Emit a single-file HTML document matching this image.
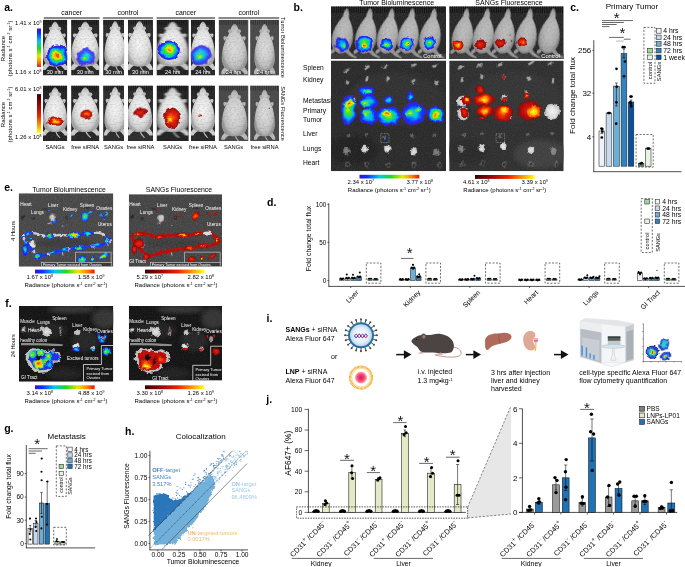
<!DOCTYPE html>
<html><head><meta charset="utf-8"><title>Figure</title>
<style>
html,body{margin:0;padding:0;background:#fff;}
svg{display:block;font-family:"Liberation Sans",sans-serif;}
</style></head>
<body>
<svg width="685" height="567" viewBox="0 0 685 567">
<rect x="0" y="0" width="685" height="567" fill="#fff"/>
<defs>
<linearGradient id="rbV" x1="0" y1="0" x2="0" y2="1">
 <stop offset="0" stop-color="#3a10d8"/><stop offset="0.12" stop-color="#0a30ff"/><stop offset="0.33" stop-color="#00c8f0"/>
 <stop offset="0.52" stop-color="#20d820"/><stop offset="0.72" stop-color="#e8e800"/><stop offset="0.88" stop-color="#ff8000"/><stop offset="1" stop-color="#e81010"/>
</linearGradient>
<linearGradient id="rbH" x1="0" y1="0" x2="1" y2="0">
 <stop offset="0" stop-color="#3a10d8"/><stop offset="0.12" stop-color="#0a30ff"/><stop offset="0.33" stop-color="#00c8f0"/>
 <stop offset="0.52" stop-color="#20d820"/><stop offset="0.72" stop-color="#e8e800"/><stop offset="0.88" stop-color="#ff8000"/><stop offset="1" stop-color="#e81010"/>
</linearGradient>
<linearGradient id="hotV" x1="0" y1="0" x2="0" y2="1">
 <stop offset="0" stop-color="#3a0000"/><stop offset="0.3" stop-color="#a00808"/><stop offset="0.55" stop-color="#f02000"/>
 <stop offset="0.78" stop-color="#ff9000"/><stop offset="1" stop-color="#ffff20"/>
</linearGradient>
<linearGradient id="hotH" x1="0" y1="0" x2="1" y2="0">
 <stop offset="0" stop-color="#3a0000"/><stop offset="0.3" stop-color="#a00808"/><stop offset="0.55" stop-color="#f02000"/>
 <stop offset="0.78" stop-color="#ff9000"/><stop offset="1" stop-color="#ffff20"/>
</linearGradient>
<radialGradient id="rbR">
 <stop offset="0" stop-color="#f02010"/><stop offset="0.15" stop-color="#ffb000"/><stop offset="0.3" stop-color="#e0e800"/>
 <stop offset="0.48" stop-color="#30e030"/><stop offset="0.66" stop-color="#00c0f0"/><stop offset="0.85" stop-color="#1030ff"/><stop offset="1" stop-color="#5018d0"/>
</radialGradient>
<radialGradient id="rbG">
 <stop offset="0" stop-color="#d8e800"/><stop offset="0.3" stop-color="#30e030"/>
 <stop offset="0.58" stop-color="#00c0f0"/><stop offset="0.85" stop-color="#1030ff"/><stop offset="1" stop-color="#5018d0"/>
</radialGradient>
<radialGradient id="rbB">
 <stop offset="0" stop-color="#30e090"/><stop offset="0.35" stop-color="#00b8f0"/><stop offset="0.75" stop-color="#1030ff"/><stop offset="1" stop-color="#4818d0"/>
</radialGradient>
<radialGradient id="hotR">
 <stop offset="0" stop-color="#ffff30"/><stop offset="0.3" stop-color="#ffa000"/><stop offset="0.6" stop-color="#f02000"/><stop offset="1" stop-color="#900808"/>
</radialGradient>
<radialGradient id="hotO">
 <stop offset="0" stop-color="#ff9800"/><stop offset="0.45" stop-color="#f02808"/><stop offset="1" stop-color="#900808"/>
</radialGradient>
<radialGradient id="hotD">
 <stop offset="0" stop-color="#f03010"/><stop offset="0.6" stop-color="#c01008"/><stop offset="1" stop-color="#800808"/>
</radialGradient>
<radialGradient id="dk"><stop offset="0" stop-color="#1c1c1c"/><stop offset="1" stop-color="#2a2a2a"/></radialGradient>
<radialGradient id="rbC"><stop offset="0" stop-color="#f01808"/><stop offset="0.3" stop-color="#ffa000"/><stop offset="0.55" stop-color="#e8f000"/><stop offset="0.8" stop-color="#40e040" stop-opacity="0.8"/><stop offset="1" stop-color="#20d8a0" stop-opacity="0"/></radialGradient>
<radialGradient id="rbGc"><stop offset="0" stop-color="#f0e800"/><stop offset="0.35" stop-color="#60e820"/><stop offset="0.7" stop-color="#10d8b0" stop-opacity="0.8"/><stop offset="1" stop-color="#00b8f0" stop-opacity="0"/></radialGradient>
<radialGradient id="hotC"><stop offset="0" stop-color="#ffff40"/><stop offset="0.45" stop-color="#ffc000"/><stop offset="0.8" stop-color="#ff6000" stop-opacity="0.7"/><stop offset="1" stop-color="#f02000" stop-opacity="0"/></radialGradient>
<radialGradient id="fur">
 <stop offset="0" stop-color="#f6f6f6"/><stop offset="0.55" stop-color="#e6e6e6"/><stop offset="0.85" stop-color="#cfcfcf"/><stop offset="1" stop-color="#a8a8a8"/>
</radialGradient>
<filter id="b03" x="-20%" y="-20%" width="140%" height="140%"><feGaussianBlur stdDeviation="0.35"/></filter>
<filter id="b06" x="-20%" y="-20%" width="140%" height="140%"><feGaussianBlur stdDeviation="0.6"/></filter>
<filter id="b1" x="-30%" y="-30%" width="160%" height="160%"><feGaussianBlur stdDeviation="1"/></filter>
<filter id="b2" x="-30%" y="-30%" width="160%" height="160%"><feGaussianBlur stdDeviation="2"/></filter>
<filter id="noise" x="0" y="0" width="100%" height="100%">
 <feTurbulence type="fractalNoise" baseFrequency="0.9" numOctaves="2" seed="3" result="n"/>
 <feColorMatrix type="matrix" values="0 0 0 0 1  0 0 0 0 1  0 0 0 0 1  0.6 0 0 0 -0.22"/>
</filter>
<filter id="noiseD" x="0" y="0" width="100%" height="100%">
 <feTurbulence type="fractalNoise" baseFrequency="0.6" numOctaves="2" seed="9" result="n"/>
 <feColorMatrix type="matrix" values="0 0 0 0 0  0 0 0 0 0  0 0 0 0 0  0.7 0 0 0 -0.25"/>
</filter>
<filter id="furf" x="-10%" y="-10%" width="120%" height="120%">
 <feTurbulence type="fractalNoise" baseFrequency="0.55" numOctaves="3" seed="2" result="n"/>
 <feColorMatrix in="n" type="matrix" values="0 0 0 0 0  0 0 0 0 0  0 0 0 0 0  0.62 0 0 0 -0.27" result="na"/>
 <feGaussianBlur in="SourceGraphic" stdDeviation="0.55" result="s"/>
 <feComposite in="na" in2="s" operator="in" result="dk"/>
 <feMerge><feMergeNode in="s"/><feMergeNode in="dk"/></feMerge>
</filter>
<filter id="irr" x="-30%" y="-30%" width="160%" height="160%">
 <feTurbulence type="fractalNoise" baseFrequency="0.16" numOctaves="2" seed="5" result="t"/>
 <feDisplacementMap in="SourceGraphic" in2="t" scale="5" xChannelSelector="R" yChannelSelector="G" result="d"/>
 <feGaussianBlur in="d" stdDeviation="0.25"/>
</filter>
<filter id="irr2" x="-30%" y="-30%" width="160%" height="160%">
 <feTurbulence type="fractalNoise" baseFrequency="0.3" numOctaves="2" seed="8" result="t"/>
 <feDisplacementMap in="SourceGraphic" in2="t" scale="4" xChannelSelector="G" yChannelSelector="R" result="d"/>
 <feGaussianBlur in="d" stdDeviation="0.25"/>
</filter>
<!-- mouse seen from above, head up. unit box: x -10..10, y 0..56 -->
<g id="mouse">
 <path d="M-6 45 C-9 48 -11 51 -10.5 54.5 L-8 54.5 C-7 52 -5 50 -3.5 49 Z M6 45 C9 48 11 51 10.5 54.5 L8 54.5 C7 52 5 50 3.5 49 Z" fill="#cfcfcf"/>
 <path d="M0.5 50 C1 53 2.5 55 4 57" stroke="#bbb" stroke-width="1" fill="none"/>
 <path d="M-5.5 15 C-8.5 13 -10 15 -8 19 Z M5.5 15 C8.5 13 10 15 8 19 Z" fill="#c8c8c8"/>
 <path d="M0 1 C-1.4 1.5 -2.6 4 -3.2 7.5 C-3.8 10.5 -5.2 13.5 -7 18 C-8.8 23 -10 30 -10.2 37 C-10.3 42 -9.2 46 -7 48.5 C-4 51.5 4 51.5 7 48.5 C9.2 46 10.3 42 10.2 37 C10 30 8.8 23 7 18 C5.2 13.5 3.8 10.5 3.2 7.5 C2.6 4 1.4 1.5 0 1 Z" fill="url(#fur)"/>
 <ellipse cx="-3.6" cy="9" rx="1.5" ry="2" fill="#c4c4c4"/><ellipse cx="3.6" cy="9" rx="1.5" ry="2" fill="#c4c4c4"/>
</g>
</defs>
<g opacity="0.999">
<text x="4.20" y="10.88" font-size="10.5" text-anchor="start" font-weight="bold" fill="#000" opacity="0.999">a.</text>
<rect x="43.80" y="17.00" width="55.80" height="2.00" fill="#8a8a8a" stroke="none" stroke-width="0.5"/>
<text x="71.70" y="14.71" font-size="6.9" text-anchor="middle" font-weight="normal" fill="#000" opacity="0.999">cancer</text>
<rect x="102.90" y="17.00" width="50.10" height="2.00" fill="#8a8a8a" stroke="none" stroke-width="0.5"/>
<text x="127.95" y="14.71" font-size="6.9" text-anchor="middle" font-weight="normal" fill="#000" opacity="0.999">control</text>
<rect x="156.60" y="17.00" width="58.40" height="2.00" fill="#8a8a8a" stroke="none" stroke-width="0.5"/>
<text x="185.80" y="14.71" font-size="6.9" text-anchor="middle" font-weight="normal" fill="#000" opacity="0.999">cancer</text>
<rect x="218.50" y="17.00" width="60.70" height="2.00" fill="#8a8a8a" stroke="none" stroke-width="0.5"/>
<text x="248.85" y="14.71" font-size="6.9" text-anchor="middle" font-weight="normal" fill="#000" opacity="0.999">control</text>
<clipPath id="cp1"><rect x="42.90" y="19.70" width="24.40" height="55.80"/></clipPath><g clip-path="url(#cp1)">
<rect x="42.90" y="19.70" width="24.40" height="55.80" fill="#242424" stroke="none" stroke-width="0.5"/>
<line x1="43.90" y1="19.70" x2="43.90" y2="24.70" stroke="#111" stroke-width="0.8"/>
<line x1="46.10" y1="19.70" x2="46.10" y2="24.70" stroke="#111" stroke-width="0.8"/>
<line x1="48.30" y1="19.70" x2="48.30" y2="24.70" stroke="#111" stroke-width="0.8"/>
<line x1="50.50" y1="19.70" x2="50.50" y2="24.70" stroke="#111" stroke-width="0.8"/>
<line x1="52.70" y1="19.70" x2="52.70" y2="24.70" stroke="#111" stroke-width="0.8"/>
<line x1="54.90" y1="19.70" x2="54.90" y2="24.70" stroke="#111" stroke-width="0.8"/>
<line x1="57.10" y1="19.70" x2="57.10" y2="24.70" stroke="#111" stroke-width="0.8"/>
<line x1="59.30" y1="19.70" x2="59.30" y2="24.70" stroke="#111" stroke-width="0.8"/>
<line x1="61.50" y1="19.70" x2="61.50" y2="24.70" stroke="#111" stroke-width="0.8"/>
<line x1="63.70" y1="19.70" x2="63.70" y2="24.70" stroke="#111" stroke-width="0.8"/>
<line x1="65.90" y1="19.70" x2="65.90" y2="24.70" stroke="#111" stroke-width="0.8"/>
<use href="#mouse" transform="translate(55.10 20.50) scale(1.196 0.907)" filter="url(#furf)"/>
<rect x="42.90" y="19.70" width="24.40" height="55.80" fill="#fff" stroke="none" stroke-width="0.5" filter="url(#noise)" opacity="0.22"/>
<ellipse cx="57.00" cy="55.60" rx="10.80" ry="11.00" fill="url(#rbR)" opacity="1" transform="rotate(0 57.00 55.60)" filter="url(#irr)"/>
</g>
<text x="55.10" y="73.86" font-size="5.6" text-anchor="middle" font-weight="normal" fill="#fff" opacity="0.999">30 min</text>
<clipPath id="cp2"><rect x="71.10" y="19.70" width="28.30" height="55.80"/></clipPath><g clip-path="url(#cp2)">
<rect x="71.10" y="19.70" width="28.30" height="55.80" fill="#262626" stroke="none" stroke-width="0.5"/>
<line x1="72.10" y1="19.70" x2="72.10" y2="24.70" stroke="#111" stroke-width="0.8"/>
<line x1="74.30" y1="19.70" x2="74.30" y2="24.70" stroke="#111" stroke-width="0.8"/>
<line x1="76.50" y1="19.70" x2="76.50" y2="24.70" stroke="#111" stroke-width="0.8"/>
<line x1="78.70" y1="19.70" x2="78.70" y2="24.70" stroke="#111" stroke-width="0.8"/>
<line x1="80.90" y1="19.70" x2="80.90" y2="24.70" stroke="#111" stroke-width="0.8"/>
<line x1="83.10" y1="19.70" x2="83.10" y2="24.70" stroke="#111" stroke-width="0.8"/>
<line x1="85.30" y1="19.70" x2="85.30" y2="24.70" stroke="#111" stroke-width="0.8"/>
<line x1="87.50" y1="19.70" x2="87.50" y2="24.70" stroke="#111" stroke-width="0.8"/>
<line x1="89.70" y1="19.70" x2="89.70" y2="24.70" stroke="#111" stroke-width="0.8"/>
<line x1="91.90" y1="19.70" x2="91.90" y2="24.70" stroke="#111" stroke-width="0.8"/>
<line x1="94.10" y1="19.70" x2="94.10" y2="24.70" stroke="#111" stroke-width="0.8"/>
<line x1="96.30" y1="19.70" x2="96.30" y2="24.70" stroke="#111" stroke-width="0.8"/>
<use href="#mouse" transform="translate(85.25 20.50) scale(1.387 0.907)" filter="url(#furf)"/>
<rect x="71.10" y="19.70" width="28.30" height="55.80" fill="#fff" stroke="none" stroke-width="0.5" filter="url(#noise)" opacity="0.22"/>
<ellipse cx="86.00" cy="56.80" rx="9.00" ry="9.00" fill="url(#rbB)" opacity="0.85" transform="rotate(-20 86.00 56.80)" filter="url(#irr)"/>
<ellipse cx="85.00" cy="59.00" rx="5.00" ry="3.60" fill="url(#rbGc)" opacity="1" transform="rotate(0 85.00 59.00)" filter="url(#irr)"/>
</g>
<text x="85.25" y="73.86" font-size="5.6" text-anchor="middle" font-weight="normal" fill="#fff" opacity="0.999">30 min</text>
<clipPath id="cp3"><rect x="103.10" y="19.70" width="21.00" height="55.80"/></clipPath><g clip-path="url(#cp3)">
<rect x="103.10" y="19.70" width="21.00" height="55.80" fill="#2c2c2c" stroke="none" stroke-width="0.5"/>
<line x1="104.10" y1="19.70" x2="104.10" y2="24.70" stroke="#111" stroke-width="0.8"/>
<line x1="106.30" y1="19.70" x2="106.30" y2="24.70" stroke="#111" stroke-width="0.8"/>
<line x1="108.50" y1="19.70" x2="108.50" y2="24.70" stroke="#111" stroke-width="0.8"/>
<line x1="110.70" y1="19.70" x2="110.70" y2="24.70" stroke="#111" stroke-width="0.8"/>
<line x1="112.90" y1="19.70" x2="112.90" y2="24.70" stroke="#111" stroke-width="0.8"/>
<line x1="115.10" y1="19.70" x2="115.10" y2="24.70" stroke="#111" stroke-width="0.8"/>
<line x1="117.30" y1="19.70" x2="117.30" y2="24.70" stroke="#111" stroke-width="0.8"/>
<line x1="119.50" y1="19.70" x2="119.50" y2="24.70" stroke="#111" stroke-width="0.8"/>
<line x1="121.70" y1="19.70" x2="121.70" y2="24.70" stroke="#111" stroke-width="0.8"/>
<use href="#mouse" transform="translate(115.10 20.00) scale(1.050 0.917)" filter="url(#furf)"/>
<rect x="103.10" y="19.70" width="21.00" height="55.80" fill="#fff" stroke="none" stroke-width="0.5" filter="url(#noise)" opacity="0.22"/>
</g>
<text x="113.60" y="73.86" font-size="5.6" text-anchor="middle" font-weight="normal" fill="#fff" opacity="0.999">30 min</text>
<clipPath id="cp4"><rect x="128.00" y="19.70" width="25.00" height="55.80"/></clipPath><g clip-path="url(#cp4)">
<rect x="128.00" y="19.70" width="25.00" height="55.80" fill="#2c2c2c" stroke="none" stroke-width="0.5"/>
<line x1="129.00" y1="19.70" x2="129.00" y2="24.70" stroke="#111" stroke-width="0.8"/>
<line x1="131.20" y1="19.70" x2="131.20" y2="24.70" stroke="#111" stroke-width="0.8"/>
<line x1="133.40" y1="19.70" x2="133.40" y2="24.70" stroke="#111" stroke-width="0.8"/>
<line x1="135.60" y1="19.70" x2="135.60" y2="24.70" stroke="#111" stroke-width="0.8"/>
<line x1="137.80" y1="19.70" x2="137.80" y2="24.70" stroke="#111" stroke-width="0.8"/>
<line x1="140.00" y1="19.70" x2="140.00" y2="24.70" stroke="#111" stroke-width="0.8"/>
<line x1="142.20" y1="19.70" x2="142.20" y2="24.70" stroke="#111" stroke-width="0.8"/>
<line x1="144.40" y1="19.70" x2="144.40" y2="24.70" stroke="#111" stroke-width="0.8"/>
<line x1="146.60" y1="19.70" x2="146.60" y2="24.70" stroke="#111" stroke-width="0.8"/>
<line x1="148.80" y1="19.70" x2="148.80" y2="24.70" stroke="#111" stroke-width="0.8"/>
<line x1="151.00" y1="19.70" x2="151.00" y2="24.70" stroke="#111" stroke-width="0.8"/>
<use href="#mouse" transform="translate(139.50 20.00) scale(1.250 0.917)" filter="url(#furf)"/>
<rect x="128.00" y="19.70" width="25.00" height="55.80" fill="#fff" stroke="none" stroke-width="0.5" filter="url(#noise)" opacity="0.22"/>
</g>
<text x="140.50" y="73.86" font-size="5.6" text-anchor="middle" font-weight="normal" fill="#fff" opacity="0.999">30 min</text>
<clipPath id="cp5"><rect x="156.50" y="19.70" width="32.30" height="55.80"/></clipPath><g clip-path="url(#cp5)">
<rect x="156.50" y="19.70" width="32.30" height="55.80" fill="#222222" stroke="none" stroke-width="0.5"/>
<line x1="157.50" y1="19.70" x2="157.50" y2="24.70" stroke="#111" stroke-width="0.8"/>
<line x1="159.70" y1="19.70" x2="159.70" y2="24.70" stroke="#111" stroke-width="0.8"/>
<line x1="161.90" y1="19.70" x2="161.90" y2="24.70" stroke="#111" stroke-width="0.8"/>
<line x1="164.10" y1="19.70" x2="164.10" y2="24.70" stroke="#111" stroke-width="0.8"/>
<line x1="166.30" y1="19.70" x2="166.30" y2="24.70" stroke="#111" stroke-width="0.8"/>
<line x1="168.50" y1="19.70" x2="168.50" y2="24.70" stroke="#111" stroke-width="0.8"/>
<line x1="170.70" y1="19.70" x2="170.70" y2="24.70" stroke="#111" stroke-width="0.8"/>
<line x1="172.90" y1="19.70" x2="172.90" y2="24.70" stroke="#111" stroke-width="0.8"/>
<line x1="175.10" y1="19.70" x2="175.10" y2="24.70" stroke="#111" stroke-width="0.8"/>
<line x1="177.30" y1="19.70" x2="177.30" y2="24.70" stroke="#111" stroke-width="0.8"/>
<line x1="179.50" y1="19.70" x2="179.50" y2="24.70" stroke="#111" stroke-width="0.8"/>
<line x1="181.70" y1="19.70" x2="181.70" y2="24.70" stroke="#111" stroke-width="0.8"/>
<line x1="183.90" y1="19.70" x2="183.90" y2="24.70" stroke="#111" stroke-width="0.8"/>
<line x1="186.10" y1="19.70" x2="186.10" y2="24.70" stroke="#111" stroke-width="0.8"/>
<use href="#mouse" transform="translate(172.65 20.50) scale(1.583 0.907)" filter="url(#furf)"/>
<rect x="156.50" y="19.70" width="32.30" height="55.80" fill="#fff" stroke="none" stroke-width="0.5" filter="url(#noise)" opacity="0.22"/>
<ellipse cx="169.20" cy="50.20" rx="10.80" ry="9.80" fill="url(#rbR)" opacity="1" transform="rotate(0 169.20 50.20)" filter="url(#irr)"/>
</g>
<text x="172.65" y="73.86" font-size="5.6" text-anchor="middle" font-weight="normal" fill="#fff" opacity="0.999">24 hrs</text>
<clipPath id="cp6"><rect x="190.80" y="19.70" width="24.20" height="55.80"/></clipPath><g clip-path="url(#cp6)">
<rect x="190.80" y="19.70" width="24.20" height="55.80" fill="#262626" stroke="none" stroke-width="0.5"/>
<line x1="191.80" y1="19.70" x2="191.80" y2="24.70" stroke="#111" stroke-width="0.8"/>
<line x1="194.00" y1="19.70" x2="194.00" y2="24.70" stroke="#111" stroke-width="0.8"/>
<line x1="196.20" y1="19.70" x2="196.20" y2="24.70" stroke="#111" stroke-width="0.8"/>
<line x1="198.40" y1="19.70" x2="198.40" y2="24.70" stroke="#111" stroke-width="0.8"/>
<line x1="200.60" y1="19.70" x2="200.60" y2="24.70" stroke="#111" stroke-width="0.8"/>
<line x1="202.80" y1="19.70" x2="202.80" y2="24.70" stroke="#111" stroke-width="0.8"/>
<line x1="205.00" y1="19.70" x2="205.00" y2="24.70" stroke="#111" stroke-width="0.8"/>
<line x1="207.20" y1="19.70" x2="207.20" y2="24.70" stroke="#111" stroke-width="0.8"/>
<line x1="209.40" y1="19.70" x2="209.40" y2="24.70" stroke="#111" stroke-width="0.8"/>
<line x1="211.60" y1="19.70" x2="211.60" y2="24.70" stroke="#111" stroke-width="0.8"/>
<use href="#mouse" transform="translate(202.90 20.50) scale(1.186 0.907)" filter="url(#furf)"/>
<rect x="190.80" y="19.70" width="24.20" height="55.80" fill="#fff" stroke="none" stroke-width="0.5" filter="url(#noise)" opacity="0.22"/>
<ellipse cx="200.50" cy="54.80" rx="11.00" ry="10.00" fill="url(#rbB)" opacity="0.85" transform="rotate(-35 200.50 54.80)" filter="url(#irr)"/>
<ellipse cx="200.00" cy="57.00" rx="6.00" ry="4.60" fill="url(#rbGc)" opacity="1" transform="rotate(-30 200.00 57.00)" filter="url(#irr)"/>
</g>
<text x="202.90" y="73.86" font-size="5.6" text-anchor="middle" font-weight="normal" fill="#fff" opacity="0.999">24 hrs</text>
<clipPath id="cp7"><rect x="218.60" y="19.70" width="29.90" height="55.80"/></clipPath><g clip-path="url(#cp7)">
<rect x="218.60" y="19.70" width="29.90" height="55.80" fill="#474747" stroke="none" stroke-width="0.5"/>
<line x1="219.60" y1="19.70" x2="219.60" y2="24.70" stroke="#2a2a2a" stroke-width="0.8"/>
<line x1="221.80" y1="19.70" x2="221.80" y2="24.70" stroke="#2a2a2a" stroke-width="0.8"/>
<line x1="224.00" y1="19.70" x2="224.00" y2="24.70" stroke="#2a2a2a" stroke-width="0.8"/>
<line x1="226.20" y1="19.70" x2="226.20" y2="24.70" stroke="#2a2a2a" stroke-width="0.8"/>
<line x1="228.40" y1="19.70" x2="228.40" y2="24.70" stroke="#2a2a2a" stroke-width="0.8"/>
<line x1="230.60" y1="19.70" x2="230.60" y2="24.70" stroke="#2a2a2a" stroke-width="0.8"/>
<line x1="232.80" y1="19.70" x2="232.80" y2="24.70" stroke="#2a2a2a" stroke-width="0.8"/>
<line x1="235.00" y1="19.70" x2="235.00" y2="24.70" stroke="#2a2a2a" stroke-width="0.8"/>
<line x1="237.20" y1="19.70" x2="237.20" y2="24.70" stroke="#2a2a2a" stroke-width="0.8"/>
<line x1="239.40" y1="19.70" x2="239.40" y2="24.70" stroke="#2a2a2a" stroke-width="0.8"/>
<line x1="241.60" y1="19.70" x2="241.60" y2="24.70" stroke="#2a2a2a" stroke-width="0.8"/>
<line x1="243.80" y1="19.70" x2="243.80" y2="24.70" stroke="#2a2a2a" stroke-width="0.8"/>
<line x1="246.00" y1="19.70" x2="246.00" y2="24.70" stroke="#2a2a2a" stroke-width="0.8"/>
<use href="#mouse" transform="translate(234.55 22.70) scale(1.256 0.947)" filter="url(#furf)" opacity="0.86"/>
<rect x="218.60" y="19.70" width="29.90" height="55.80" fill="#fff" stroke="none" stroke-width="0.5" filter="url(#noise)" opacity="0.22"/>
</g>
<text x="233.55" y="73.86" font-size="5.6" text-anchor="middle" font-weight="normal" fill="#fff" opacity="0.999">24 hrs</text>
<clipPath id="cp8"><rect x="250.10" y="19.70" width="29.00" height="55.80"/></clipPath><g clip-path="url(#cp8)">
<rect x="250.10" y="19.70" width="29.00" height="55.80" fill="#494949" stroke="none" stroke-width="0.5"/>
<line x1="251.10" y1="19.70" x2="251.10" y2="24.70" stroke="#2a2a2a" stroke-width="0.8"/>
<line x1="253.30" y1="19.70" x2="253.30" y2="24.70" stroke="#2a2a2a" stroke-width="0.8"/>
<line x1="255.50" y1="19.70" x2="255.50" y2="24.70" stroke="#2a2a2a" stroke-width="0.8"/>
<line x1="257.70" y1="19.70" x2="257.70" y2="24.70" stroke="#2a2a2a" stroke-width="0.8"/>
<line x1="259.90" y1="19.70" x2="259.90" y2="24.70" stroke="#2a2a2a" stroke-width="0.8"/>
<line x1="262.10" y1="19.70" x2="262.10" y2="24.70" stroke="#2a2a2a" stroke-width="0.8"/>
<line x1="264.30" y1="19.70" x2="264.30" y2="24.70" stroke="#2a2a2a" stroke-width="0.8"/>
<line x1="266.50" y1="19.70" x2="266.50" y2="24.70" stroke="#2a2a2a" stroke-width="0.8"/>
<line x1="268.70" y1="19.70" x2="268.70" y2="24.70" stroke="#2a2a2a" stroke-width="0.8"/>
<line x1="270.90" y1="19.70" x2="270.90" y2="24.70" stroke="#2a2a2a" stroke-width="0.8"/>
<line x1="273.10" y1="19.70" x2="273.10" y2="24.70" stroke="#2a2a2a" stroke-width="0.8"/>
<line x1="275.30" y1="19.70" x2="275.30" y2="24.70" stroke="#2a2a2a" stroke-width="0.8"/>
<line x1="277.50" y1="19.70" x2="277.50" y2="24.70" stroke="#2a2a2a" stroke-width="0.8"/>
<use href="#mouse" transform="translate(264.60 22.70) scale(1.015 0.947)" filter="url(#furf)" opacity="0.86"/>
<rect x="250.10" y="19.70" width="29.00" height="55.80" fill="#fff" stroke="none" stroke-width="0.5" filter="url(#noise)" opacity="0.22"/>
</g>
<text x="264.60" y="73.86" font-size="5.6" text-anchor="middle" font-weight="normal" fill="#fff" opacity="0.999">24 hrs</text>
<clipPath id="cp9"><rect x="42.90" y="85.50" width="24.40" height="55.50"/></clipPath><g clip-path="url(#cp9)">
<rect x="42.90" y="85.50" width="24.40" height="55.50" fill="#242424" stroke="none" stroke-width="0.5"/>
<line x1="43.90" y1="85.50" x2="43.90" y2="90.50" stroke="#111" stroke-width="0.8"/>
<line x1="46.10" y1="85.50" x2="46.10" y2="90.50" stroke="#111" stroke-width="0.8"/>
<line x1="48.30" y1="85.50" x2="48.30" y2="90.50" stroke="#111" stroke-width="0.8"/>
<line x1="50.50" y1="85.50" x2="50.50" y2="90.50" stroke="#111" stroke-width="0.8"/>
<line x1="52.70" y1="85.50" x2="52.70" y2="90.50" stroke="#111" stroke-width="0.8"/>
<line x1="54.90" y1="85.50" x2="54.90" y2="90.50" stroke="#111" stroke-width="0.8"/>
<line x1="57.10" y1="85.50" x2="57.10" y2="90.50" stroke="#111" stroke-width="0.8"/>
<line x1="59.30" y1="85.50" x2="59.30" y2="90.50" stroke="#111" stroke-width="0.8"/>
<line x1="61.50" y1="85.50" x2="61.50" y2="90.50" stroke="#111" stroke-width="0.8"/>
<line x1="63.70" y1="85.50" x2="63.70" y2="90.50" stroke="#111" stroke-width="0.8"/>
<line x1="65.90" y1="85.50" x2="65.90" y2="90.50" stroke="#111" stroke-width="0.8"/>
<use href="#mouse" transform="translate(55.10 86.30) scale(1.196 0.902)" filter="url(#furf)"/>
<rect x="42.90" y="85.50" width="24.40" height="55.50" fill="#fff" stroke="none" stroke-width="0.5" filter="url(#noise)" opacity="0.22"/>
<ellipse cx="55.60" cy="121.50" rx="8.40" ry="4.20" fill="url(#hotR)" opacity="1" transform="rotate(0 55.60 121.50)" filter="url(#irr)"/>
</g>
<text x="55.10" y="148.81" font-size="5.75" text-anchor="middle" font-weight="normal" fill="#000" opacity="0.999">SANGs</text>
<clipPath id="cp10"><rect x="71.10" y="85.50" width="28.30" height="55.50"/></clipPath><g clip-path="url(#cp10)">
<rect x="71.10" y="85.50" width="28.30" height="55.50" fill="#262626" stroke="none" stroke-width="0.5"/>
<line x1="72.10" y1="85.50" x2="72.10" y2="90.50" stroke="#111" stroke-width="0.8"/>
<line x1="74.30" y1="85.50" x2="74.30" y2="90.50" stroke="#111" stroke-width="0.8"/>
<line x1="76.50" y1="85.50" x2="76.50" y2="90.50" stroke="#111" stroke-width="0.8"/>
<line x1="78.70" y1="85.50" x2="78.70" y2="90.50" stroke="#111" stroke-width="0.8"/>
<line x1="80.90" y1="85.50" x2="80.90" y2="90.50" stroke="#111" stroke-width="0.8"/>
<line x1="83.10" y1="85.50" x2="83.10" y2="90.50" stroke="#111" stroke-width="0.8"/>
<line x1="85.30" y1="85.50" x2="85.30" y2="90.50" stroke="#111" stroke-width="0.8"/>
<line x1="87.50" y1="85.50" x2="87.50" y2="90.50" stroke="#111" stroke-width="0.8"/>
<line x1="89.70" y1="85.50" x2="89.70" y2="90.50" stroke="#111" stroke-width="0.8"/>
<line x1="91.90" y1="85.50" x2="91.90" y2="90.50" stroke="#111" stroke-width="0.8"/>
<line x1="94.10" y1="85.50" x2="94.10" y2="90.50" stroke="#111" stroke-width="0.8"/>
<line x1="96.30" y1="85.50" x2="96.30" y2="90.50" stroke="#111" stroke-width="0.8"/>
<use href="#mouse" transform="translate(85.25 86.30) scale(1.387 0.902)" filter="url(#furf)"/>
<rect x="71.10" y="85.50" width="28.30" height="55.50" fill="#fff" stroke="none" stroke-width="0.5" filter="url(#noise)" opacity="0.22"/>
<ellipse cx="86.50" cy="114.40" rx="6.20" ry="4.60" fill="url(#hotO)" opacity="1" transform="rotate(-12 86.50 114.40)" filter="url(#irr)"/>
</g>
<text x="85.25" y="148.81" font-size="5.75" text-anchor="middle" font-weight="normal" fill="#000" opacity="0.999">free siRNA</text>
<clipPath id="cp11"><rect x="103.10" y="85.50" width="21.00" height="55.50"/></clipPath><g clip-path="url(#cp11)">
<rect x="103.10" y="85.50" width="21.00" height="55.50" fill="#2c2c2c" stroke="none" stroke-width="0.5"/>
<line x1="104.10" y1="85.50" x2="104.10" y2="90.50" stroke="#111" stroke-width="0.8"/>
<line x1="106.30" y1="85.50" x2="106.30" y2="90.50" stroke="#111" stroke-width="0.8"/>
<line x1="108.50" y1="85.50" x2="108.50" y2="90.50" stroke="#111" stroke-width="0.8"/>
<line x1="110.70" y1="85.50" x2="110.70" y2="90.50" stroke="#111" stroke-width="0.8"/>
<line x1="112.90" y1="85.50" x2="112.90" y2="90.50" stroke="#111" stroke-width="0.8"/>
<line x1="115.10" y1="85.50" x2="115.10" y2="90.50" stroke="#111" stroke-width="0.8"/>
<line x1="117.30" y1="85.50" x2="117.30" y2="90.50" stroke="#111" stroke-width="0.8"/>
<line x1="119.50" y1="85.50" x2="119.50" y2="90.50" stroke="#111" stroke-width="0.8"/>
<line x1="121.70" y1="85.50" x2="121.70" y2="90.50" stroke="#111" stroke-width="0.8"/>
<use href="#mouse" transform="translate(115.10 85.80) scale(1.050 0.912)" filter="url(#furf)"/>
<rect x="103.10" y="85.50" width="21.00" height="55.50" fill="#fff" stroke="none" stroke-width="0.5" filter="url(#noise)" opacity="0.22"/>
</g>
<text x="113.60" y="148.81" font-size="5.75" text-anchor="middle" font-weight="normal" fill="#000" opacity="0.999">SANGs</text>
<clipPath id="cp12"><rect x="128.00" y="85.50" width="25.00" height="55.50"/></clipPath><g clip-path="url(#cp12)">
<rect x="128.00" y="85.50" width="25.00" height="55.50" fill="#2c2c2c" stroke="none" stroke-width="0.5"/>
<line x1="129.00" y1="85.50" x2="129.00" y2="90.50" stroke="#111" stroke-width="0.8"/>
<line x1="131.20" y1="85.50" x2="131.20" y2="90.50" stroke="#111" stroke-width="0.8"/>
<line x1="133.40" y1="85.50" x2="133.40" y2="90.50" stroke="#111" stroke-width="0.8"/>
<line x1="135.60" y1="85.50" x2="135.60" y2="90.50" stroke="#111" stroke-width="0.8"/>
<line x1="137.80" y1="85.50" x2="137.80" y2="90.50" stroke="#111" stroke-width="0.8"/>
<line x1="140.00" y1="85.50" x2="140.00" y2="90.50" stroke="#111" stroke-width="0.8"/>
<line x1="142.20" y1="85.50" x2="142.20" y2="90.50" stroke="#111" stroke-width="0.8"/>
<line x1="144.40" y1="85.50" x2="144.40" y2="90.50" stroke="#111" stroke-width="0.8"/>
<line x1="146.60" y1="85.50" x2="146.60" y2="90.50" stroke="#111" stroke-width="0.8"/>
<line x1="148.80" y1="85.50" x2="148.80" y2="90.50" stroke="#111" stroke-width="0.8"/>
<line x1="151.00" y1="85.50" x2="151.00" y2="90.50" stroke="#111" stroke-width="0.8"/>
<use href="#mouse" transform="translate(139.50 85.80) scale(1.250 0.912)" filter="url(#furf)"/>
<rect x="128.00" y="85.50" width="25.00" height="55.50" fill="#fff" stroke="none" stroke-width="0.5" filter="url(#noise)" opacity="0.22"/>
<ellipse cx="140.30" cy="112.80" rx="7.00" ry="4.20" fill="url(#hotD)" opacity="1" transform="rotate(-8 140.30 112.80)" filter="url(#irr)"/>
</g>
<text x="140.50" y="148.81" font-size="5.75" text-anchor="middle" font-weight="normal" fill="#000" opacity="0.999">free siRNA</text>
<clipPath id="cp13"><rect x="156.50" y="85.50" width="32.30" height="55.50"/></clipPath><g clip-path="url(#cp13)">
<rect x="156.50" y="85.50" width="32.30" height="55.50" fill="#222222" stroke="none" stroke-width="0.5"/>
<line x1="157.50" y1="85.50" x2="157.50" y2="90.50" stroke="#111" stroke-width="0.8"/>
<line x1="159.70" y1="85.50" x2="159.70" y2="90.50" stroke="#111" stroke-width="0.8"/>
<line x1="161.90" y1="85.50" x2="161.90" y2="90.50" stroke="#111" stroke-width="0.8"/>
<line x1="164.10" y1="85.50" x2="164.10" y2="90.50" stroke="#111" stroke-width="0.8"/>
<line x1="166.30" y1="85.50" x2="166.30" y2="90.50" stroke="#111" stroke-width="0.8"/>
<line x1="168.50" y1="85.50" x2="168.50" y2="90.50" stroke="#111" stroke-width="0.8"/>
<line x1="170.70" y1="85.50" x2="170.70" y2="90.50" stroke="#111" stroke-width="0.8"/>
<line x1="172.90" y1="85.50" x2="172.90" y2="90.50" stroke="#111" stroke-width="0.8"/>
<line x1="175.10" y1="85.50" x2="175.10" y2="90.50" stroke="#111" stroke-width="0.8"/>
<line x1="177.30" y1="85.50" x2="177.30" y2="90.50" stroke="#111" stroke-width="0.8"/>
<line x1="179.50" y1="85.50" x2="179.50" y2="90.50" stroke="#111" stroke-width="0.8"/>
<line x1="181.70" y1="85.50" x2="181.70" y2="90.50" stroke="#111" stroke-width="0.8"/>
<line x1="183.90" y1="85.50" x2="183.90" y2="90.50" stroke="#111" stroke-width="0.8"/>
<line x1="186.10" y1="85.50" x2="186.10" y2="90.50" stroke="#111" stroke-width="0.8"/>
<use href="#mouse" transform="translate(172.65 86.30) scale(1.583 0.902)" filter="url(#furf)"/>
<rect x="156.50" y="85.50" width="32.30" height="55.50" fill="#fff" stroke="none" stroke-width="0.5" filter="url(#noise)" opacity="0.22"/>
<ellipse cx="172.00" cy="118.20" rx="8.20" ry="10.80" fill="url(#hotO)" opacity="1" transform="rotate(0 172.00 118.20)" filter="url(#irr)"/>
<ellipse cx="170.00" cy="120.00" rx="4.50" ry="4.00" fill="url(#hotC)" opacity="1" transform="rotate(0 170.00 120.00)" filter="url(#irr)"/>
</g>
<text x="172.65" y="148.81" font-size="5.75" text-anchor="middle" font-weight="normal" fill="#000" opacity="0.999">SANGs</text>
<clipPath id="cp14"><rect x="190.80" y="85.50" width="24.20" height="55.50"/></clipPath><g clip-path="url(#cp14)">
<rect x="190.80" y="85.50" width="24.20" height="55.50" fill="#262626" stroke="none" stroke-width="0.5"/>
<line x1="191.80" y1="85.50" x2="191.80" y2="90.50" stroke="#111" stroke-width="0.8"/>
<line x1="194.00" y1="85.50" x2="194.00" y2="90.50" stroke="#111" stroke-width="0.8"/>
<line x1="196.20" y1="85.50" x2="196.20" y2="90.50" stroke="#111" stroke-width="0.8"/>
<line x1="198.40" y1="85.50" x2="198.40" y2="90.50" stroke="#111" stroke-width="0.8"/>
<line x1="200.60" y1="85.50" x2="200.60" y2="90.50" stroke="#111" stroke-width="0.8"/>
<line x1="202.80" y1="85.50" x2="202.80" y2="90.50" stroke="#111" stroke-width="0.8"/>
<line x1="205.00" y1="85.50" x2="205.00" y2="90.50" stroke="#111" stroke-width="0.8"/>
<line x1="207.20" y1="85.50" x2="207.20" y2="90.50" stroke="#111" stroke-width="0.8"/>
<line x1="209.40" y1="85.50" x2="209.40" y2="90.50" stroke="#111" stroke-width="0.8"/>
<line x1="211.60" y1="85.50" x2="211.60" y2="90.50" stroke="#111" stroke-width="0.8"/>
<use href="#mouse" transform="translate(202.90 86.30) scale(1.186 0.902)" filter="url(#furf)"/>
<rect x="190.80" y="85.50" width="24.20" height="55.50" fill="#fff" stroke="none" stroke-width="0.5" filter="url(#noise)" opacity="0.22"/>
<ellipse cx="200.30" cy="115.60" rx="1.80" ry="1.10" fill="url(#hotD)" opacity="1" transform="rotate(0 200.30 115.60)" filter="url(#irr)"/>
</g>
<text x="202.90" y="148.81" font-size="5.75" text-anchor="middle" font-weight="normal" fill="#000" opacity="0.999">free siRNA</text>
<clipPath id="cp15"><rect x="218.60" y="85.50" width="29.90" height="55.50"/></clipPath><g clip-path="url(#cp15)">
<rect x="218.60" y="85.50" width="29.90" height="55.50" fill="#474747" stroke="none" stroke-width="0.5"/>
<line x1="219.60" y1="85.50" x2="219.60" y2="90.50" stroke="#2a2a2a" stroke-width="0.8"/>
<line x1="221.80" y1="85.50" x2="221.80" y2="90.50" stroke="#2a2a2a" stroke-width="0.8"/>
<line x1="224.00" y1="85.50" x2="224.00" y2="90.50" stroke="#2a2a2a" stroke-width="0.8"/>
<line x1="226.20" y1="85.50" x2="226.20" y2="90.50" stroke="#2a2a2a" stroke-width="0.8"/>
<line x1="228.40" y1="85.50" x2="228.40" y2="90.50" stroke="#2a2a2a" stroke-width="0.8"/>
<line x1="230.60" y1="85.50" x2="230.60" y2="90.50" stroke="#2a2a2a" stroke-width="0.8"/>
<line x1="232.80" y1="85.50" x2="232.80" y2="90.50" stroke="#2a2a2a" stroke-width="0.8"/>
<line x1="235.00" y1="85.50" x2="235.00" y2="90.50" stroke="#2a2a2a" stroke-width="0.8"/>
<line x1="237.20" y1="85.50" x2="237.20" y2="90.50" stroke="#2a2a2a" stroke-width="0.8"/>
<line x1="239.40" y1="85.50" x2="239.40" y2="90.50" stroke="#2a2a2a" stroke-width="0.8"/>
<line x1="241.60" y1="85.50" x2="241.60" y2="90.50" stroke="#2a2a2a" stroke-width="0.8"/>
<line x1="243.80" y1="85.50" x2="243.80" y2="90.50" stroke="#2a2a2a" stroke-width="0.8"/>
<line x1="246.00" y1="85.50" x2="246.00" y2="90.50" stroke="#2a2a2a" stroke-width="0.8"/>
<use href="#mouse" transform="translate(234.55 88.50) scale(1.256 0.942)" filter="url(#furf)" opacity="0.86"/>
<rect x="218.60" y="85.50" width="29.90" height="55.50" fill="#fff" stroke="none" stroke-width="0.5" filter="url(#noise)" opacity="0.22"/>
</g>
<text x="233.55" y="148.81" font-size="5.75" text-anchor="middle" font-weight="normal" fill="#000" opacity="0.999">SANGs</text>
<clipPath id="cp16"><rect x="250.10" y="85.50" width="29.00" height="55.50"/></clipPath><g clip-path="url(#cp16)">
<rect x="250.10" y="85.50" width="29.00" height="55.50" fill="#494949" stroke="none" stroke-width="0.5"/>
<line x1="251.10" y1="85.50" x2="251.10" y2="90.50" stroke="#2a2a2a" stroke-width="0.8"/>
<line x1="253.30" y1="85.50" x2="253.30" y2="90.50" stroke="#2a2a2a" stroke-width="0.8"/>
<line x1="255.50" y1="85.50" x2="255.50" y2="90.50" stroke="#2a2a2a" stroke-width="0.8"/>
<line x1="257.70" y1="85.50" x2="257.70" y2="90.50" stroke="#2a2a2a" stroke-width="0.8"/>
<line x1="259.90" y1="85.50" x2="259.90" y2="90.50" stroke="#2a2a2a" stroke-width="0.8"/>
<line x1="262.10" y1="85.50" x2="262.10" y2="90.50" stroke="#2a2a2a" stroke-width="0.8"/>
<line x1="264.30" y1="85.50" x2="264.30" y2="90.50" stroke="#2a2a2a" stroke-width="0.8"/>
<line x1="266.50" y1="85.50" x2="266.50" y2="90.50" stroke="#2a2a2a" stroke-width="0.8"/>
<line x1="268.70" y1="85.50" x2="268.70" y2="90.50" stroke="#2a2a2a" stroke-width="0.8"/>
<line x1="270.90" y1="85.50" x2="270.90" y2="90.50" stroke="#2a2a2a" stroke-width="0.8"/>
<line x1="273.10" y1="85.50" x2="273.10" y2="90.50" stroke="#2a2a2a" stroke-width="0.8"/>
<line x1="275.30" y1="85.50" x2="275.30" y2="90.50" stroke="#2a2a2a" stroke-width="0.8"/>
<line x1="277.50" y1="85.50" x2="277.50" y2="90.50" stroke="#2a2a2a" stroke-width="0.8"/>
<use href="#mouse" transform="translate(264.60 88.50) scale(1.015 0.942)" filter="url(#furf)" opacity="0.86"/>
<rect x="250.10" y="85.50" width="29.00" height="55.50" fill="#fff" stroke="none" stroke-width="0.5" filter="url(#noise)" opacity="0.22"/>
<circle cx="269.30" cy="108.30" r="0.6" fill="#a00000"/>
</g>
<text x="264.60" y="148.81" font-size="5.75" text-anchor="middle" font-weight="normal" fill="#000" opacity="0.999">free siRNA</text>
<rect x="37.00" y="28.50" width="4.00" height="38.40" fill="url(#rbV)" stroke="none" stroke-width="0.5"/>
<rect x="37.00" y="94.10" width="4.00" height="38.90" fill="url(#hotV)" stroke="none" stroke-width="0.5"/>
<text x="41.50" y="25.28" font-size="5.95" text-anchor="end" font-weight="normal" fill="#000" opacity="0.999">1.41 x 10<tspan dy="-2.14" font-size="3.57">9</tspan></text>
<text x="41.50" y="74.28" font-size="5.95" text-anchor="end" font-weight="normal" fill="#000" opacity="0.999">1.16 x 10<tspan dy="-2.14" font-size="3.57">8</tspan></text>
<text x="41.50" y="91.48" font-size="5.95" text-anchor="end" font-weight="normal" fill="#000" opacity="0.999">6.01 x 10<tspan dy="-2.14" font-size="3.57">8</tspan></text>
<text x="41.50" y="139.08" font-size="5.95" text-anchor="end" font-weight="normal" fill="#000" opacity="0.999">1.26 x 10<tspan dy="-2.14" font-size="3.57">8</tspan></text>
<text x="3.20" y="50.60" font-size="6.0" text-anchor="middle" font-weight="normal" fill="#000" opacity="0.999" transform="rotate(-90 3.20 48.50)">Radiance</text>
<text x="10.00" y="50.60" font-size="6.0" text-anchor="middle" font-weight="normal" fill="#000" opacity="0.999" transform="rotate(-90 10.00 48.50)">(photons s<tspan dy="-2.16" font-size="3.60">-1</tspan><tspan dy="2.16"> cm</tspan><tspan dy="-2.16" font-size="3.60">-2</tspan><tspan dy="2.16"> sr</tspan><tspan dy="-2.16" font-size="3.60">-1</tspan><tspan dy="2.16">)</tspan></text>
<text x="3.20" y="116.60" font-size="6.0" text-anchor="middle" font-weight="normal" fill="#000" opacity="0.999" transform="rotate(-90 3.20 114.50)">Radiance</text>
<text x="10.00" y="116.60" font-size="6.0" text-anchor="middle" font-weight="normal" fill="#000" opacity="0.999" transform="rotate(-90 10.00 114.50)">(photons s<tspan dy="-2.16" font-size="3.60">-1</tspan><tspan dy="2.16"> cm</tspan><tspan dy="-2.16" font-size="3.60">-2</tspan><tspan dy="2.16"> sr</tspan><tspan dy="-2.16" font-size="3.60">-1</tspan><tspan dy="2.16">)</tspan></text>
<text x="283.30" y="49.49" font-size="5.7" text-anchor="middle" font-weight="normal" fill="#000" opacity="0.999" transform="rotate(90 283.30 47.50)">Tumor Bioluminescence</text>
<text x="283.30" y="115.50" font-size="5.7" text-anchor="middle" font-weight="normal" fill="#000" opacity="0.999" transform="rotate(90 283.30 113.50)">SANGs Fluorescence</text>
<text x="293.60" y="10.57" font-size="10.5" text-anchor="start" font-weight="bold" fill="#000" opacity="0.999">b.</text>
<text x="396.70" y="5.35" font-size="7" text-anchor="middle" font-weight="normal" fill="#000" opacity="0.999">Tumor Bioluminescence</text>
<text x="509.00" y="5.35" font-size="7" text-anchor="middle" font-weight="normal" fill="#000" opacity="0.999">SANGs Fluorescence</text>
<text x="303.00" y="70.34" font-size="6.7" text-anchor="start" font-weight="normal" fill="#000" opacity="0.999">Spleen</text>
<text x="303.00" y="82.34" font-size="6.7" text-anchor="start" font-weight="normal" fill="#000" opacity="0.999">Kidney</text>
<text x="303.00" y="102.55" font-size="6.7" text-anchor="start" font-weight="normal" fill="#000" opacity="0.999">Metastasis</text>
<text x="303.00" y="113.25" font-size="6.7" text-anchor="start" font-weight="normal" fill="#000" opacity="0.999">Primary</text>
<text x="303.00" y="121.94" font-size="6.7" text-anchor="start" font-weight="normal" fill="#000" opacity="0.999">Tumor</text>
<text x="303.00" y="136.15" font-size="6.7" text-anchor="start" font-weight="normal" fill="#000" opacity="0.999">Liver</text>
<text x="303.00" y="150.75" font-size="6.7" text-anchor="start" font-weight="normal" fill="#000" opacity="0.999">Lungs</text>
<text x="303.00" y="165.34" font-size="6.7" text-anchor="start" font-weight="normal" fill="#000" opacity="0.999">Heart</text>
<clipPath id="cp17"><rect x="331.00" y="6.30" width="115.00" height="52.70"/></clipPath><g clip-path="url(#cp17)">
<rect x="331.00" y="6.30" width="115.00" height="52.70" fill="#262626" stroke="none" stroke-width="0.5"/>
<line x1="332.00" y1="6.30" x2="332.00" y2="13.00" stroke="#0c0c0c" stroke-width="0.9"/>
<line x1="334.20" y1="6.30" x2="334.20" y2="13.00" stroke="#0c0c0c" stroke-width="0.9"/>
<line x1="336.40" y1="6.30" x2="336.40" y2="13.00" stroke="#0c0c0c" stroke-width="0.9"/>
<line x1="338.60" y1="6.30" x2="338.60" y2="13.00" stroke="#0c0c0c" stroke-width="0.9"/>
<line x1="340.80" y1="6.30" x2="340.80" y2="13.00" stroke="#0c0c0c" stroke-width="0.9"/>
<line x1="343.00" y1="6.30" x2="343.00" y2="13.00" stroke="#0c0c0c" stroke-width="0.9"/>
<line x1="345.20" y1="6.30" x2="345.20" y2="13.00" stroke="#0c0c0c" stroke-width="0.9"/>
<line x1="347.40" y1="6.30" x2="347.40" y2="13.00" stroke="#0c0c0c" stroke-width="0.9"/>
<line x1="349.60" y1="6.30" x2="349.60" y2="13.00" stroke="#0c0c0c" stroke-width="0.9"/>
<line x1="351.80" y1="6.30" x2="351.80" y2="13.00" stroke="#0c0c0c" stroke-width="0.9"/>
<line x1="354.00" y1="6.30" x2="354.00" y2="13.00" stroke="#0c0c0c" stroke-width="0.9"/>
<line x1="356.20" y1="6.30" x2="356.20" y2="13.00" stroke="#0c0c0c" stroke-width="0.9"/>
<line x1="358.40" y1="6.30" x2="358.40" y2="13.00" stroke="#0c0c0c" stroke-width="0.9"/>
<line x1="360.60" y1="6.30" x2="360.60" y2="13.00" stroke="#0c0c0c" stroke-width="0.9"/>
<line x1="362.80" y1="6.30" x2="362.80" y2="13.00" stroke="#0c0c0c" stroke-width="0.9"/>
<line x1="365.00" y1="6.30" x2="365.00" y2="13.00" stroke="#0c0c0c" stroke-width="0.9"/>
<line x1="367.20" y1="6.30" x2="367.20" y2="13.00" stroke="#0c0c0c" stroke-width="0.9"/>
<line x1="369.40" y1="6.30" x2="369.40" y2="13.00" stroke="#0c0c0c" stroke-width="0.9"/>
<line x1="371.60" y1="6.30" x2="371.60" y2="13.00" stroke="#0c0c0c" stroke-width="0.9"/>
<line x1="373.80" y1="6.30" x2="373.80" y2="13.00" stroke="#0c0c0c" stroke-width="0.9"/>
<line x1="376.00" y1="6.30" x2="376.00" y2="13.00" stroke="#0c0c0c" stroke-width="0.9"/>
<line x1="378.20" y1="6.30" x2="378.20" y2="13.00" stroke="#0c0c0c" stroke-width="0.9"/>
<line x1="380.40" y1="6.30" x2="380.40" y2="13.00" stroke="#0c0c0c" stroke-width="0.9"/>
<line x1="382.60" y1="6.30" x2="382.60" y2="13.00" stroke="#0c0c0c" stroke-width="0.9"/>
<line x1="384.80" y1="6.30" x2="384.80" y2="13.00" stroke="#0c0c0c" stroke-width="0.9"/>
<line x1="387.00" y1="6.30" x2="387.00" y2="13.00" stroke="#0c0c0c" stroke-width="0.9"/>
<line x1="389.20" y1="6.30" x2="389.20" y2="13.00" stroke="#0c0c0c" stroke-width="0.9"/>
<line x1="391.40" y1="6.30" x2="391.40" y2="13.00" stroke="#0c0c0c" stroke-width="0.9"/>
<line x1="393.60" y1="6.30" x2="393.60" y2="13.00" stroke="#0c0c0c" stroke-width="0.9"/>
<line x1="395.80" y1="6.30" x2="395.80" y2="13.00" stroke="#0c0c0c" stroke-width="0.9"/>
<line x1="398.00" y1="6.30" x2="398.00" y2="13.00" stroke="#0c0c0c" stroke-width="0.9"/>
<line x1="400.20" y1="6.30" x2="400.20" y2="13.00" stroke="#0c0c0c" stroke-width="0.9"/>
<line x1="402.40" y1="6.30" x2="402.40" y2="13.00" stroke="#0c0c0c" stroke-width="0.9"/>
<line x1="404.60" y1="6.30" x2="404.60" y2="13.00" stroke="#0c0c0c" stroke-width="0.9"/>
<line x1="406.80" y1="6.30" x2="406.80" y2="13.00" stroke="#0c0c0c" stroke-width="0.9"/>
<line x1="409.00" y1="6.30" x2="409.00" y2="13.00" stroke="#0c0c0c" stroke-width="0.9"/>
<line x1="411.20" y1="6.30" x2="411.20" y2="13.00" stroke="#0c0c0c" stroke-width="0.9"/>
<line x1="413.40" y1="6.30" x2="413.40" y2="13.00" stroke="#0c0c0c" stroke-width="0.9"/>
<line x1="415.60" y1="6.30" x2="415.60" y2="13.00" stroke="#0c0c0c" stroke-width="0.9"/>
<line x1="417.80" y1="6.30" x2="417.80" y2="13.00" stroke="#0c0c0c" stroke-width="0.9"/>
<line x1="420.00" y1="6.30" x2="420.00" y2="13.00" stroke="#0c0c0c" stroke-width="0.9"/>
<line x1="422.20" y1="6.30" x2="422.20" y2="13.00" stroke="#0c0c0c" stroke-width="0.9"/>
<line x1="424.40" y1="6.30" x2="424.40" y2="13.00" stroke="#0c0c0c" stroke-width="0.9"/>
<line x1="426.60" y1="6.30" x2="426.60" y2="13.00" stroke="#0c0c0c" stroke-width="0.9"/>
<line x1="428.80" y1="6.30" x2="428.80" y2="13.00" stroke="#0c0c0c" stroke-width="0.9"/>
<line x1="431.00" y1="6.30" x2="431.00" y2="13.00" stroke="#0c0c0c" stroke-width="0.9"/>
<line x1="433.20" y1="6.30" x2="433.20" y2="13.00" stroke="#0c0c0c" stroke-width="0.9"/>
<line x1="435.40" y1="6.30" x2="435.40" y2="13.00" stroke="#0c0c0c" stroke-width="0.9"/>
<line x1="437.60" y1="6.30" x2="437.60" y2="13.00" stroke="#0c0c0c" stroke-width="0.9"/>
<line x1="439.80" y1="6.30" x2="439.80" y2="13.00" stroke="#0c0c0c" stroke-width="0.9"/>
<line x1="442.00" y1="6.30" x2="442.00" y2="13.00" stroke="#0c0c0c" stroke-width="0.9"/>
<line x1="444.20" y1="6.30" x2="444.20" y2="13.00" stroke="#0c0c0c" stroke-width="0.9"/>
<rect x="331.00" y="53.50" width="115.00" height="5.50" fill="#3a3a3a" stroke="none" stroke-width="0.5"/>
<g transform="translate(343.40 8.00) rotate(11 0 24.0) scale(1.100 0.960)" filter="url(#furf)" opacity="0.74"><path d="M-1 0 C-2.5 1 -3 5 -3.2 9 C-5 13 -8.5 20 -9.5 30 C-10 40 -6 47 0 48 C6 47 9.5 42 9.8 33 C10 24 6 15 2.5 10 C2.4 5 0.5 0 -1 0 Z" fill="url(#fur)"/><path d="M6 40 C10 44 12 47 16 48 L16 49.5 C11 49.5 7 47 4 44 Z" fill="#bbb"/><path d="M-6 44 C-9 47 -9 49 -7 50 L-4 47 Z" fill="#c4c4c4"/></g>
<g transform="translate(366.80 8.00) rotate(11 0 24.0) scale(1.100 0.960)" filter="url(#furf)" opacity="0.74"><path d="M-1 0 C-2.5 1 -3 5 -3.2 9 C-5 13 -8.5 20 -9.5 30 C-10 40 -6 47 0 48 C6 47 9.5 42 9.8 33 C10 24 6 15 2.5 10 C2.4 5 0.5 0 -1 0 Z" fill="url(#fur)"/><path d="M6 40 C10 44 12 47 16 48 L16 49.5 C11 49.5 7 47 4 44 Z" fill="#bbb"/><path d="M-6 44 C-9 47 -9 49 -7 50 L-4 47 Z" fill="#c4c4c4"/></g>
<g transform="translate(388.60 8.00) rotate(11 0 24.0) scale(1.100 0.960)" filter="url(#furf)" opacity="0.74"><path d="M-1 0 C-2.5 1 -3 5 -3.2 9 C-5 13 -8.5 20 -9.5 30 C-10 40 -6 47 0 48 C6 47 9.5 42 9.8 33 C10 24 6 15 2.5 10 C2.4 5 0.5 0 -1 0 Z" fill="url(#fur)"/><path d="M6 40 C10 44 12 47 16 48 L16 49.5 C11 49.5 7 47 4 44 Z" fill="#bbb"/><path d="M-6 44 C-9 47 -9 49 -7 50 L-4 47 Z" fill="#c4c4c4"/></g>
<g transform="translate(409.10 8.00) rotate(11 0 24.0) scale(1.100 0.960)" filter="url(#furf)" opacity="0.74"><path d="M-1 0 C-2.5 1 -3 5 -3.2 9 C-5 13 -8.5 20 -9.5 30 C-10 40 -6 47 0 48 C6 47 9.5 42 9.8 33 C10 24 6 15 2.5 10 C2.4 5 0.5 0 -1 0 Z" fill="url(#fur)"/><path d="M6 40 C10 44 12 47 16 48 L16 49.5 C11 49.5 7 47 4 44 Z" fill="#bbb"/><path d="M-6 44 C-9 47 -9 49 -7 50 L-4 47 Z" fill="#c4c4c4"/></g>
<g transform="translate(431.00 8.00) rotate(11 0 24.0) scale(1.100 0.960)" filter="url(#furf)" opacity="0.74"><path d="M-1 0 C-2.5 1 -3 5 -3.2 9 C-5 13 -8.5 20 -9.5 30 C-10 40 -6 47 0 48 C6 47 9.5 42 9.8 33 C10 24 6 15 2.5 10 C2.4 5 0.5 0 -1 0 Z" fill="url(#fur)"/><path d="M6 40 C10 44 12 47 16 48 L16 49.5 C11 49.5 7 47 4 44 Z" fill="#bbb"/><path d="M-6 44 C-9 47 -9 49 -7 50 L-4 47 Z" fill="#c4c4c4"/></g>
<rect x="331.00" y="6.30" width="115.00" height="52.70" fill="#fff" stroke="none" stroke-width="0.5" filter="url(#noise)" opacity="0.3"/>
<ellipse cx="342.00" cy="44.60" rx="7.20" ry="7.00" fill="url(#rbB)" opacity="1" transform="rotate(20 342.00 44.60)" filter="url(#irr)"/>
<ellipse cx="343.00" cy="45.50" rx="3.40" ry="2.60" fill="url(#rbGc)" opacity="1" transform="rotate(0 343.00 45.50)" filter="url(#irr)"/>
<ellipse cx="364.30" cy="44.00" rx="8.80" ry="8.60" fill="url(#rbG)" opacity="1" transform="rotate(0 364.30 44.00)" filter="url(#irr)"/>
<ellipse cx="363.60" cy="45.60" rx="4.20" ry="2.80" fill="url(#rbC)" opacity="1" transform="rotate(0 363.60 45.60)" filter="url(#irr)"/>
<ellipse cx="386.70" cy="44.60" rx="5.60" ry="6.00" fill="url(#rbB)" opacity="1" transform="rotate(0 386.70 44.60)" filter="url(#irr)"/>
<ellipse cx="386.60" cy="44.80" rx="2.80" ry="2.60" fill="url(#rbGc)" opacity="1" transform="rotate(0 386.60 44.80)" filter="url(#irr)"/>
<ellipse cx="407.00" cy="44.20" rx="6.80" ry="6.80" fill="url(#rbG)" opacity="1" transform="rotate(0 407.00 44.20)" filter="url(#irr)"/>
<ellipse cx="407.40" cy="44.40" rx="3.00" ry="2.40" fill="url(#rbC)" opacity="1" transform="rotate(0 407.40 44.40)" filter="url(#irr)"/>
<ellipse cx="429.70" cy="42.80" rx="6.40" ry="6.40" fill="url(#rbG)" opacity="1" transform="rotate(0 429.70 42.80)" filter="url(#irr)"/>
</g>
<text x="432.30" y="57.59" font-size="5.7" text-anchor="middle" font-weight="normal" fill="#fff" opacity="0.999">Control</text>
<clipPath id="cp18"><rect x="331.00" y="60.50" width="115.00" height="110.70"/></clipPath><g clip-path="url(#cp18)">
<rect x="331.00" y="60.50" width="115.00" height="110.70" fill="#2b2b2b" stroke="none" stroke-width="0.5"/>
<ellipse cx="395.6" cy="98.9" rx="47.1" ry="26.6" fill="#303030" filter="url(#b2)"/>
<ellipse cx="352.6" cy="150.1" rx="24.6" ry="14.3" fill="#202020" filter="url(#b2)"/>
<rect x="331.00" y="60.50" width="115.00" height="110.70" fill="#fff" stroke="none" stroke-width="0.5" filter="url(#noise)" opacity="0.22"/>
<ellipse cx="346.42" cy="70.69" rx="3.28" ry="1.43" fill="url(#fur)" opacity="0.6" transform="rotate(-30 346.42 70.69)" filter="url(#irr2)"/>
<ellipse cx="366.89" cy="67.21" rx="3.28" ry="1.43" fill="url(#fur)" opacity="0.6" transform="rotate(-30 366.89 67.21)" filter="url(#irr2)"/>
<ellipse cx="385.32" cy="67.21" rx="3.28" ry="1.43" fill="url(#fur)" opacity="0.6" transform="rotate(-30 385.32 67.21)" filter="url(#irr2)"/>
<ellipse cx="413.98" cy="65.16" rx="3.28" ry="1.43" fill="url(#fur)" opacity="0.6" transform="rotate(-30 413.98 65.16)" filter="url(#irr2)"/>
<ellipse cx="435.47" cy="65.78" rx="3.28" ry="1.43" fill="url(#fur)" opacity="0.6" transform="rotate(-30 435.47 65.78)" filter="url(#irr2)"/>
<ellipse cx="347.45" cy="82.56" rx="1.64" ry="2.66" fill="url(#fur)" opacity="0.6" transform="rotate(10 347.45 82.56)" filter="url(#irr2)"/>
<ellipse cx="366.89" cy="79.49" rx="1.64" ry="2.66" fill="url(#fur)" opacity="0.6" transform="rotate(10 366.89 79.49)" filter="url(#irr2)"/>
<ellipse cx="387.98" cy="78.47" rx="1.64" ry="2.66" fill="url(#fur)" opacity="0.6" transform="rotate(10 387.98 78.47)" filter="url(#irr2)"/>
<ellipse cx="412.95" cy="82.16" rx="1.64" ry="2.66" fill="url(#fur)" opacity="0.6" transform="rotate(10 412.95 82.16)" filter="url(#irr2)"/>
<ellipse cx="436.50" cy="82.97" rx="1.64" ry="2.66" fill="url(#fur)" opacity="0.6" transform="rotate(10 436.50 82.97)" filter="url(#irr2)"/>
<ellipse cx="348.47" cy="135.79" rx="2.05" ry="1.84" fill="url(#fur)" opacity="0.25" transform="rotate(0 348.47 135.79)" filter="url(#irr2)"/>
<ellipse cx="365.87" cy="134.77" rx="2.05" ry="1.84" fill="url(#fur)" opacity="0.25" transform="rotate(0 365.87 134.77)" filter="url(#irr2)"/>
<ellipse cx="384.29" cy="136.81" rx="2.05" ry="1.84" fill="url(#fur)" opacity="0.25" transform="rotate(0 384.29 136.81)" filter="url(#irr2)"/>
<ellipse cx="411.93" cy="135.79" rx="2.05" ry="1.84" fill="url(#fur)" opacity="0.25" transform="rotate(0 411.93 135.79)" filter="url(#irr2)"/>
<ellipse cx="434.45" cy="135.38" rx="2.05" ry="1.84" fill="url(#fur)" opacity="0.25" transform="rotate(0 434.45 135.38)" filter="url(#irr2)"/>
<ellipse cx="346.42" cy="151.14" rx="3.28" ry="3.68" fill="url(#fur)" opacity="0.45" transform="rotate(0 346.42 151.14)" filter="url(#irr2)"/>
<ellipse cx="364.85" cy="149.10" rx="3.28" ry="3.68" fill="url(#fur)" opacity="0.9" transform="rotate(0 364.85 149.10)" filter="url(#irr2)"/>
<ellipse cx="387.37" cy="149.10" rx="3.28" ry="3.68" fill="url(#fur)" opacity="0.95" transform="rotate(0 387.37 149.10)" filter="url(#irr2)"/>
<ellipse cx="413.98" cy="151.76" rx="3.28" ry="3.68" fill="url(#fur)" opacity="0.9" transform="rotate(0 413.98 151.76)" filter="url(#irr2)"/>
<ellipse cx="436.50" cy="152.17" rx="3.28" ry="3.68" fill="url(#fur)" opacity="0.4" transform="rotate(0 436.50 152.17)" filter="url(#irr2)"/>
<ellipse cx="347.45" cy="164.04" rx="2.25" ry="2.87" fill="url(#fur)" opacity="0.35" transform="rotate(20 347.45 164.04)" filter="url(#irr2)"/>
<ellipse cx="347.65" cy="164.24" rx="1.43" ry="2.05" fill="url(#dk)" opacity="0.9" transform="rotate(20 347.65 164.24)" filter="url(#irr2)"/>
<ellipse cx="366.89" cy="164.04" rx="2.25" ry="2.87" fill="url(#fur)" opacity="0.35" transform="rotate(20 366.89 164.04)" filter="url(#irr2)"/>
<ellipse cx="367.10" cy="164.24" rx="1.43" ry="2.05" fill="url(#dk)" opacity="0.9" transform="rotate(20 367.10 164.24)" filter="url(#irr2)"/>
<ellipse cx="388.39" cy="165.06" rx="2.25" ry="2.87" fill="url(#fur)" opacity="0.35" transform="rotate(20 388.39 165.06)" filter="url(#irr2)"/>
<ellipse cx="388.59" cy="165.27" rx="1.43" ry="2.05" fill="url(#dk)" opacity="0.9" transform="rotate(20 388.59 165.27)" filter="url(#irr2)"/>
<ellipse cx="413.98" cy="164.45" rx="2.25" ry="2.87" fill="url(#fur)" opacity="0.35" transform="rotate(20 413.98 164.45)" filter="url(#irr2)"/>
<ellipse cx="414.18" cy="164.65" rx="1.43" ry="2.05" fill="url(#dk)" opacity="0.9" transform="rotate(20 414.18 164.65)" filter="url(#irr2)"/>
<ellipse cx="439.57" cy="164.86" rx="2.25" ry="2.87" fill="url(#fur)" opacity="0.35" transform="rotate(20 439.57 164.86)" filter="url(#irr2)"/>
<ellipse cx="439.77" cy="165.06" rx="1.43" ry="2.05" fill="url(#dk)" opacity="0.9" transform="rotate(20 439.77 165.06)" filter="url(#irr2)"/>
<ellipse cx="352.16" cy="99.97" rx="3.28" ry="2.87" fill="url(#fur)" opacity="0.9" transform="rotate(0 352.16 99.97)" filter="url(#irr2)"/>
<ellipse cx="348.47" cy="110.00" rx="7.42" ry="15.33" fill="url(#rbG)" opacity="1" transform="rotate(3 348.47 110.00)" filter="url(#irr)"/>
<ellipse cx="349.08" cy="103.45" rx="4.79" ry="4.79" fill="url(#rbC)" opacity="1" transform="rotate(0 349.08 103.45)" filter="url(#irr)"/>
<ellipse cx="366.08" cy="91.16" rx="7.42" ry="5.03" fill="url(#rbB)" opacity="1" transform="rotate(0 366.08 91.16)" filter="url(#irr)"/>
<ellipse cx="367.30" cy="90.75" rx="4.31" ry="2.87" fill="url(#rbGc)" opacity="1" transform="rotate(0 367.30 90.75)" filter="url(#irr)"/>
<ellipse cx="368.53" cy="102.01" rx="9.82" ry="6.95" fill="url(#rbB)" opacity="1" transform="rotate(0 368.53 102.01)" filter="url(#irr)"/>
<ellipse cx="365.87" cy="103.45" rx="5.27" ry="3.83" fill="url(#rbGc)" opacity="1" transform="rotate(0 365.87 103.45)" filter="url(#irr)"/>
<ellipse cx="368.53" cy="115.93" rx="9.34" ry="8.62" fill="url(#rbB)" opacity="1" transform="rotate(0 368.53 115.93)" filter="url(#irr)"/>
<ellipse cx="366.49" cy="113.27" rx="5.27" ry="4.79" fill="url(#rbGc)" opacity="1" transform="rotate(0 366.49 113.27)" filter="url(#irr)"/>
<ellipse cx="388.80" cy="99.97" rx="4.55" ry="4.55" fill="url(#rbB)" opacity="1" transform="rotate(0 388.80 99.97)" filter="url(#irr)"/>
<ellipse cx="388.80" cy="116.14" rx="11.74" ry="9.34" fill="url(#rbG)" opacity="1" transform="rotate(0 388.80 116.14)" filter="url(#irr)"/>
<ellipse cx="387.37" cy="113.68" rx="5.75" ry="4.31" fill="url(#rbC)" opacity="1" transform="rotate(0 387.37 113.68)" filter="url(#irr)"/>
<ellipse cx="409.88" cy="96.49" rx="3.35" ry="5.03" fill="url(#rbB)" opacity="1" transform="rotate(0 409.88 96.49)" filter="url(#irr)"/>
<ellipse cx="413.77" cy="113.48" rx="12.21" ry="11.02" fill="url(#rbB)" opacity="1" transform="rotate(-20 413.77 113.48)" filter="url(#irr)"/>
<ellipse cx="409.88" cy="113.27" rx="5.75" ry="4.79" fill="url(#rbGc)" opacity="1" transform="rotate(0 409.88 113.27)" filter="url(#irr)"/>
<ellipse cx="417.66" cy="109.18" rx="4.79" ry="3.59" fill="url(#rbGc)" opacity="1" transform="rotate(0 417.66 109.18)" filter="url(#irr)"/>
<ellipse cx="435.88" cy="114.70" rx="8.62" ry="8.62" fill="url(#rbR)" opacity="1" transform="rotate(0 435.88 114.70)" filter="url(#irr)"/>
<ellipse cx="384.91" cy="138.86" rx="1.23" ry="1.23" fill="url(#rbB)" opacity="1" transform="rotate(0 384.91 138.86)" filter="url(#b03)"/>
<rect x="380.81" y="133.74" width="8.19" height="8.80" fill="none" stroke="#e8e8e8" stroke-width="0.45" stroke-dasharray="0.8 0.8"/>
</g>
<rect x="359.50" y="174.80" width="59.80" height="3.70" fill="url(#rbH)" stroke="none" stroke-width="0.5"/>
<text x="347.50" y="184.38" font-size="5.95" text-anchor="start" font-weight="normal" fill="#000" opacity="0.999">2.34 x 10<tspan dy="-2.14" font-size="3.57">7</tspan></text>
<text x="406.50" y="184.38" font-size="5.95" text-anchor="start" font-weight="normal" fill="#000" opacity="0.999">3.77 x 10<tspan dy="-2.14" font-size="3.57">8</tspan></text>
<text x="389.30" y="192.30" font-size="6.0" text-anchor="middle" font-weight="normal" fill="#000" opacity="0.999">Radiance (photons s<tspan dy="-2.16" font-size="3.60">-1</tspan><tspan dy="2.16"> cm</tspan><tspan dy="-2.16" font-size="3.60">-2</tspan><tspan dy="2.16"> sr</tspan><tspan dy="-2.16" font-size="3.60">-1</tspan><tspan dy="2.16">)</tspan></text>
<clipPath id="cp19"><rect x="449.20" y="6.30" width="114.50" height="52.70"/></clipPath><g clip-path="url(#cp19)">
<rect x="449.20" y="6.30" width="114.50" height="52.70" fill="#262626" stroke="none" stroke-width="0.5"/>
<line x1="450.20" y1="6.30" x2="450.20" y2="13.00" stroke="#0c0c0c" stroke-width="0.9"/>
<line x1="452.40" y1="6.30" x2="452.40" y2="13.00" stroke="#0c0c0c" stroke-width="0.9"/>
<line x1="454.60" y1="6.30" x2="454.60" y2="13.00" stroke="#0c0c0c" stroke-width="0.9"/>
<line x1="456.80" y1="6.30" x2="456.80" y2="13.00" stroke="#0c0c0c" stroke-width="0.9"/>
<line x1="459.00" y1="6.30" x2="459.00" y2="13.00" stroke="#0c0c0c" stroke-width="0.9"/>
<line x1="461.20" y1="6.30" x2="461.20" y2="13.00" stroke="#0c0c0c" stroke-width="0.9"/>
<line x1="463.40" y1="6.30" x2="463.40" y2="13.00" stroke="#0c0c0c" stroke-width="0.9"/>
<line x1="465.60" y1="6.30" x2="465.60" y2="13.00" stroke="#0c0c0c" stroke-width="0.9"/>
<line x1="467.80" y1="6.30" x2="467.80" y2="13.00" stroke="#0c0c0c" stroke-width="0.9"/>
<line x1="470.00" y1="6.30" x2="470.00" y2="13.00" stroke="#0c0c0c" stroke-width="0.9"/>
<line x1="472.20" y1="6.30" x2="472.20" y2="13.00" stroke="#0c0c0c" stroke-width="0.9"/>
<line x1="474.40" y1="6.30" x2="474.40" y2="13.00" stroke="#0c0c0c" stroke-width="0.9"/>
<line x1="476.60" y1="6.30" x2="476.60" y2="13.00" stroke="#0c0c0c" stroke-width="0.9"/>
<line x1="478.80" y1="6.30" x2="478.80" y2="13.00" stroke="#0c0c0c" stroke-width="0.9"/>
<line x1="481.00" y1="6.30" x2="481.00" y2="13.00" stroke="#0c0c0c" stroke-width="0.9"/>
<line x1="483.20" y1="6.30" x2="483.20" y2="13.00" stroke="#0c0c0c" stroke-width="0.9"/>
<line x1="485.40" y1="6.30" x2="485.40" y2="13.00" stroke="#0c0c0c" stroke-width="0.9"/>
<line x1="487.60" y1="6.30" x2="487.60" y2="13.00" stroke="#0c0c0c" stroke-width="0.9"/>
<line x1="489.80" y1="6.30" x2="489.80" y2="13.00" stroke="#0c0c0c" stroke-width="0.9"/>
<line x1="492.00" y1="6.30" x2="492.00" y2="13.00" stroke="#0c0c0c" stroke-width="0.9"/>
<line x1="494.20" y1="6.30" x2="494.20" y2="13.00" stroke="#0c0c0c" stroke-width="0.9"/>
<line x1="496.40" y1="6.30" x2="496.40" y2="13.00" stroke="#0c0c0c" stroke-width="0.9"/>
<line x1="498.60" y1="6.30" x2="498.60" y2="13.00" stroke="#0c0c0c" stroke-width="0.9"/>
<line x1="500.80" y1="6.30" x2="500.80" y2="13.00" stroke="#0c0c0c" stroke-width="0.9"/>
<line x1="503.00" y1="6.30" x2="503.00" y2="13.00" stroke="#0c0c0c" stroke-width="0.9"/>
<line x1="505.20" y1="6.30" x2="505.20" y2="13.00" stroke="#0c0c0c" stroke-width="0.9"/>
<line x1="507.40" y1="6.30" x2="507.40" y2="13.00" stroke="#0c0c0c" stroke-width="0.9"/>
<line x1="509.60" y1="6.30" x2="509.60" y2="13.00" stroke="#0c0c0c" stroke-width="0.9"/>
<line x1="511.80" y1="6.30" x2="511.80" y2="13.00" stroke="#0c0c0c" stroke-width="0.9"/>
<line x1="514.00" y1="6.30" x2="514.00" y2="13.00" stroke="#0c0c0c" stroke-width="0.9"/>
<line x1="516.20" y1="6.30" x2="516.20" y2="13.00" stroke="#0c0c0c" stroke-width="0.9"/>
<line x1="518.40" y1="6.30" x2="518.40" y2="13.00" stroke="#0c0c0c" stroke-width="0.9"/>
<line x1="520.60" y1="6.30" x2="520.60" y2="13.00" stroke="#0c0c0c" stroke-width="0.9"/>
<line x1="522.80" y1="6.30" x2="522.80" y2="13.00" stroke="#0c0c0c" stroke-width="0.9"/>
<line x1="525.00" y1="6.30" x2="525.00" y2="13.00" stroke="#0c0c0c" stroke-width="0.9"/>
<line x1="527.20" y1="6.30" x2="527.20" y2="13.00" stroke="#0c0c0c" stroke-width="0.9"/>
<line x1="529.40" y1="6.30" x2="529.40" y2="13.00" stroke="#0c0c0c" stroke-width="0.9"/>
<line x1="531.60" y1="6.30" x2="531.60" y2="13.00" stroke="#0c0c0c" stroke-width="0.9"/>
<line x1="533.80" y1="6.30" x2="533.80" y2="13.00" stroke="#0c0c0c" stroke-width="0.9"/>
<line x1="536.00" y1="6.30" x2="536.00" y2="13.00" stroke="#0c0c0c" stroke-width="0.9"/>
<line x1="538.20" y1="6.30" x2="538.20" y2="13.00" stroke="#0c0c0c" stroke-width="0.9"/>
<line x1="540.40" y1="6.30" x2="540.40" y2="13.00" stroke="#0c0c0c" stroke-width="0.9"/>
<line x1="542.60" y1="6.30" x2="542.60" y2="13.00" stroke="#0c0c0c" stroke-width="0.9"/>
<line x1="544.80" y1="6.30" x2="544.80" y2="13.00" stroke="#0c0c0c" stroke-width="0.9"/>
<line x1="547.00" y1="6.30" x2="547.00" y2="13.00" stroke="#0c0c0c" stroke-width="0.9"/>
<line x1="549.20" y1="6.30" x2="549.20" y2="13.00" stroke="#0c0c0c" stroke-width="0.9"/>
<line x1="551.40" y1="6.30" x2="551.40" y2="13.00" stroke="#0c0c0c" stroke-width="0.9"/>
<line x1="553.60" y1="6.30" x2="553.60" y2="13.00" stroke="#0c0c0c" stroke-width="0.9"/>
<line x1="555.80" y1="6.30" x2="555.80" y2="13.00" stroke="#0c0c0c" stroke-width="0.9"/>
<line x1="558.00" y1="6.30" x2="558.00" y2="13.00" stroke="#0c0c0c" stroke-width="0.9"/>
<line x1="560.20" y1="6.30" x2="560.20" y2="13.00" stroke="#0c0c0c" stroke-width="0.9"/>
<line x1="562.40" y1="6.30" x2="562.40" y2="13.00" stroke="#0c0c0c" stroke-width="0.9"/>
<rect x="449.20" y="53.50" width="114.50" height="5.50" fill="#3a3a3a" stroke="none" stroke-width="0.5"/>
<g transform="translate(463.50 8.00) rotate(11 0 24.0) scale(1.100 0.960)" filter="url(#furf)" opacity="0.74"><path d="M-1 0 C-2.5 1 -3 5 -3.2 9 C-5 13 -8.5 20 -9.5 30 C-10 40 -6 47 0 48 C6 47 9.5 42 9.8 33 C10 24 6 15 2.5 10 C2.4 5 0.5 0 -1 0 Z" fill="url(#fur)"/><path d="M6 40 C10 44 12 47 16 48 L16 49.5 C11 49.5 7 47 4 44 Z" fill="#bbb"/><path d="M-6 44 C-9 47 -9 49 -7 50 L-4 47 Z" fill="#c4c4c4"/></g>
<g transform="translate(484.30 8.00) rotate(11 0 24.0) scale(1.100 0.960)" filter="url(#furf)" opacity="0.74"><path d="M-1 0 C-2.5 1 -3 5 -3.2 9 C-5 13 -8.5 20 -9.5 30 C-10 40 -6 47 0 48 C6 47 9.5 42 9.8 33 C10 24 6 15 2.5 10 C2.4 5 0.5 0 -1 0 Z" fill="url(#fur)"/><path d="M6 40 C10 44 12 47 16 48 L16 49.5 C11 49.5 7 47 4 44 Z" fill="#bbb"/><path d="M-6 44 C-9 47 -9 49 -7 50 L-4 47 Z" fill="#c4c4c4"/></g>
<g transform="translate(505.00 8.00) rotate(11 0 24.0) scale(1.100 0.960)" filter="url(#furf)" opacity="0.74"><path d="M-1 0 C-2.5 1 -3 5 -3.2 9 C-5 13 -8.5 20 -9.5 30 C-10 40 -6 47 0 48 C6 47 9.5 42 9.8 33 C10 24 6 15 2.5 10 C2.4 5 0.5 0 -1 0 Z" fill="url(#fur)"/><path d="M6 40 C10 44 12 47 16 48 L16 49.5 C11 49.5 7 47 4 44 Z" fill="#bbb"/><path d="M-6 44 C-9 47 -9 49 -7 50 L-4 47 Z" fill="#c4c4c4"/></g>
<g transform="translate(527.00 8.00) rotate(11 0 24.0) scale(1.100 0.960)" filter="url(#furf)" opacity="0.74"><path d="M-1 0 C-2.5 1 -3 5 -3.2 9 C-5 13 -8.5 20 -9.5 30 C-10 40 -6 47 0 48 C6 47 9.5 42 9.8 33 C10 24 6 15 2.5 10 C2.4 5 0.5 0 -1 0 Z" fill="url(#fur)"/><path d="M6 40 C10 44 12 47 16 48 L16 49.5 C11 49.5 7 47 4 44 Z" fill="#bbb"/><path d="M-6 44 C-9 47 -9 49 -7 50 L-4 47 Z" fill="#c4c4c4"/></g>
<g transform="translate(550.00 8.00) rotate(11 0 24.0) scale(1.100 0.960)" filter="url(#furf)" opacity="0.74"><path d="M-1 0 C-2.5 1 -3 5 -3.2 9 C-5 13 -8.5 20 -9.5 30 C-10 40 -6 47 0 48 C6 47 9.5 42 9.8 33 C10 24 6 15 2.5 10 C2.4 5 0.5 0 -1 0 Z" fill="url(#fur)"/><path d="M6 40 C10 44 12 47 16 48 L16 49.5 C11 49.5 7 47 4 44 Z" fill="#bbb"/><path d="M-6 44 C-9 47 -9 49 -7 50 L-4 47 Z" fill="#c4c4c4"/></g>
<rect x="449.20" y="6.30" width="114.50" height="52.70" fill="#fff" stroke="none" stroke-width="0.5" filter="url(#noise)" opacity="0.3"/>
<ellipse cx="458.00" cy="45.00" rx="5.40" ry="5.40" fill="url(#hotR)" opacity="1" transform="rotate(0 458.00 45.00)" filter="url(#irr)"/>
<ellipse cx="480.60" cy="44.60" rx="5.60" ry="5.20" fill="url(#hotD)" opacity="1" transform="rotate(0 480.60 44.60)" filter="url(#irr)"/>
<ellipse cx="500.80" cy="43.20" rx="4.80" ry="4.20" fill="url(#hotD)" opacity="1" transform="rotate(0 500.80 43.20)" filter="url(#irr)"/>
<ellipse cx="522.60" cy="42.40" rx="5.20" ry="4.80" fill="url(#hotO)" opacity="1" transform="rotate(0 522.60 42.40)" filter="url(#irr)"/>
<circle cx="511.50" cy="41.00" r="0.7" fill="#a00000"/>
<circle cx="510.00" cy="35.00" r="0.5" fill="#a00000"/>
</g>
<text x="550.50" y="57.59" font-size="5.7" text-anchor="middle" font-weight="normal" fill="#fff" opacity="0.999">Control</text>
<clipPath id="cp20"><rect x="449.20" y="60.50" width="114.50" height="110.70"/></clipPath><g clip-path="url(#cp20)">
<rect x="449.20" y="60.50" width="114.50" height="110.70" fill="#303030" stroke="none" stroke-width="0.5"/>
<ellipse cx="513.6" cy="96.9" rx="47.1" ry="24.6" fill="#363636" filter="url(#b2)"/>
<ellipse cx="540.2" cy="154.2" rx="26.6" ry="14.3" fill="#404040" filter="url(#b2)"/>
<ellipse cx="466.5" cy="152.2" rx="20.5" ry="12.3" fill="#2a2a2a" filter="url(#b2)"/>
<rect x="449.20" y="60.50" width="114.50" height="110.70" fill="#fff" stroke="none" stroke-width="0.5" filter="url(#noise)" opacity="0.22"/>
<ellipse cx="461.35" cy="67.21" rx="3.28" ry="1.43" fill="url(#fur)" opacity="0.6" transform="rotate(-30 461.35 67.21)" filter="url(#irr2)"/>
<ellipse cx="479.78" cy="65.16" rx="3.28" ry="1.43" fill="url(#fur)" opacity="0.6" transform="rotate(-30 479.78 65.16)" filter="url(#irr2)"/>
<ellipse cx="500.25" cy="64.55" rx="3.28" ry="1.43" fill="url(#fur)" opacity="0.6" transform="rotate(-30 500.25 64.55)" filter="url(#irr2)"/>
<ellipse cx="530.95" cy="63.12" rx="3.28" ry="1.43" fill="url(#fur)" opacity="0.6" transform="rotate(-30 530.95 63.12)" filter="url(#irr2)"/>
<ellipse cx="550.40" cy="63.73" rx="3.28" ry="1.43" fill="url(#fur)" opacity="0.6" transform="rotate(-30 550.40 63.73)" filter="url(#irr2)"/>
<ellipse cx="462.38" cy="79.49" rx="1.64" ry="2.66" fill="url(#fur)" opacity="0.6" transform="rotate(10 462.38 79.49)" filter="url(#irr2)"/>
<ellipse cx="481.82" cy="76.83" rx="1.64" ry="2.66" fill="url(#fur)" opacity="0.6" transform="rotate(10 481.82 76.83)" filter="url(#irr2)"/>
<ellipse cx="504.34" cy="76.42" rx="1.64" ry="2.66" fill="url(#fur)" opacity="0.6" transform="rotate(10 504.34 76.42)" filter="url(#irr2)"/>
<ellipse cx="528.91" cy="78.47" rx="1.64" ry="2.66" fill="url(#fur)" opacity="0.6" transform="rotate(10 528.91 78.47)" filter="url(#irr2)"/>
<ellipse cx="552.86" cy="80.52" rx="1.64" ry="2.66" fill="url(#fur)" opacity="0.6" transform="rotate(10 552.86 80.52)" filter="url(#irr2)"/>
<ellipse cx="464.42" cy="134.77" rx="2.05" ry="1.84" fill="url(#fur)" opacity="0.25" transform="rotate(0 464.42 134.77)" filter="url(#irr2)"/>
<ellipse cx="481.82" cy="133.74" rx="2.05" ry="1.84" fill="url(#fur)" opacity="0.25" transform="rotate(0 481.82 133.74)" filter="url(#irr2)"/>
<ellipse cx="500.25" cy="136.81" rx="2.05" ry="1.84" fill="url(#fur)" opacity="0.25" transform="rotate(0 500.25 136.81)" filter="url(#irr2)"/>
<ellipse cx="527.88" cy="134.77" rx="2.05" ry="1.84" fill="url(#fur)" opacity="0.25" transform="rotate(0 527.88 134.77)" filter="url(#irr2)"/>
<ellipse cx="552.45" cy="133.74" rx="2.05" ry="1.84" fill="url(#fur)" opacity="0.25" transform="rotate(0 552.45 133.74)" filter="url(#irr2)"/>
<ellipse cx="461.35" cy="149.10" rx="3.28" ry="3.68" fill="url(#fur)" opacity="0.45" transform="rotate(0 461.35 149.10)" filter="url(#irr2)"/>
<ellipse cx="481.82" cy="148.07" rx="3.28" ry="3.68" fill="url(#fur)" opacity="0.9" transform="rotate(0 481.82 148.07)" filter="url(#irr2)"/>
<ellipse cx="503.32" cy="146.43" rx="3.28" ry="3.68" fill="url(#fur)" opacity="0.95" transform="rotate(0 503.32 146.43)" filter="url(#irr2)"/>
<ellipse cx="530.95" cy="150.12" rx="3.28" ry="3.68" fill="url(#fur)" opacity="0.9" transform="rotate(0 530.95 150.12)" filter="url(#irr2)"/>
<ellipse cx="553.47" cy="150.53" rx="3.28" ry="3.68" fill="url(#fur)" opacity="0.4" transform="rotate(0 553.47 150.53)" filter="url(#irr2)"/>
<ellipse cx="462.38" cy="163.42" rx="2.25" ry="2.87" fill="url(#fur)" opacity="0.35" transform="rotate(20 462.38 163.42)" filter="url(#irr2)"/>
<ellipse cx="462.58" cy="163.63" rx="1.43" ry="2.05" fill="url(#dk)" opacity="0.9" transform="rotate(20 462.58 163.63)" filter="url(#irr2)"/>
<ellipse cx="482.85" cy="162.81" rx="2.25" ry="2.87" fill="url(#fur)" opacity="0.35" transform="rotate(20 482.85 162.81)" filter="url(#irr2)"/>
<ellipse cx="483.05" cy="163.02" rx="1.43" ry="2.05" fill="url(#dk)" opacity="0.9" transform="rotate(20 483.05 163.02)" filter="url(#irr2)"/>
<ellipse cx="504.34" cy="164.45" rx="2.25" ry="2.87" fill="url(#fur)" opacity="0.35" transform="rotate(20 504.34 164.45)" filter="url(#irr2)"/>
<ellipse cx="504.55" cy="164.65" rx="1.43" ry="2.05" fill="url(#dk)" opacity="0.9" transform="rotate(20 504.55 164.65)" filter="url(#irr2)"/>
<ellipse cx="530.95" cy="164.04" rx="2.25" ry="2.87" fill="url(#fur)" opacity="0.35" transform="rotate(20 530.95 164.04)" filter="url(#irr2)"/>
<ellipse cx="531.16" cy="164.24" rx="1.43" ry="2.05" fill="url(#dk)" opacity="0.9" transform="rotate(20 531.16 164.24)" filter="url(#irr2)"/>
<ellipse cx="556.54" cy="164.45" rx="2.25" ry="2.87" fill="url(#fur)" opacity="0.35" transform="rotate(20 556.54 164.45)" filter="url(#irr2)"/>
<ellipse cx="556.75" cy="164.65" rx="1.43" ry="2.05" fill="url(#dk)" opacity="0.9" transform="rotate(20 556.75 164.65)" filter="url(#irr2)"/>
<ellipse cx="463.40" cy="100.99" rx="6.76" ry="5.53" fill="url(#fur)" opacity="0.95" transform="rotate(0 463.40 100.99)" filter="url(#irr2)"/>
<ellipse cx="463.20" cy="113.68" rx="5.73" ry="6.76" fill="url(#fur)" opacity="0.9" transform="rotate(0 463.20 113.68)" filter="url(#irr2)"/>
<ellipse cx="552.45" cy="111.63" rx="7.57" ry="7.98" fill="url(#fur)" opacity="0.98" transform="rotate(0 552.45 111.63)" filter="url(#irr2)"/>
<ellipse cx="508.44" cy="117.37" rx="2.87" ry="3.28" fill="url(#fur)" opacity="0.7" transform="rotate(0 508.44 117.37)" filter="url(#irr2)"/>
<ellipse cx="504.34" cy="97.92" rx="2.87" ry="3.68" fill="url(#fur)" opacity="0.8" transform="rotate(0 504.34 97.92)" filter="url(#irr2)"/>
<ellipse cx="526.25" cy="93.21" rx="2.05" ry="2.87" fill="url(#fur)" opacity="0.6" transform="rotate(0 526.25 93.21)" filter="url(#irr2)"/>
<ellipse cx="466.06" cy="100.58" rx="5.27" ry="4.79" fill="url(#hotD)" opacity="1" transform="rotate(0 466.06 100.58)" filter="url(#irr)"/>
<ellipse cx="466.47" cy="99.76" rx="3.11" ry="2.63" fill="url(#hotC)" opacity="1" transform="rotate(0 466.47 99.76)" filter="url(#irr)"/>
<ellipse cx="464.42" cy="112.86" rx="4.31" ry="5.27" fill="url(#hotD)" opacity="1" transform="rotate(0 464.42 112.86)" filter="url(#irr)"/>
<ellipse cx="480.39" cy="89.73" rx="5.27" ry="4.79" fill="url(#hotD)" opacity="1" transform="rotate(0 480.39 89.73)" filter="url(#irr)"/>
<ellipse cx="484.08" cy="99.97" rx="10.30" ry="5.99" fill="url(#hotR)" opacity="1" transform="rotate(-8 484.08 99.97)" filter="url(#irr)"/>
<ellipse cx="484.89" cy="110.81" rx="8.62" ry="5.99" fill="url(#hotR)" opacity="1" transform="rotate(15 484.89 110.81)" filter="url(#irr)"/>
<ellipse cx="481.82" cy="118.59" rx="2.16" ry="2.16" fill="url(#hotD)" opacity="1" transform="rotate(0 481.82 118.59)" filter="url(#irr)"/>
<ellipse cx="504.55" cy="98.94" rx="2.16" ry="2.87" fill="url(#hotD)" opacity="1" transform="rotate(0 504.55 98.94)" filter="url(#irr)"/>
<ellipse cx="502.91" cy="112.86" rx="9.82" ry="8.38" fill="url(#hotO)" opacity="1" transform="rotate(0 502.91 112.86)" filter="url(#irr)"/>
<ellipse cx="504.34" cy="110.20" rx="5.27" ry="4.31" fill="url(#hotC)" opacity="1" transform="rotate(0 504.34 110.20)" filter="url(#irr)"/>
<ellipse cx="526.25" cy="95.67" rx="3.11" ry="2.87" fill="url(#hotO)" opacity="1" transform="rotate(0 526.25 95.67)" filter="url(#irr)"/>
<ellipse cx="529.52" cy="110.81" rx="11.26" ry="10.30" fill="url(#hotD)" opacity="1" transform="rotate(0 529.52 110.81)" filter="url(#irr)"/>
<ellipse cx="533.62" cy="111.84" rx="7.66" ry="6.71" fill="url(#hotC)" opacity="1" transform="rotate(0 533.62 111.84)" filter="url(#irr)"/>
<ellipse cx="504.34" cy="76.83" rx="1.68" ry="3.35" fill="url(#hotD)" opacity="1" transform="rotate(15 504.34 76.83)" filter="url(#irr)"/>
<rect x="496.15" y="133.74" width="8.39" height="8.80" fill="none" stroke="#e8e8e8" stroke-width="0.45" stroke-dasharray="0.8 0.8"/>
</g>
<rect x="475.00" y="175.00" width="59.60" height="3.90" fill="url(#hotH)" stroke="none" stroke-width="0.5"/>
<text x="463.00" y="184.38" font-size="5.95" text-anchor="start" font-weight="normal" fill="#000" opacity="0.999">4.61 x 10<tspan dy="-2.14" font-size="3.57">8</tspan></text>
<text x="521.50" y="184.38" font-size="5.95" text-anchor="start" font-weight="normal" fill="#000" opacity="0.999">3.39 x 10<tspan dy="-2.14" font-size="3.57">9</tspan></text>
<text x="504.80" y="192.30" font-size="6.0" text-anchor="middle" font-weight="normal" fill="#000" opacity="0.999">Radiance (photons s<tspan dy="-2.16" font-size="3.60">-1</tspan><tspan dy="2.16"> cm</tspan><tspan dy="-2.16" font-size="3.60">-2</tspan><tspan dy="2.16"> sr</tspan><tspan dy="-2.16" font-size="3.60">-1</tspan><tspan dy="2.16">)</tspan></text>
<text x="570.20" y="11.27" font-size="10.5" text-anchor="start" font-weight="bold" fill="#000" opacity="0.999">c.</text>
<text x="632.00" y="9.00" font-size="8" text-anchor="middle" font-weight="normal" fill="#000" opacity="0.999">Primary Tumor</text>
<text x="571.80" y="98.33" font-size="8.1" text-anchor="middle" font-weight="normal" fill="#000" opacity="0.999" transform="rotate(-90 571.80 95.50)">Fold change total flux</text>
<line x1="593.80" y1="40.20" x2="593.80" y2="172.00" stroke="#000" stroke-width="0.7"/>
<line x1="593.50" y1="171.70" x2="681.50" y2="171.70" stroke="#000" stroke-width="0.7"/>
<line x1="592.30" y1="50.30" x2="593.80" y2="50.30" stroke="#000" stroke-width="0.6"/>
<text x="591.30" y="53.10" font-size="8" text-anchor="end" font-weight="normal" fill="#000" opacity="0.999">256</text>
<line x1="592.30" y1="93.20" x2="593.80" y2="93.20" stroke="#000" stroke-width="0.6"/>
<text x="591.30" y="96.00" font-size="8" text-anchor="end" font-weight="normal" fill="#000" opacity="0.999">32</text>
<line x1="592.30" y1="136.80" x2="593.80" y2="136.80" stroke="#000" stroke-width="0.6"/>
<text x="591.30" y="139.60" font-size="8" text-anchor="end" font-weight="normal" fill="#000" opacity="0.999">4</text>
<rect x="599.00" y="131.00" width="5.70" height="35.20" fill="#eef2fb" stroke="#222" stroke-width="0.55"/>
<rect x="606.10" y="113.00" width="5.70" height="53.20" fill="#c6dbef" stroke="#222" stroke-width="0.55"/>
<rect x="613.50" y="86.10" width="5.80" height="80.10" fill="#6baed6" stroke="#222" stroke-width="0.55"/>
<rect x="621.10" y="53.50" width="5.70" height="112.70" fill="#3182bd" stroke="#222" stroke-width="0.55"/>
<rect x="628.20" y="102.00" width="5.60" height="64.20" fill="#08519c" stroke="#222" stroke-width="0.55"/>
<rect x="638.40" y="163.20" width="5.50" height="3.00" fill="#5a8a55" stroke="#222" stroke-width="0.55"/>
<rect x="645.30" y="148.20" width="5.70" height="18.00" fill="#e5f5e0" stroke="#222" stroke-width="0.55"/>
<line x1="601.80" y1="128.50" x2="601.80" y2="133.50" stroke="#000" stroke-width="0.55"/>
<line x1="600.40" y1="128.50" x2="603.20" y2="128.50" stroke="#000" stroke-width="0.55"/>
<line x1="600.40" y1="133.50" x2="603.20" y2="133.50" stroke="#000" stroke-width="0.55"/>
<line x1="616.40" y1="83.00" x2="616.40" y2="106.00" stroke="#000" stroke-width="0.55"/>
<line x1="615.00" y1="83.00" x2="617.80" y2="83.00" stroke="#000" stroke-width="0.55"/>
<line x1="615.00" y1="106.00" x2="617.80" y2="106.00" stroke="#000" stroke-width="0.55"/>
<line x1="623.90" y1="49.00" x2="623.90" y2="58.00" stroke="#000" stroke-width="0.55"/>
<line x1="622.50" y1="49.00" x2="625.30" y2="49.00" stroke="#000" stroke-width="0.55"/>
<line x1="622.50" y1="58.00" x2="625.30" y2="58.00" stroke="#000" stroke-width="0.55"/>
<line x1="631.00" y1="100.00" x2="631.00" y2="107.00" stroke="#000" stroke-width="0.55"/>
<line x1="629.60" y1="100.00" x2="632.40" y2="100.00" stroke="#000" stroke-width="0.55"/>
<line x1="629.60" y1="107.00" x2="632.40" y2="107.00" stroke="#000" stroke-width="0.55"/>
<circle cx="601.50" cy="128.60" r="1.35" fill="#000"/>
<circle cx="602.30" cy="129.00" r="1.35" fill="#000"/>
<circle cx="601.80" cy="137.50" r="1.35" fill="#000"/>
<circle cx="602.40" cy="131.50" r="1.35" fill="#000"/>
<circle cx="608.40" cy="113.00" r="1.35" fill="#000"/>
<circle cx="609.60" cy="113.00" r="1.35" fill="#000"/>
<circle cx="616.50" cy="68.80" r="1.35" fill="#000"/>
<circle cx="616.70" cy="86.80" r="1.35" fill="#000"/>
<circle cx="616.40" cy="102.30" r="1.35" fill="#000"/>
<circle cx="616.20" cy="123.70" r="1.35" fill="#000"/>
<circle cx="622.80" cy="47.20" r="1.35" fill="#000"/>
<circle cx="624.40" cy="47.20" r="1.35" fill="#000"/>
<circle cx="625.00" cy="61.50" r="1.35" fill="#000"/>
<circle cx="624.00" cy="76.30" r="1.35" fill="#000"/>
<circle cx="630.50" cy="96.60" r="1.35" fill="#000"/>
<circle cx="631.50" cy="96.60" r="1.35" fill="#000"/>
<circle cx="630.80" cy="103.50" r="1.35" fill="#000"/>
<circle cx="631.30" cy="106.00" r="1.35" fill="#000"/>
<circle cx="630.50" cy="102.20" r="1.35" fill="#000"/>
<circle cx="640.60" cy="163.50" r="1.35" fill="#000"/>
<circle cx="641.80" cy="163.00" r="1.35" fill="#000"/>
<circle cx="647.60" cy="148.60" r="1.35" fill="#000"/>
<circle cx="649.00" cy="148.60" r="1.35" fill="#000"/>
<rect x="636.10" y="134.50" width="17.10" height="32.60" fill="none" stroke="#222" stroke-width="0.65" stroke-dasharray="2 1.5"/>
<text x="616.70" y="23.33" font-size="15" text-anchor="middle" fill="#111">*</text>
<line x1="602.00" y1="20.60" x2="633.00" y2="20.60" stroke="#000" stroke-width="0.6"/>
<line x1="602.00" y1="22.50" x2="623.80" y2="22.50" stroke="#000" stroke-width="0.6"/>
<line x1="602.00" y1="24.50" x2="616.70" y2="24.50" stroke="#000" stroke-width="0.6"/>
<line x1="602.00" y1="26.60" x2="609.60" y2="26.60" stroke="#000" stroke-width="0.6"/>
<text x="622.30" y="38.33" font-size="15" text-anchor="middle" fill="#111">*</text>
<line x1="609.10" y1="37.40" x2="623.80" y2="37.40" stroke="#000" stroke-width="0.6"/>
<line x1="623.80" y1="39.20" x2="630.60" y2="39.20" stroke="#000" stroke-width="0.6"/>
<line x1="616.20" y1="41.10" x2="623.80" y2="41.10" stroke="#999" stroke-width="0.7"/>
<rect x="643.90" y="27.40" width="11.10" height="55.90" fill="none" stroke="#222" stroke-width="0.65" stroke-dasharray="2 1.5"/>
<rect x="656.50" y="28.60" width="4.60" height="4.60" fill="#eef2fb" stroke="#222" stroke-width="0.55"/>
<text x="663.20" y="33.30" font-size="6.85" text-anchor="start" font-weight="normal" fill="#000" opacity="0.999">4 hrs</text>
<rect x="656.50" y="35.10" width="4.60" height="4.60" fill="#c6dbef" stroke="#222" stroke-width="0.55"/>
<text x="663.20" y="39.80" font-size="6.85" text-anchor="start" font-weight="normal" fill="#000" opacity="0.999">24 hrs</text>
<rect x="656.50" y="41.60" width="4.60" height="4.60" fill="#6baed6" stroke="#222" stroke-width="0.55"/>
<text x="663.20" y="46.30" font-size="6.85" text-anchor="start" font-weight="normal" fill="#000" opacity="0.999">48 hrs</text>
<rect x="656.50" y="48.30" width="4.60" height="4.60" fill="#3182bd" stroke="#222" stroke-width="0.55"/>
<text x="663.20" y="53.00" font-size="6.85" text-anchor="start" font-weight="normal" fill="#000" opacity="0.999">72 hrs</text>
<rect x="656.50" y="55.00" width="4.60" height="4.60" fill="#08519c" stroke="#222" stroke-width="0.55"/>
<text x="663.20" y="59.70" font-size="6.85" text-anchor="start" font-weight="normal" fill="#000" opacity="0.999">1 week</text>
<rect x="647.60" y="48.30" width="4.70" height="4.60" fill="#a1d99b" stroke="#222" stroke-width="0.55"/>
<rect x="647.60" y="55.00" width="4.70" height="4.60" fill="#e5f5e0" stroke="#222" stroke-width="0.55"/>
<text x="650.00" y="72.53" font-size="5.8" text-anchor="middle" font-weight="normal" fill="#000" opacity="0.999" transform="rotate(-90 650.00 70.50)">control</text>
<text x="659.20" y="73.53" font-size="5.8" text-anchor="middle" font-weight="normal" fill="#000" opacity="0.999" transform="rotate(-90 659.20 71.50)">SANGs</text>
<text x="267.00" y="205.68" font-size="10.5" text-anchor="start" font-weight="bold" fill="#000" opacity="0.999">d.</text>
<text x="308.50" y="240.91" font-size="6.9" text-anchor="middle" font-weight="normal" fill="#000" opacity="0.999" transform="rotate(-90 308.50 238.50)">Fold change total flux</text>
<line x1="328.80" y1="203.20" x2="328.80" y2="286.60" stroke="#000" stroke-width="0.7"/>
<line x1="328.50" y1="286.40" x2="685.00" y2="286.40" stroke="#000" stroke-width="0.7"/>
<line x1="327.30" y1="204.60" x2="328.80" y2="204.60" stroke="#000" stroke-width="0.6"/>
<text x="326.30" y="206.84" font-size="6.4" text-anchor="end" font-weight="normal" fill="#000" opacity="0.999">100</text>
<line x1="327.30" y1="242.40" x2="328.80" y2="242.40" stroke="#000" stroke-width="0.6"/>
<text x="326.30" y="244.64" font-size="6.4" text-anchor="end" font-weight="normal" fill="#000" opacity="0.999">50</text>
<line x1="327.30" y1="280.50" x2="328.80" y2="280.50" stroke="#000" stroke-width="0.6"/>
<text x="326.30" y="282.74" font-size="6.4" text-anchor="end" font-weight="normal" fill="#000" opacity="0.999">0</text>
<line x1="350.70" y1="286.40" x2="350.70" y2="288.00" stroke="#000" stroke-width="0.6"/>
<text x="352.20" y="298.92" font-size="6.8" text-anchor="middle" font-weight="normal" fill="#000" opacity="0.999" transform="rotate(-45 352.20 296.54)">Liver</text>
<rect x="339.50" y="278.90" width="4.90" height="1.60" fill="#eef2fb" stroke="#111" stroke-width="0.5"/>
<circle cx="340.70" cy="278.60" r="1.15" fill="#000"/>
<circle cx="341.90" cy="279.20" r="1.15" fill="#000"/>
<circle cx="343.10" cy="278.60" r="1.15" fill="#000"/>
<rect x="345.20" y="278.30" width="4.90" height="2.20" fill="#c6dbef" stroke="#111" stroke-width="0.5"/>
<circle cx="346.40" cy="278.00" r="1.15" fill="#000"/>
<circle cx="347.60" cy="278.60" r="1.15" fill="#000"/>
<circle cx="348.80" cy="278.00" r="1.15" fill="#000"/>
<rect x="350.90" y="278.10" width="4.90" height="2.40" fill="#6baed6" stroke="#111" stroke-width="0.5"/>
<circle cx="352.10" cy="277.80" r="1.15" fill="#000"/>
<circle cx="353.30" cy="278.40" r="1.15" fill="#000"/>
<circle cx="354.50" cy="277.80" r="1.15" fill="#000"/>
<rect x="356.60" y="276.90" width="4.90" height="3.60" fill="#3182bd" stroke="#111" stroke-width="0.5"/>
<circle cx="357.80" cy="276.60" r="1.15" fill="#000"/>
<circle cx="359.00" cy="277.20" r="1.15" fill="#000"/>
<circle cx="360.20" cy="276.60" r="1.15" fill="#000"/>
<rect x="366.30" y="263.00" width="14.60" height="20.20" fill="none" stroke="#222" stroke-width="0.65" stroke-dasharray="2 1.5"/>
<rect x="367.90" y="278.90" width="4.40" height="1.60" fill="#a1d99b" stroke="#111" stroke-width="0.5"/>
<rect x="373.70" y="279.10" width="4.40" height="1.40" fill="#e5f5e0" stroke="#111" stroke-width="0.5"/>
<circle cx="368.90" cy="278.70" r="0.9" fill="#000"/>
<circle cx="374.70" cy="278.90" r="0.9" fill="#000"/>
<circle cx="370.00" cy="278.70" r="0.9" fill="#000"/>
<circle cx="375.80" cy="278.90" r="0.9" fill="#000"/>
<circle cx="371.10" cy="278.70" r="0.9" fill="#000"/>
<circle cx="376.90" cy="278.90" r="0.9" fill="#000"/>
<line x1="410.30" y1="286.40" x2="410.30" y2="288.00" stroke="#000" stroke-width="0.6"/>
<text x="411.80" y="301.06" font-size="6.8" text-anchor="middle" font-weight="normal" fill="#000" opacity="0.999" transform="rotate(-45 411.80 298.68)">Kidney</text>
<rect x="399.10" y="279.50" width="4.90" height="1.00" fill="#eef2fb" stroke="#111" stroke-width="0.5"/>
<circle cx="400.30" cy="279.20" r="1.15" fill="#000"/>
<circle cx="401.50" cy="279.80" r="1.15" fill="#000"/>
<circle cx="402.70" cy="279.20" r="1.15" fill="#000"/>
<rect x="404.80" y="279.50" width="4.90" height="1.00" fill="#c6dbef" stroke="#111" stroke-width="0.5"/>
<circle cx="406.00" cy="279.20" r="1.15" fill="#000"/>
<circle cx="407.20" cy="279.80" r="1.15" fill="#000"/>
<circle cx="408.40" cy="279.20" r="1.15" fill="#000"/>
<rect x="410.50" y="268.00" width="4.90" height="12.50" fill="#6baed6" stroke="#111" stroke-width="0.5"/>
<circle cx="411.70" cy="267.70" r="1.15" fill="#000"/>
<circle cx="412.90" cy="268.30" r="1.15" fill="#000"/>
<circle cx="414.10" cy="267.70" r="1.15" fill="#000"/>
<rect x="416.20" y="276.80" width="4.90" height="3.70" fill="#3182bd" stroke="#111" stroke-width="0.5"/>
<circle cx="417.40" cy="276.50" r="1.15" fill="#000"/>
<circle cx="418.60" cy="277.10" r="1.15" fill="#000"/>
<circle cx="419.80" cy="276.50" r="1.15" fill="#000"/>
<rect x="425.90" y="263.00" width="14.60" height="20.20" fill="none" stroke="#222" stroke-width="0.65" stroke-dasharray="2 1.5"/>
<rect x="427.50" y="278.90" width="4.40" height="1.60" fill="#a1d99b" stroke="#111" stroke-width="0.5"/>
<rect x="433.30" y="279.10" width="4.40" height="1.40" fill="#e5f5e0" stroke="#111" stroke-width="0.5"/>
<circle cx="428.50" cy="278.70" r="0.9" fill="#000"/>
<circle cx="434.30" cy="278.90" r="0.9" fill="#000"/>
<circle cx="429.60" cy="278.70" r="0.9" fill="#000"/>
<circle cx="435.40" cy="278.90" r="0.9" fill="#000"/>
<circle cx="430.70" cy="278.70" r="0.9" fill="#000"/>
<circle cx="436.50" cy="278.90" r="0.9" fill="#000"/>
<line x1="469.90" y1="286.40" x2="469.90" y2="288.00" stroke="#000" stroke-width="0.6"/>
<text x="471.40" y="301.20" font-size="6.8" text-anchor="middle" font-weight="normal" fill="#000" opacity="0.999" transform="rotate(-45 471.40 298.82)">Spleen</text>
<rect x="458.70" y="279.60" width="4.90" height="0.90" fill="#eef2fb" stroke="#111" stroke-width="0.5"/>
<circle cx="459.90" cy="279.30" r="1.15" fill="#000"/>
<circle cx="461.10" cy="279.90" r="1.15" fill="#000"/>
<circle cx="462.30" cy="279.30" r="1.15" fill="#000"/>
<rect x="464.40" y="279.50" width="4.90" height="1.00" fill="#c6dbef" stroke="#111" stroke-width="0.5"/>
<circle cx="465.60" cy="279.20" r="1.15" fill="#000"/>
<circle cx="466.80" cy="279.80" r="1.15" fill="#000"/>
<circle cx="468.00" cy="279.20" r="1.15" fill="#000"/>
<rect x="470.10" y="279.10" width="4.90" height="1.40" fill="#6baed6" stroke="#111" stroke-width="0.5"/>
<circle cx="471.30" cy="278.80" r="1.15" fill="#000"/>
<circle cx="472.50" cy="279.40" r="1.15" fill="#000"/>
<circle cx="473.70" cy="278.80" r="1.15" fill="#000"/>
<rect x="475.80" y="278.50" width="4.90" height="2.00" fill="#3182bd" stroke="#111" stroke-width="0.5"/>
<circle cx="477.00" cy="278.20" r="1.15" fill="#000"/>
<circle cx="478.20" cy="278.80" r="1.15" fill="#000"/>
<circle cx="479.40" cy="278.20" r="1.15" fill="#000"/>
<rect x="485.50" y="263.00" width="14.60" height="20.20" fill="none" stroke="#222" stroke-width="0.65" stroke-dasharray="2 1.5"/>
<rect x="487.10" y="278.90" width="4.40" height="1.60" fill="#a1d99b" stroke="#111" stroke-width="0.5"/>
<rect x="492.90" y="279.10" width="4.40" height="1.40" fill="#e5f5e0" stroke="#111" stroke-width="0.5"/>
<circle cx="488.10" cy="278.70" r="0.9" fill="#000"/>
<circle cx="493.90" cy="278.90" r="0.9" fill="#000"/>
<circle cx="489.20" cy="278.70" r="0.9" fill="#000"/>
<circle cx="495.00" cy="278.90" r="0.9" fill="#000"/>
<circle cx="490.30" cy="278.70" r="0.9" fill="#000"/>
<circle cx="496.10" cy="278.90" r="0.9" fill="#000"/>
<line x1="529.50" y1="286.40" x2="529.50" y2="288.00" stroke="#000" stroke-width="0.6"/>
<text x="531.00" y="299.59" font-size="6.8" text-anchor="middle" font-weight="normal" fill="#000" opacity="0.999" transform="rotate(-45 531.00 297.21)">Heart</text>
<rect x="518.30" y="280.00" width="4.90" height="0.50" fill="#eef2fb" stroke="#111" stroke-width="0.5"/>
<circle cx="519.50" cy="279.70" r="1.15" fill="#000"/>
<circle cx="520.70" cy="280.30" r="1.15" fill="#000"/>
<circle cx="521.90" cy="279.70" r="1.15" fill="#000"/>
<rect x="524.00" y="280.00" width="4.90" height="0.50" fill="#c6dbef" stroke="#111" stroke-width="0.5"/>
<circle cx="525.20" cy="279.70" r="1.15" fill="#000"/>
<circle cx="526.40" cy="280.30" r="1.15" fill="#000"/>
<circle cx="527.60" cy="279.70" r="1.15" fill="#000"/>
<rect x="529.70" y="280.00" width="4.90" height="0.50" fill="#6baed6" stroke="#111" stroke-width="0.5"/>
<circle cx="530.90" cy="279.70" r="1.15" fill="#000"/>
<circle cx="532.10" cy="280.30" r="1.15" fill="#000"/>
<circle cx="533.30" cy="279.70" r="1.15" fill="#000"/>
<rect x="535.40" y="280.00" width="4.90" height="0.50" fill="#3182bd" stroke="#111" stroke-width="0.5"/>
<circle cx="536.60" cy="279.70" r="1.15" fill="#000"/>
<circle cx="537.80" cy="280.30" r="1.15" fill="#000"/>
<circle cx="539.00" cy="279.70" r="1.15" fill="#000"/>
<rect x="545.10" y="263.00" width="14.60" height="20.20" fill="none" stroke="#222" stroke-width="0.65" stroke-dasharray="2 1.5"/>
<rect x="546.70" y="278.90" width="4.40" height="1.60" fill="#a1d99b" stroke="#111" stroke-width="0.5"/>
<rect x="552.50" y="279.10" width="4.40" height="1.40" fill="#e5f5e0" stroke="#111" stroke-width="0.5"/>
<circle cx="547.70" cy="278.70" r="0.9" fill="#000"/>
<circle cx="553.50" cy="278.90" r="0.9" fill="#000"/>
<circle cx="548.80" cy="278.70" r="0.9" fill="#000"/>
<circle cx="554.60" cy="278.90" r="0.9" fill="#000"/>
<circle cx="549.90" cy="278.70" r="0.9" fill="#000"/>
<circle cx="555.70" cy="278.90" r="0.9" fill="#000"/>
<line x1="589.10" y1="286.40" x2="589.10" y2="288.00" stroke="#000" stroke-width="0.6"/>
<text x="590.60" y="300.26" font-size="6.8" text-anchor="middle" font-weight="normal" fill="#000" opacity="0.999" transform="rotate(-45 590.60 297.88)">Lungs</text>
<rect x="577.90" y="279.60" width="4.90" height="0.90" fill="#eef2fb" stroke="#111" stroke-width="0.5"/>
<circle cx="579.10" cy="279.30" r="1.15" fill="#000"/>
<circle cx="580.30" cy="279.90" r="1.15" fill="#000"/>
<circle cx="581.50" cy="279.30" r="1.15" fill="#000"/>
<rect x="583.60" y="277.90" width="4.90" height="2.60" fill="#c6dbef" stroke="#111" stroke-width="0.5"/>
<circle cx="584.80" cy="277.60" r="1.15" fill="#000"/>
<circle cx="586.00" cy="278.20" r="1.15" fill="#000"/>
<circle cx="587.20" cy="277.60" r="1.15" fill="#000"/>
<rect x="589.30" y="277.90" width="4.90" height="2.60" fill="#6baed6" stroke="#111" stroke-width="0.5"/>
<circle cx="590.50" cy="277.60" r="1.15" fill="#000"/>
<circle cx="591.70" cy="278.20" r="1.15" fill="#000"/>
<circle cx="592.90" cy="277.60" r="1.15" fill="#000"/>
<rect x="595.00" y="277.90" width="4.90" height="2.60" fill="#3182bd" stroke="#111" stroke-width="0.5"/>
<circle cx="596.20" cy="277.60" r="1.15" fill="#000"/>
<circle cx="597.40" cy="278.20" r="1.15" fill="#000"/>
<circle cx="598.60" cy="277.60" r="1.15" fill="#000"/>
<rect x="604.70" y="263.00" width="14.60" height="20.20" fill="none" stroke="#222" stroke-width="0.65" stroke-dasharray="2 1.5"/>
<rect x="606.30" y="278.90" width="4.40" height="1.60" fill="#a1d99b" stroke="#111" stroke-width="0.5"/>
<rect x="612.10" y="279.10" width="4.40" height="1.40" fill="#e5f5e0" stroke="#111" stroke-width="0.5"/>
<circle cx="607.30" cy="278.70" r="0.9" fill="#000"/>
<circle cx="613.10" cy="278.90" r="0.9" fill="#000"/>
<circle cx="608.40" cy="278.70" r="0.9" fill="#000"/>
<circle cx="614.20" cy="278.90" r="0.9" fill="#000"/>
<circle cx="609.50" cy="278.70" r="0.9" fill="#000"/>
<circle cx="615.30" cy="278.90" r="0.9" fill="#000"/>
<line x1="648.70" y1="286.40" x2="648.70" y2="288.00" stroke="#000" stroke-width="0.6"/>
<text x="650.20" y="302.26" font-size="6.8" text-anchor="middle" font-weight="normal" fill="#000" opacity="0.999" transform="rotate(-45 650.20 299.88)">GI Tract</text>
<rect x="637.50" y="273.00" width="4.90" height="7.50" fill="#eef2fb" stroke="#111" stroke-width="0.5"/>
<circle cx="638.70" cy="272.70" r="1.15" fill="#000"/>
<circle cx="639.90" cy="273.30" r="1.15" fill="#000"/>
<circle cx="641.10" cy="272.70" r="1.15" fill="#000"/>
<rect x="643.20" y="278.70" width="4.90" height="1.80" fill="#c6dbef" stroke="#111" stroke-width="0.5"/>
<circle cx="644.40" cy="278.40" r="1.15" fill="#000"/>
<circle cx="645.60" cy="279.00" r="1.15" fill="#000"/>
<circle cx="646.80" cy="278.40" r="1.15" fill="#000"/>
<rect x="648.90" y="278.30" width="4.90" height="2.20" fill="#6baed6" stroke="#111" stroke-width="0.5"/>
<circle cx="650.10" cy="278.00" r="1.15" fill="#000"/>
<circle cx="651.30" cy="278.60" r="1.15" fill="#000"/>
<circle cx="652.50" cy="278.00" r="1.15" fill="#000"/>
<rect x="654.60" y="277.90" width="4.90" height="2.60" fill="#3182bd" stroke="#111" stroke-width="0.5"/>
<circle cx="655.80" cy="277.60" r="1.15" fill="#000"/>
<circle cx="657.00" cy="278.20" r="1.15" fill="#000"/>
<circle cx="658.20" cy="277.60" r="1.15" fill="#000"/>
<rect x="664.30" y="263.00" width="14.60" height="20.20" fill="none" stroke="#222" stroke-width="0.65" stroke-dasharray="2 1.5"/>
<rect x="665.90" y="278.90" width="4.40" height="1.60" fill="#a1d99b" stroke="#111" stroke-width="0.5"/>
<rect x="671.70" y="279.10" width="4.40" height="1.40" fill="#e5f5e0" stroke="#111" stroke-width="0.5"/>
<circle cx="666.90" cy="278.70" r="0.9" fill="#000"/>
<circle cx="672.70" cy="278.90" r="0.9" fill="#000"/>
<circle cx="668.00" cy="278.70" r="0.9" fill="#000"/>
<circle cx="673.80" cy="278.90" r="0.9" fill="#000"/>
<circle cx="669.10" cy="278.70" r="0.9" fill="#000"/>
<circle cx="674.90" cy="278.90" r="0.9" fill="#000"/>
<circle cx="346.80" cy="274.50" r="1.0" fill="#000"/>
<circle cx="353.00" cy="274.80" r="1.0" fill="#000"/>
<circle cx="359.80" cy="272.50" r="1.0" fill="#000"/>
<circle cx="413.00" cy="264.80" r="1.1" fill="#000"/>
<circle cx="413.30" cy="268.50" r="1.1" fill="#000"/>
<circle cx="419.20" cy="274.20" r="1.0" fill="#000"/>
<circle cx="474.50" cy="275.80" r="1.0" fill="#000"/>
<circle cx="587.30" cy="275.20" r="1.0" fill="#000"/>
<circle cx="593.50" cy="276.80" r="1.0" fill="#000"/>
<circle cx="599.50" cy="276.20" r="1.0" fill="#000"/>
<circle cx="638.50" cy="271.80" r="0.8" fill="#000"/>
<circle cx="657.00" cy="270.30" r="0.6" fill="#000"/>
<circle cx="640.00" cy="274.50" r="0.9" fill="#000"/>
<text x="409.70" y="257.72" font-size="15" text-anchor="middle" fill="#111">*</text>
<line x1="400.90" y1="258.40" x2="413.50" y2="258.40" stroke="#000" stroke-width="0.6"/>
<rect x="641.20" y="198.60" width="11.10" height="53.90" fill="none" stroke="#222" stroke-width="0.65" stroke-dasharray="2 1.5"/>
<rect x="644.80" y="199.50" width="4.50" height="4.50" fill="#a1d99b" stroke="#222" stroke-width="0.55"/>
<rect x="644.80" y="219.00" width="4.50" height="4.50" fill="#e5f5e0" stroke="#222" stroke-width="0.55"/>
<rect x="655.20" y="199.45" width="4.50" height="4.50" fill="#eef2fb" stroke="#222" stroke-width="0.55"/>
<text x="662.20" y="204.08" font-size="6.8" text-anchor="start" font-weight="normal" fill="#000" opacity="0.999">4 hrs</text>
<rect x="655.20" y="205.95" width="4.50" height="4.50" fill="#c6dbef" stroke="#222" stroke-width="0.55"/>
<text x="662.20" y="210.58" font-size="6.8" text-anchor="start" font-weight="normal" fill="#000" opacity="0.999">24 hrs</text>
<rect x="655.20" y="212.55" width="4.50" height="4.50" fill="#6baed6" stroke="#222" stroke-width="0.55"/>
<text x="662.20" y="217.18" font-size="6.8" text-anchor="start" font-weight="normal" fill="#000" opacity="0.999">48 hrs</text>
<rect x="655.20" y="219.05" width="4.50" height="4.50" fill="#3182bd" stroke="#222" stroke-width="0.55"/>
<text x="662.20" y="223.68" font-size="6.8" text-anchor="start" font-weight="normal" fill="#000" opacity="0.999">72 hrs</text>
<text x="646.80" y="242.96" font-size="5.6" text-anchor="middle" font-weight="normal" fill="#000" opacity="0.999" transform="rotate(-90 646.80 241.00)">control</text>
<text x="657.80" y="244.46" font-size="5.6" text-anchor="middle" font-weight="normal" fill="#000" opacity="0.999" transform="rotate(-90 657.80 242.50)">SANGs</text>
<text x="4.20" y="191.18" font-size="10.5" text-anchor="start" font-weight="bold" fill="#000" opacity="0.999">e.</text>
<text x="69.00" y="191.61" font-size="6.9" text-anchor="middle" font-weight="normal" fill="#000" opacity="0.999">Tumor Bioluminescence</text>
<text x="179.00" y="191.61" font-size="6.9" text-anchor="middle" font-weight="normal" fill="#000" opacity="0.999">SANGs Fluorescence</text>
<text x="13.20" y="232.80" font-size="5.7" text-anchor="middle" font-weight="normal" fill="#000" opacity="0.999" transform="rotate(-90 13.20 230.80)">4 Hours</text>
<clipPath id="cp21"><rect x="18.70" y="193.30" width="94.60" height="73.40"/></clipPath><g clip-path="url(#cp21)">
<rect x="18.70" y="193.30" width="94.60" height="73.40" fill="#4a4a4a" stroke="none" stroke-width="0.5"/>
<ellipse cx="64.1" cy="243.6" rx="30" ry="5" fill="#3c3c3c" filter="url(#b2)"/>
<rect x="18.70" y="193.30" width="94.60" height="73.40" fill="#fff" stroke="none" stroke-width="0.5" filter="url(#noise)" opacity="0.3"/>
<rect x="18.70" y="193.30" width="94.60" height="73.40" fill="#000" stroke="none" stroke-width="0.5" filter="url(#noiseD)" opacity="0.35"/>
<ellipse cx="23.19" cy="217.10" rx="2.38" ry="1.49" fill="url(#dk)" opacity="0.8" transform="rotate(-30 23.19 217.10)" filter="url(#irr2)"/>
<ellipse cx="33.17" cy="218.59" rx="2.08" ry="1.49" fill="url(#dk)" opacity="0.55" transform="rotate(0 33.17 218.59)" filter="url(#irr2)"/>
<ellipse cx="66.82" cy="217.70" rx="1.49" ry="2.38" fill="url(#dk)" opacity="0.5" transform="rotate(0 66.82 217.70)" filter="url(#irr2)"/>
<ellipse cx="44.78" cy="209.06" rx="3.28" ry="1.04" fill="url(#dk)" opacity="0.6" transform="rotate(15 44.78 209.06)" filter="url(#irr2)"/>
<ellipse cx="86.47" cy="207.87" rx="4.47" ry="1.19" fill="url(#dk)" opacity="0.6" transform="rotate(10 86.47 207.87)" filter="url(#irr2)"/>
<ellipse cx="52.22" cy="217.55" rx="2.98" ry="4.17" fill="url(#fur)" opacity="0.8" transform="rotate(10 52.22 217.55)" filter="url(#irr2)"/>
<ellipse cx="49.54" cy="223.50" rx="1.19" ry="1.19" fill="url(#fur)" opacity="0.5" transform="rotate(0 49.54 223.50)" filter="url(#irr2)"/>
<ellipse cx="62.65" cy="225.74" rx="0.89" ry="0.89" fill="url(#fur)" opacity="0.4" transform="rotate(0 62.65 225.74)" filter="url(#irr2)"/>
<path d="M23.2 236.2 Q26.2 233.5 29.5 233.0 Q32.9 232.6 36.2 233.6 Q39.6 234.7 42.9 235.6 Q46.3 236.5 49.2 236.4 Q52.2 236.3 55.9 235.5 Q59.7 234.7 63.4 235.1 Q67.1 235.6 70.8 235.3 Q74.6 235.0 78.3 234.8 Q82.0 234.7 85.7 234.0 Q89.4 233.3 92.8 232.9 Q96.1 232.4 98.8 232.8 Q101.4 233.2 103.6 234.5 Q105.8 235.9 107.5 237.5 Q109.1 239.1 109.4 240.6 L109.7 242.1" fill="none" stroke="#d6d6d6" stroke-width="2.3" stroke-linecap="round" filter="url(#irr2)" opacity="0.95"/>
<path d="M109.7 242.1 Q104.3 244.5 101.4 245.2 Q98.4 246.0 95.4 246.0 Q92.4 246.0 89.4 246.7 Q86.5 247.5 83.5 248.2 Q80.5 249.0 77.5 248.6 Q74.6 248.2 70.8 249.0 Q67.1 249.7 63.4 250.5 Q59.7 251.2 55.9 251.9 Q52.2 252.7 48.5 253.8 Q44.8 254.9 41.8 255.4 Q38.8 255.8 36.6 254.2 Q34.4 252.7 32.9 250.8 Q31.4 249.0 29.9 247.1 Q28.4 245.2 26.3 243.1 Q24.2 240.9 23.7 238.5 L23.2 236.2" fill="none" stroke="#d6d6d6" stroke-width="2.3" stroke-linecap="round" filter="url(#irr2)" opacity="0.95"/>
<ellipse cx="32.27" cy="244.50" rx="3.57" ry="3.57" fill="url(#fur)" opacity="0.95" transform="rotate(0 32.27 244.50)" filter="url(#irr2)"/>
<path d="M62.3 250.3 L62.9 255.5" stroke="#bbb" stroke-width="1" filter="url(#b03)"/>
<path d="M23.2 236.2 Q26.2 233.5 29.5 233.0 Q32.9 232.6 36.2 233.6 Q39.6 234.7 42.9 235.6 Q46.3 236.5 49.2 236.4 Q52.2 236.3 55.9 235.5 Q59.7 234.7 63.4 235.1 Q67.1 235.6 70.8 235.3 Q74.6 235.0 78.3 234.8 Q82.0 234.7 85.7 234.0 Q89.4 233.3 92.8 232.9 Q96.1 232.4 98.8 232.8 Q101.4 233.2 103.6 234.5 Q105.8 235.9 107.5 237.5 Q109.1 239.1 109.4 240.6 L109.7 242.1" fill="none" stroke="#1838f0" stroke-width="3" filter="url(#irr2)" stroke-dasharray="0 2 8 14 8 14 26 12 6 200"/>
<path d="M109.7 242.1 Q104.3 244.5 101.4 245.2 Q98.4 246.0 95.4 246.0 Q92.4 246.0 89.4 246.7 Q86.5 247.5 83.5 248.2 Q80.5 249.0 77.5 248.6 Q74.6 248.2 70.8 249.0 Q67.1 249.7 63.4 250.5 Q59.7 251.2 55.9 251.9 Q52.2 252.7 48.5 253.8 Q44.8 254.9 41.8 255.4 Q38.8 255.8 36.6 254.2 Q34.4 252.7 32.9 250.8 Q31.4 249.0 29.9 247.1 Q28.4 245.2 26.3 243.1 Q24.2 240.9 23.7 238.5 L23.2 236.2" fill="none" stroke="#1838f0" stroke-width="3" filter="url(#irr2)" stroke-dasharray="0 4 12 3 22 4 16 3 12 4 10 6 14 200"/>
<ellipse cx="48.50" cy="209.95" rx="1.45" ry="1.09" fill="url(#rbB)" opacity="1" transform="rotate(0 48.50 209.95)" filter="url(#irr2)"/>
<ellipse cx="54.01" cy="220.97" rx="4.00" ry="1.09" fill="url(#rbB)" opacity="1" transform="rotate(-25 54.01 220.97)" filter="url(#irr2)"/>
<ellipse cx="61.46" cy="225.74" rx="0.73" ry="0.91" fill="url(#rbB)" opacity="1" transform="rotate(0 61.46 225.74)" filter="url(#irr2)"/>
<ellipse cx="71.58" cy="215.61" rx="0.91" ry="1.82" fill="url(#rbB)" opacity="1" transform="rotate(0 71.58 215.61)" filter="url(#irr2)"/>
<ellipse cx="84.98" cy="216.50" rx="4.00" ry="5.45" fill="url(#rbG)" opacity="1" transform="rotate(15 84.98 216.50)" filter="url(#irr2)"/>
<ellipse cx="90.19" cy="212.33" rx="4.00" ry="0.91" fill="url(#rbB)" opacity="1" transform="rotate(-20 90.19 212.33)" filter="url(#irr2)"/>
<ellipse cx="101.06" cy="215.01" rx="1.27" ry="3.63" fill="url(#rbB)" opacity="1" transform="rotate(-30 101.06 215.01)" filter="url(#irr2)"/>
<ellipse cx="106.72" cy="213.82" rx="1.45" ry="2.91" fill="url(#rbG)" opacity="1" transform="rotate(20 106.72 213.82)" filter="url(#irr2)"/>
<ellipse cx="104.04" cy="218.59" rx="1.09" ry="1.45" fill="url(#rbB)" opacity="1" transform="rotate(0 104.04 218.59)" filter="url(#irr2)"/>
<ellipse cx="28.10" cy="233.48" rx="4.00" ry="1.63" fill="url(#rbB)" opacity="1" transform="rotate(-15 28.10 233.48)" filter="url(#irr2)"/>
<ellipse cx="48.95" cy="235.86" rx="3.63" ry="2.54" fill="url(#rbG)" opacity="1" transform="rotate(0 48.95 235.86)" filter="url(#irr2)"/>
<ellipse cx="73.96" cy="235.12" rx="6.90" ry="2.91" fill="url(#rbR)" opacity="1" transform="rotate(0 73.96 235.12)" filter="url(#irr2)"/>
<ellipse cx="87.51" cy="233.78" rx="4.72" ry="2.36" fill="url(#rbG)" opacity="1" transform="rotate(0 87.51 233.78)" filter="url(#irr2)"/>
<ellipse cx="107.61" cy="240.33" rx="2.18" ry="3.63" fill="url(#rbG)" opacity="1" transform="rotate(0 107.61 240.33)" filter="url(#irr2)"/>
<ellipse cx="96.15" cy="244.79" rx="8.72" ry="1.63" fill="url(#rbB)" opacity="1" transform="rotate(-8 96.15 244.79)" filter="url(#irr2)"/>
<ellipse cx="79.03" cy="248.07" rx="5.81" ry="2.54" fill="url(#rbG)" opacity="1" transform="rotate(0 79.03 248.07)" filter="url(#irr2)"/>
<ellipse cx="64.14" cy="249.86" rx="4.36" ry="1.27" fill="url(#rbB)" opacity="1" transform="rotate(-5 64.14 249.86)" filter="url(#irr2)"/>
<ellipse cx="52.22" cy="252.54" rx="4.00" ry="1.09" fill="url(#rbB)" opacity="1" transform="rotate(-10 52.22 252.54)" filter="url(#irr2)"/>
<ellipse cx="37.33" cy="256.26" rx="3.63" ry="3.27" fill="url(#rbG)" opacity="1" transform="rotate(0 37.33 256.26)" filter="url(#irr2)"/>
<ellipse cx="25.13" cy="249.56" rx="2.91" ry="5.45" fill="url(#rbB)" opacity="1" transform="rotate(0 25.13 249.56)" filter="url(#irr2)"/>
<ellipse cx="26.17" cy="242.41" rx="1.82" ry="2.54" fill="url(#rbB)" opacity="1" transform="rotate(0 26.17 242.41)" filter="url(#irr2)"/>
<ellipse cx="30.49" cy="238.84" rx="1.82" ry="1.45" fill="url(#rbB)" opacity="1" transform="rotate(0 30.49 238.84)" filter="url(#irr2)"/>
<ellipse cx="82.30" cy="259.39" rx="5.09" ry="4.00" fill="url(#rbG)" opacity="1" transform="rotate(0 82.30 259.39)" filter="url(#irr2)"/>
<ellipse cx="92.43" cy="258.64" rx="2.18" ry="2.91" fill="url(#rbR)" opacity="1" transform="rotate(0 92.43 258.64)" filter="url(#irr2)"/>
<ellipse cx="102.85" cy="256.41" rx="6.54" ry="2.36" fill="url(#rbG)" opacity="1" transform="rotate(-30 102.85 256.41)" filter="url(#irr2)"/>
<path d="M75.5 262.7 V252.2 H111.2 V262.7" fill="none" stroke="#e8e8e8" stroke-width="0.55"/>
<rect x="41.50" y="262.66" width="69.68" height="3.87" fill="#3a3a3a" stroke="#e8e8e8" stroke-width="0.55"/>
<text x="42.70" y="265.98" font-size="3.65" text-anchor="start" font-weight="normal" fill="#fff" opacity="0.999">Primary Tumor excised from Ovaries</text>
</g>
<text x="20.21" y="205.79" font-size="4.7" text-anchor="start" font-weight="normal" fill="#fff" opacity="0.999">Heart</text>
<text x="31.08" y="213.98" font-size="4.7" text-anchor="start" font-weight="normal" fill="#fff" opacity="0.999">Lungs</text>
<text x="48.06" y="206.53" font-size="4.7" text-anchor="start" font-weight="normal" fill="#fff" opacity="0.999">Liver</text>
<text x="62.95" y="211.00" font-size="4.7" text-anchor="start" font-weight="normal" fill="#fff" opacity="0.999">Kidney</text>
<text x="79.77" y="206.53" font-size="4.7" text-anchor="start" font-weight="normal" fill="#fff" opacity="0.999">Spleen</text>
<text x="96.15" y="209.81" font-size="4.7" text-anchor="start" font-weight="normal" fill="#fff" opacity="0.999">Ovaries</text>
<text x="97.94" y="225.89" font-size="4.7" text-anchor="start" font-weight="normal" fill="#fff" opacity="0.999">Uterus</text>
<clipPath id="cp22"><rect x="128.80" y="194.20" width="93.20" height="72.50"/></clipPath><g clip-path="url(#cp22)">
<rect x="128.80" y="194.20" width="93.20" height="72.50" fill="#474747" stroke="none" stroke-width="0.5"/>
<ellipse cx="173.1" cy="243.6" rx="30" ry="5" fill="#3c3c3c" filter="url(#b2)"/>
<rect x="128.80" y="194.20" width="93.20" height="72.50" fill="#fff" stroke="none" stroke-width="0.5" filter="url(#noise)" opacity="0.3"/>
<rect x="128.80" y="194.20" width="93.20" height="72.50" fill="#000" stroke="none" stroke-width="0.5" filter="url(#noiseD)" opacity="0.35"/>
<ellipse cx="132.19" cy="217.10" rx="2.38" ry="1.49" fill="url(#dk)" opacity="0.8" transform="rotate(-30 132.19 217.10)" filter="url(#irr2)"/>
<ellipse cx="142.17" cy="218.59" rx="2.08" ry="1.49" fill="url(#dk)" opacity="0.55" transform="rotate(0 142.17 218.59)" filter="url(#irr2)"/>
<ellipse cx="175.82" cy="217.70" rx="1.49" ry="2.38" fill="url(#dk)" opacity="0.5" transform="rotate(0 175.82 217.70)" filter="url(#irr2)"/>
<ellipse cx="153.78" cy="209.06" rx="3.28" ry="1.04" fill="url(#dk)" opacity="0.6" transform="rotate(15 153.78 209.06)" filter="url(#irr2)"/>
<ellipse cx="195.47" cy="207.87" rx="4.47" ry="1.19" fill="url(#dk)" opacity="0.6" transform="rotate(10 195.47 207.87)" filter="url(#irr2)"/>
<ellipse cx="161.22" cy="217.55" rx="2.98" ry="4.17" fill="url(#fur)" opacity="0.8" transform="rotate(10 161.22 217.55)" filter="url(#irr2)"/>
<ellipse cx="158.54" cy="223.50" rx="1.19" ry="1.19" fill="url(#fur)" opacity="0.5" transform="rotate(0 158.54 223.50)" filter="url(#irr2)"/>
<ellipse cx="171.65" cy="225.74" rx="0.89" ry="0.89" fill="url(#fur)" opacity="0.4" transform="rotate(0 171.65 225.74)" filter="url(#irr2)"/>
<path d="M132.2 236.2 Q135.2 233.5 138.5 233.0 Q141.9 232.6 145.2 233.6 Q148.6 234.7 151.9 235.6 Q155.3 236.5 158.2 236.4 Q161.2 236.3 164.9 235.5 Q168.7 234.7 172.4 235.1 Q176.1 235.6 179.8 235.3 Q183.6 235.0 187.3 234.8 Q191.0 234.7 194.7 234.0 Q198.4 233.3 201.8 232.9 Q205.1 232.4 207.8 232.8 Q210.4 233.2 212.6 234.5 Q214.8 235.9 216.5 237.5 Q218.1 239.1 218.4 240.6 L218.7 242.1" fill="none" stroke="#d6d6d6" stroke-width="2.3" stroke-linecap="round" filter="url(#irr2)" opacity="0.95"/>
<path d="M218.7 242.1 Q213.3 244.5 210.4 245.2 Q207.4 246.0 204.4 246.0 Q201.4 246.0 198.4 246.7 Q195.5 247.5 192.5 248.2 Q189.5 249.0 186.5 248.6 Q183.6 248.2 179.8 249.0 Q176.1 249.7 172.4 250.5 Q168.7 251.2 164.9 251.9 Q161.2 252.7 157.5 253.8 Q153.8 254.9 150.8 255.4 Q147.8 255.8 145.6 254.2 Q143.4 252.7 141.9 250.8 Q140.4 249.0 138.9 247.1 Q137.4 245.2 135.3 243.1 Q133.2 240.9 132.7 238.5 L132.2 236.2" fill="none" stroke="#d6d6d6" stroke-width="2.3" stroke-linecap="round" filter="url(#irr2)" opacity="0.95"/>
<ellipse cx="141.27" cy="244.50" rx="3.57" ry="3.57" fill="url(#fur)" opacity="0.95" transform="rotate(0 141.27 244.50)" filter="url(#irr2)"/>
<path d="M171.3 250.3 L171.9 255.5" stroke="#bbb" stroke-width="1" filter="url(#b03)"/>
<path d="M132.2 236.2 Q135.2 233.5 138.5 233.0 Q141.9 232.6 145.2 233.6 Q148.6 234.7 151.9 235.6 Q155.3 236.5 158.2 236.4 Q161.2 236.3 164.9 235.5 Q168.7 234.7 172.4 235.1 Q176.1 235.6 179.8 235.3 Q183.6 235.0 187.3 234.8 Q191.0 234.7 194.7 234.0 Q198.4 233.3 201.8 232.9 Q205.1 232.4 207.8 232.8 Q210.4 233.2 212.6 234.5 Q214.8 235.9 216.5 237.5 Q218.1 239.1 218.4 240.6 L218.7 242.1" fill="none" stroke="#b81008" stroke-width="3.4" stroke-linecap="round" filter="url(#irr2)" stroke-dasharray="34 1.5 22 1 50 2"/>
<path d="M218.7 242.1 Q213.3 244.5 210.4 245.2 Q207.4 246.0 204.4 246.0 Q201.4 246.0 198.4 246.7 Q195.5 247.5 192.5 248.2 Q189.5 249.0 186.5 248.6 Q183.6 248.2 179.8 249.0 Q176.1 249.7 172.4 250.5 Q168.7 251.2 164.9 251.9 Q161.2 252.7 157.5 253.8 Q153.8 254.9 150.8 255.4 Q147.8 255.8 145.6 254.2 Q143.4 252.7 141.9 250.8 Q140.4 249.0 138.9 247.1 Q137.4 245.2 135.3 243.1 Q133.2 240.9 132.7 238.5 L132.2 236.2" fill="none" stroke="#b81008" stroke-width="3.4" stroke-linecap="round" filter="url(#irr2)" stroke-dasharray="34 1.5 22 1 50 2"/>
<ellipse cx="207.4" cy="233.5" rx="4.5" ry="2" fill="#ddd" filter="url(#irr2)"/>
<ellipse cx="138.89" cy="243.60" rx="5.66" ry="5.06" fill="url(#hotD)" opacity="1" transform="rotate(0 138.89 243.60)" filter="url(#irr2)"/>
<ellipse cx="134.42" cy="249.56" rx="2.68" ry="4.47" fill="url(#hotD)" opacity="1" transform="rotate(0 134.42 249.56)" filter="url(#irr2)"/>
<ellipse cx="146.33" cy="256.71" rx="3.28" ry="2.68" fill="url(#hotD)" opacity="1" transform="rotate(0 146.33 256.71)" filter="url(#irr2)"/>
<ellipse cx="138.15" cy="234.37" rx="5.36" ry="1.79" fill="url(#hotO)" opacity="1" transform="rotate(0 138.15 234.37)" filter="url(#irr2)"/>
<ellipse cx="159.74" cy="237.05" rx="4.47" ry="1.49" fill="url(#hotO)" opacity="1" transform="rotate(0 159.74 237.05)" filter="url(#irr2)"/>
<ellipse cx="183.26" cy="235.12" rx="5.96" ry="2.53" fill="url(#hotR)" opacity="1" transform="rotate(0 183.26 235.12)" filter="url(#irr2)"/>
<ellipse cx="197.70" cy="233.92" rx="3.87" ry="1.64" fill="url(#hotR)" opacity="1" transform="rotate(0 197.70 233.92)" filter="url(#irr2)"/>
<ellipse cx="216.91" cy="240.63" rx="1.49" ry="2.68" fill="url(#hotR)" opacity="1" transform="rotate(0 216.91 240.63)" filter="url(#irr2)"/>
<ellipse cx="189.52" cy="248.07" rx="5.06" ry="2.08" fill="url(#hotO)" opacity="1" transform="rotate(0 189.52 248.07)" filter="url(#irr2)"/>
<ellipse cx="202.92" cy="245.69" rx="4.47" ry="1.49" fill="url(#hotO)" opacity="1" transform="rotate(0 202.92 245.69)" filter="url(#irr2)"/>
<ellipse cx="157.95" cy="210.25" rx="1.19" ry="0.89" fill="url(#hotD)" opacity="1" transform="rotate(0 157.95 210.25)" filter="url(#irr2)"/>
<ellipse cx="165.69" cy="220.52" rx="1.49" ry="0.74" fill="url(#hotD)" opacity="1" transform="rotate(-25 165.69 220.52)" filter="url(#irr2)"/>
<ellipse cx="176.41" cy="217.70" rx="0.60" ry="0.89" fill="url(#hotD)" opacity="1" transform="rotate(0 176.41 217.70)" filter="url(#irr2)"/>
<ellipse cx="181.33" cy="216.06" rx="0.89" ry="1.34" fill="url(#hotD)" opacity="1" transform="rotate(0 181.33 216.06)" filter="url(#irr2)"/>
<ellipse cx="195.47" cy="216.06" rx="3.28" ry="4.47" fill="url(#hotO)" opacity="1" transform="rotate(20 195.47 216.06)" filter="url(#irr2)"/>
<ellipse cx="209.17" cy="214.57" rx="0.89" ry="2.38" fill="url(#hotD)" opacity="1" transform="rotate(-30 209.17 214.57)" filter="url(#irr2)"/>
<ellipse cx="216.02" cy="213.82" rx="1.04" ry="2.23" fill="url(#hotD)" opacity="1" transform="rotate(20 216.02 213.82)" filter="url(#irr2)"/>
<ellipse cx="191.75" cy="259.39" rx="4.47" ry="2.98" fill="url(#hotD)" opacity="1" transform="rotate(0 191.75 259.39)" filter="url(#irr2)"/>
<ellipse cx="201.72" cy="258.49" rx="1.79" ry="2.38" fill="url(#hotR)" opacity="1" transform="rotate(0 201.72 258.49)" filter="url(#irr2)"/>
<ellipse cx="212.15" cy="256.41" rx="5.66" ry="1.79" fill="url(#hotD)" opacity="1" transform="rotate(-30 212.15 256.41)" filter="url(#irr2)"/>
<path d="M184.5 262.7 V252.2 H220.2 V262.7" fill="none" stroke="#e8e8e8" stroke-width="0.55"/>
<rect x="150.50" y="262.66" width="69.68" height="3.87" fill="#3a3a3a" stroke="#e8e8e8" stroke-width="0.55"/>
<text x="151.70" y="265.98" font-size="3.65" text-anchor="start" font-weight="normal" fill="#fff" opacity="0.999">Primary Tumor excised from Ovaries</text>
</g>
<text x="129.21" y="205.79" font-size="4.7" text-anchor="start" font-weight="normal" fill="#fff" opacity="0.999">Heart</text>
<text x="140.08" y="213.98" font-size="4.7" text-anchor="start" font-weight="normal" fill="#fff" opacity="0.999">Lungs</text>
<text x="157.06" y="206.53" font-size="4.7" text-anchor="start" font-weight="normal" fill="#fff" opacity="0.999">Liver</text>
<text x="171.95" y="211.00" font-size="4.7" text-anchor="start" font-weight="normal" fill="#fff" opacity="0.999">Kidney</text>
<text x="188.77" y="206.53" font-size="4.7" text-anchor="start" font-weight="normal" fill="#fff" opacity="0.999">Spleen</text>
<text x="205.15" y="209.81" font-size="4.7" text-anchor="start" font-weight="normal" fill="#fff" opacity="0.999">Ovaries</text>
<text x="206.94" y="225.89" font-size="4.7" text-anchor="start" font-weight="normal" fill="#fff" opacity="0.999">Uterus</text>
<text x="129.21" y="262.52" font-size="4.7" text-anchor="start" font-weight="normal" fill="#fff" opacity="0.999">GI Tract</text>
<rect x="35.00" y="269.60" width="59.60" height="3.90" fill="url(#rbH)" stroke="none" stroke-width="0.5"/>
<rect x="145.00" y="269.60" width="59.30" height="3.90" fill="url(#hotH)" stroke="none" stroke-width="0.5"/>
<text x="26.50" y="279.48" font-size="5.95" text-anchor="start" font-weight="normal" fill="#000" opacity="0.999">1.67 x 10<tspan dy="-2.14" font-size="3.57">8</tspan></text>
<text x="78.00" y="279.48" font-size="5.95" text-anchor="start" font-weight="normal" fill="#000" opacity="0.999">1.58 x 10<tspan dy="-2.14" font-size="3.57">9</tspan></text>
<text x="136.50" y="279.48" font-size="5.95" text-anchor="start" font-weight="normal" fill="#000" opacity="0.999">5.29 x 10<tspan dy="-2.14" font-size="3.57">7</tspan></text>
<text x="187.50" y="279.48" font-size="5.95" text-anchor="start" font-weight="normal" fill="#000" opacity="0.999">2.82 x 10<tspan dy="-2.14" font-size="3.57">8</tspan></text>
<text x="66.00" y="287.20" font-size="6.0" text-anchor="middle" font-weight="normal" fill="#000" opacity="0.999">Radiance (photons s<tspan dy="-2.16" font-size="3.60">-1</tspan><tspan dy="2.16"> cm</tspan><tspan dy="-2.16" font-size="3.60">-2</tspan><tspan dy="2.16"> sr</tspan><tspan dy="-2.16" font-size="3.60">-1</tspan><tspan dy="2.16">)</tspan></text>
<text x="176.00" y="287.20" font-size="6.0" text-anchor="middle" font-weight="normal" fill="#000" opacity="0.999">Radiance (photons s<tspan dy="-2.16" font-size="3.60">-1</tspan><tspan dy="2.16"> cm</tspan><tspan dy="-2.16" font-size="3.60">-2</tspan><tspan dy="2.16"> sr</tspan><tspan dy="-2.16" font-size="3.60">-1</tspan><tspan dy="2.16">)</tspan></text>
<text x="5.30" y="307.18" font-size="10.5" text-anchor="start" font-weight="bold" fill="#000" opacity="0.999">f.</text>
<text x="13.20" y="347.80" font-size="5.7" text-anchor="middle" font-weight="normal" fill="#000" opacity="0.999" transform="rotate(-90 13.20 345.80)">24 Hours</text>
<clipPath id="cp23"><rect x="19.00" y="306.00" width="94.30" height="75.70"/></clipPath><g clip-path="url(#cp23)">
<rect x="19.00" y="306.00" width="94.30" height="75.70" fill="#151515" stroke="none" stroke-width="0.5"/>
<ellipse cx="104.3" cy="318.4" rx="11.9" ry="10.4" fill="#363636" filter="url(#b2)"/>
<ellipse cx="71.6" cy="309.4" rx="23.8" ry="3.3" fill="#3a3a3a" filter="url(#b2)"/>
<ellipse cx="85.0" cy="340.7" rx="13.4" ry="10.4" fill="#262626" filter="url(#b2)"/>
<ellipse cx="44.8" cy="330.3" rx="22.3" ry="8.9" fill="#242424" filter="url(#b2)"/>
<ellipse cx="64.1" cy="373.5" rx="17.9" ry="6.0" fill="#202020" filter="url(#b2)"/>
<rect x="19.00" y="306.00" width="94.30" height="75.70" fill="#fff" stroke="none" stroke-width="0.5" filter="url(#noise)" opacity="0.2"/>
<ellipse cx="23.19" cy="329.70" rx="2.08" ry="2.68" fill="url(#fur)" opacity="0.9" transform="rotate(20 23.19 329.70)" filter="url(#irr2)"/>
<ellipse cx="47.01" cy="331.78" rx="4.47" ry="5.06" fill="url(#fur)" opacity="0.9" transform="rotate(0 47.01 331.78)" filter="url(#irr2)"/>
<ellipse cx="42.10" cy="329.10" rx="2.38" ry="2.68" fill="url(#fur)" opacity="0.75" transform="rotate(0 42.10 329.10)" filter="url(#irr2)"/>
<ellipse cx="32.87" cy="329.99" rx="1.79" ry="1.49" fill="url(#fur)" opacity="0.5" transform="rotate(0 32.87 329.99)" filter="url(#irr2)"/>
<ellipse cx="60.56" cy="331.04" rx="1.04" ry="4.47" fill="url(#fur)" opacity="0.5" transform="rotate(0 60.56 331.04)" filter="url(#irr2)"/>
<ellipse cx="77.54" cy="332.52" rx="2.98" ry="2.68" fill="url(#fur)" opacity="0.8" transform="rotate(0 77.54 332.52)" filter="url(#irr2)"/>
<ellipse cx="89.45" cy="332.52" rx="1.19" ry="1.19" fill="url(#fur)" opacity="0.45" transform="rotate(0 89.45 332.52)" filter="url(#irr2)"/>
<path d="M21.0 344.1 Q41.8 343.8 62.6 345.5" stroke="#8c8c8c" stroke-width="2.3" fill="none" filter="url(#b06)"/>
<path d="M26.9 353.4 L31.4 348.9 L40.3 349.3 L47.0 351.9 L52.2 349.9 L58.9 352.6 L60.9 357.8 L58.2 361.6 L53.0 362.3 L52.2 367.5 L47.0 371.7 L38.8 372.3 L32.1 369.0 L29.1 363.0 L26.2 359.3 Z" fill="#c4c4c4" stroke="#c4c4c4" stroke-width="1.2" stroke-linejoin="round" filter="url(#irr2)"/>
<path d="M29.3 354.3 L33.1 350.6 L40.8 351.0 L46.5 353.1 L51.0 351.5 L56.8 353.7 L58.4 358.1 L56.1 361.2 L51.7 361.8 L51.0 366.2 L46.5 369.7 L39.5 370.2 L33.7 367.5 L31.2 362.5 L28.6 359.3 Z" fill="#1c34ea" filter="url(#irr2)"/>
<ellipse cx="76.05" cy="346.37" rx="3.57" ry="2.98" fill="url(#fur)" opacity="0.95" transform="rotate(0 76.05 346.37)" filter="url(#irr2)"/>
<ellipse cx="92.72" cy="348.46" rx="2.38" ry="2.08" fill="url(#fur)" opacity="0.9" transform="rotate(0 92.72 348.46)" filter="url(#irr2)"/>
<ellipse cx="102.11" cy="339.22" rx="2.08" ry="3.28" fill="url(#fur)" opacity="0.6" transform="rotate(0 102.11 339.22)" filter="url(#irr2)"/>
<ellipse cx="38.82" cy="363.79" rx="6.55" ry="5.66" fill="url(#rbC)" opacity="1" transform="rotate(-20 38.82 363.79)" filter="url(#irr2)"/>
<ellipse cx="47.01" cy="361.56" rx="5.96" ry="5.96" fill="url(#rbGc)" opacity="1" transform="rotate(0 47.01 361.56)" filter="url(#irr2)"/>
<ellipse cx="32.57" cy="354.41" rx="4.47" ry="4.47" fill="url(#rbGc)" opacity="1" transform="rotate(0 32.57 354.41)" filter="url(#irr2)"/>
<ellipse cx="40.61" cy="352.92" rx="4.47" ry="3.57" fill="url(#rbGc)" opacity="1" transform="rotate(0 40.61 352.92)" filter="url(#irr2)"/>
<ellipse cx="48.50" cy="356.35" rx="4.17" ry="4.47" fill="url(#rbGc)" opacity="1" transform="rotate(0 48.50 356.35)" filter="url(#irr2)"/>
<ellipse cx="49.25" cy="364.54" rx="3.87" ry="4.47" fill="url(#rbB)" opacity="1" transform="rotate(0 49.25 364.54)" filter="url(#irr2)"/>
<ellipse cx="58.18" cy="357.84" rx="1.94" ry="2.08" fill="url(#rbB)" opacity="1" transform="rotate(0 58.18 357.84)" filter="url(#irr2)"/>
<ellipse cx="52.97" cy="352.63" rx="2.38" ry="2.08" fill="url(#rbB)" opacity="1" transform="rotate(0 52.97 352.63)" filter="url(#irr2)"/>
<ellipse cx="38.1" cy="357.8" rx="2.2" ry="2.6" fill="#181818" filter="url(#irr2)"/>
<ellipse cx="76.05" cy="349.35" rx="3.57" ry="2.38" fill="url(#rbB)" opacity="1" transform="rotate(0 76.05 349.35)" filter="url(#irr2)"/>
<ellipse cx="92.43" cy="349.95" rx="2.08" ry="1.79" fill="url(#rbB)" opacity="1" transform="rotate(0 92.43 349.95)" filter="url(#irr2)"/>
<ellipse cx="99.28" cy="337.14" rx="1.64" ry="3.57" fill="url(#rbB)" opacity="1" transform="rotate(-15 99.28 337.14)" filter="url(#irr2)"/>
<ellipse cx="105.23" cy="336.54" rx="1.64" ry="3.28" fill="url(#rbB)" opacity="1" transform="rotate(15 105.23 336.54)" filter="url(#irr2)"/>
<ellipse cx="102.25" cy="341.01" rx="3.28" ry="1.79" fill="url(#rbB)" opacity="1" transform="rotate(0 102.25 341.01)" filter="url(#irr2)"/>
<ellipse cx="106.72" cy="351.43" rx="4.47" ry="4.47" fill="url(#rbG)" opacity="1" transform="rotate(0 106.72 351.43)" filter="url(#irr2)"/>
<path d="M83.5 382.4 L83.5 364.5 L101.4 364.5 L101.4 345.5 L114.0 345.5" fill="none" stroke="#f2f2f2" stroke-width="0.75"/>
<text x="86.47" y="370.11" font-size="4.0" text-anchor="start" font-weight="normal" fill="#fff" opacity="0.999">Primary Tumor</text>
<text x="86.47" y="374.57" font-size="4.0" text-anchor="start" font-weight="normal" fill="#fff" opacity="0.999">excised from</text>
<text x="86.47" y="379.04" font-size="4.0" text-anchor="start" font-weight="normal" fill="#fff" opacity="0.999">Ovaries</text>
</g>
<text x="20.21" y="322.67" font-size="4.6" text-anchor="start" font-weight="normal" fill="#fff" opacity="0.999">Muscle</text>
<text x="37.33" y="323.71" font-size="4.6" text-anchor="start" font-weight="normal" fill="#fff" opacity="0.999">Lungs</text>
<text x="52.22" y="319.99" font-size="4.6" text-anchor="start" font-weight="normal" fill="#fff" opacity="0.999">Spleen</text>
<text x="28.10" y="331.90" font-size="4.6" text-anchor="start" font-weight="normal" fill="#fff" opacity="0.999">Heart</text>
<text x="72.33" y="326.69" font-size="4.6" text-anchor="start" font-weight="normal" fill="#fff" opacity="0.999">Liver</text>
<text x="83.20" y="331.16" font-size="4.6" text-anchor="start" font-weight="normal" fill="#fff" opacity="0.999">Kidney</text>
<text x="96.89" y="332.65" font-size="4.6" text-anchor="start" font-weight="normal" fill="#fff" opacity="0.999">Ovaries</text>
<text x="20.21" y="342.32" font-size="4.6" text-anchor="start" font-weight="normal" fill="#fff" opacity="0.999">healthy colon</text>
<text x="67.11" y="359.89" font-size="4.6" text-anchor="start" font-weight="normal" fill="#fff" opacity="0.999">Excised tumors</text>
<text x="20.96" y="378.51" font-size="4.6" text-anchor="start" font-weight="normal" fill="#fff" opacity="0.999">GI Tract</text>
<clipPath id="cp24"><rect x="128.80" y="306.00" width="93.20" height="74.60"/></clipPath><g clip-path="url(#cp24)">
<rect x="128.80" y="306.00" width="93.20" height="74.60" fill="#151515" stroke="none" stroke-width="0.5"/>
<ellipse cx="213.3" cy="318.4" rx="11.9" ry="10.4" fill="#363636" filter="url(#b2)"/>
<ellipse cx="180.6" cy="309.4" rx="23.8" ry="3.3" fill="#3a3a3a" filter="url(#b2)"/>
<ellipse cx="194.0" cy="340.7" rx="13.4" ry="10.4" fill="#262626" filter="url(#b2)"/>
<ellipse cx="153.8" cy="330.3" rx="22.3" ry="8.9" fill="#242424" filter="url(#b2)"/>
<ellipse cx="173.1" cy="373.5" rx="17.9" ry="6.0" fill="#202020" filter="url(#b2)"/>
<rect x="128.80" y="306.00" width="93.20" height="74.60" fill="#fff" stroke="none" stroke-width="0.5" filter="url(#noise)" opacity="0.2"/>
<ellipse cx="132.19" cy="329.70" rx="2.08" ry="2.68" fill="url(#fur)" opacity="0.9" transform="rotate(20 132.19 329.70)" filter="url(#irr2)"/>
<ellipse cx="156.01" cy="331.78" rx="4.47" ry="5.06" fill="url(#fur)" opacity="0.9" transform="rotate(0 156.01 331.78)" filter="url(#irr2)"/>
<ellipse cx="151.10" cy="329.10" rx="2.38" ry="2.68" fill="url(#fur)" opacity="0.75" transform="rotate(0 151.10 329.10)" filter="url(#irr2)"/>
<ellipse cx="141.87" cy="329.99" rx="1.79" ry="1.49" fill="url(#fur)" opacity="0.5" transform="rotate(0 141.87 329.99)" filter="url(#irr2)"/>
<ellipse cx="169.56" cy="331.04" rx="1.04" ry="4.47" fill="url(#fur)" opacity="0.5" transform="rotate(0 169.56 331.04)" filter="url(#irr2)"/>
<ellipse cx="186.54" cy="332.52" rx="2.98" ry="2.68" fill="url(#fur)" opacity="0.8" transform="rotate(0 186.54 332.52)" filter="url(#irr2)"/>
<ellipse cx="198.45" cy="332.52" rx="1.19" ry="1.19" fill="url(#fur)" opacity="0.45" transform="rotate(0 198.45 332.52)" filter="url(#irr2)"/>
<path d="M130.0 344.1 Q150.8 343.8 171.6 345.5" stroke="#8c8c8c" stroke-width="2.3" fill="none" filter="url(#b06)"/>
<path d="M135.9 353.4 L140.4 348.9 L149.3 349.3 L156.0 351.9 L161.2 349.9 L167.9 352.6 L169.9 357.8 L167.2 361.6 L162.0 362.3 L161.2 367.5 L156.0 371.7 L147.8 372.3 L141.1 369.0 L138.1 363.0 L135.2 359.3 Z" fill="#c4c4c4" stroke="#c4c4c4" stroke-width="1.2" stroke-linejoin="round" filter="url(#irr2)"/>
<path d="M138.3 354.3 L142.1 350.6 L149.8 351.0 L155.5 353.1 L160.0 351.5 L165.8 353.7 L167.4 358.1 L165.1 361.2 L160.7 361.8 L160.0 366.2 L155.5 369.7 L148.5 370.2 L142.7 367.5 L140.2 362.5 L137.6 359.3 Z" fill="#c41008" filter="url(#irr2)"/>
<ellipse cx="185.05" cy="346.37" rx="3.57" ry="2.98" fill="url(#fur)" opacity="0.95" transform="rotate(0 185.05 346.37)" filter="url(#irr2)"/>
<ellipse cx="201.72" cy="348.46" rx="2.38" ry="2.08" fill="url(#fur)" opacity="0.9" transform="rotate(0 201.72 348.46)" filter="url(#irr2)"/>
<ellipse cx="211.11" cy="339.22" rx="2.08" ry="3.28" fill="url(#fur)" opacity="0.6" transform="rotate(0 211.11 339.22)" filter="url(#irr2)"/>
<ellipse cx="146.33" cy="363.79" rx="7.44" ry="7.15" fill="url(#hotO)" opacity="1" transform="rotate(0 146.33 363.79)" filter="url(#irr2)"/>
<ellipse cx="146.33" cy="366.32" rx="5.66" ry="3.87" fill="url(#hotC)" opacity="1" transform="rotate(0 146.33 366.32)" filter="url(#irr2)"/>
<ellipse cx="160.48" cy="359.33" rx="5.36" ry="4.47" fill="url(#hotO)" opacity="1" transform="rotate(30 160.48 359.33)" filter="url(#irr2)"/>
<ellipse cx="147.4" cy="357.5" rx="2.4" ry="2.8" fill="#1a0808" filter="url(#irr2)"/>
<ellipse cx="154.5" cy="360.8" rx="1.3" ry="3.4" fill="#2a1010" filter="url(#irr2)"/>
<ellipse cx="185.35" cy="349.35" rx="2.98" ry="1.49" fill="url(#hotD)" opacity="1" transform="rotate(0 185.35 349.35)" filter="url(#irr2)"/>
<ellipse cx="201.43" cy="349.65" rx="1.49" ry="1.34" fill="url(#hotD)" opacity="1" transform="rotate(0 201.43 349.65)" filter="url(#irr2)"/>
<ellipse cx="169.56" cy="329.55" rx="0.74" ry="2.08" fill="url(#hotD)" opacity="1" transform="rotate(0 169.56 329.55)" filter="url(#irr2)"/>
<ellipse cx="207.38" cy="336.25" rx="0.89" ry="2.38" fill="url(#hotD)" opacity="1" transform="rotate(-10 207.38 336.25)" filter="url(#irr2)"/>
<ellipse cx="214.23" cy="335.95" rx="0.89" ry="2.23" fill="url(#hotD)" opacity="1" transform="rotate(10 214.23 335.95)" filter="url(#irr2)"/>
<ellipse cx="216.02" cy="351.43" rx="3.87" ry="3.87" fill="url(#hotD)" opacity="1" transform="rotate(0 216.02 351.43)" filter="url(#irr2)"/>
<path d="M192.8 382.4 L192.8 365.3 L210.7 365.3 L210.7 346.2 L223.0 346.2" fill="none" stroke="#f2f2f2" stroke-width="0.75"/>
<text x="195.47" y="371.15" font-size="4.0" text-anchor="start" font-weight="normal" fill="#fff" opacity="0.999">Primary Tumor</text>
<text x="195.47" y="375.62" font-size="4.0" text-anchor="start" font-weight="normal" fill="#fff" opacity="0.999">excised from</text>
<text x="195.47" y="380.08" font-size="4.0" text-anchor="start" font-weight="normal" fill="#fff" opacity="0.999">Ovaries</text>
</g>
<text x="129.21" y="322.67" font-size="4.6" text-anchor="start" font-weight="normal" fill="#fff" opacity="0.999">Muscle</text>
<text x="146.33" y="323.71" font-size="4.6" text-anchor="start" font-weight="normal" fill="#fff" opacity="0.999">Lungs</text>
<text x="161.22" y="319.99" font-size="4.6" text-anchor="start" font-weight="normal" fill="#fff" opacity="0.999">Spleen</text>
<text x="137.10" y="331.90" font-size="4.6" text-anchor="start" font-weight="normal" fill="#fff" opacity="0.999">Heart</text>
<text x="181.33" y="326.69" font-size="4.6" text-anchor="start" font-weight="normal" fill="#fff" opacity="0.999">Liver</text>
<text x="192.20" y="331.16" font-size="4.6" text-anchor="start" font-weight="normal" fill="#fff" opacity="0.999">Kidney</text>
<text x="205.89" y="332.65" font-size="4.6" text-anchor="start" font-weight="normal" fill="#fff" opacity="0.999">Ovaries</text>
<text x="129.21" y="342.32" font-size="4.6" text-anchor="start" font-weight="normal" fill="#fff" opacity="0.999">healthy colon</text>
<text x="152.29" y="380.29" font-size="4.6" text-anchor="start" font-weight="normal" fill="#fff" opacity="0.999">GI Tract</text>
<rect x="35.00" y="385.30" width="59.60" height="3.90" fill="url(#rbH)" stroke="none" stroke-width="0.5"/>
<rect x="145.00" y="385.30" width="59.30" height="3.90" fill="url(#hotH)" stroke="none" stroke-width="0.5"/>
<text x="26.50" y="395.08" font-size="5.95" text-anchor="start" font-weight="normal" fill="#000" opacity="0.999">3.14 x 10<tspan dy="-2.14" font-size="3.57">8</tspan></text>
<text x="78.00" y="395.08" font-size="5.95" text-anchor="start" font-weight="normal" fill="#000" opacity="0.999">4.88 x 10<tspan dy="-2.14" font-size="3.57">9</tspan></text>
<text x="136.50" y="395.08" font-size="5.95" text-anchor="start" font-weight="normal" fill="#000" opacity="0.999">3.30 x 10<tspan dy="-2.14" font-size="3.57">8</tspan></text>
<text x="187.50" y="395.08" font-size="5.95" text-anchor="start" font-weight="normal" fill="#000" opacity="0.999">1.26 x 10<tspan dy="-2.14" font-size="3.57">9</tspan></text>
<text x="66.00" y="402.80" font-size="6.0" text-anchor="middle" font-weight="normal" fill="#000" opacity="0.999">Radiance (photons s<tspan dy="-2.16" font-size="3.60">-1</tspan><tspan dy="2.16"> cm</tspan><tspan dy="-2.16" font-size="3.60">-2</tspan><tspan dy="2.16"> sr</tspan><tspan dy="-2.16" font-size="3.60">-1</tspan><tspan dy="2.16">)</tspan></text>
<text x="176.00" y="402.80" font-size="6.0" text-anchor="middle" font-weight="normal" fill="#000" opacity="0.999">Radiance (photons s<tspan dy="-2.16" font-size="3.60">-1</tspan><tspan dy="2.16"> cm</tspan><tspan dy="-2.16" font-size="3.60">-2</tspan><tspan dy="2.16"> sr</tspan><tspan dy="-2.16" font-size="3.60">-1</tspan><tspan dy="2.16">)</tspan></text>
<text x="4.20" y="432.18" font-size="10.5" text-anchor="start" font-weight="bold" fill="#000" opacity="0.999">g.</text>
<text x="66.60" y="439.20" font-size="8" text-anchor="middle" font-weight="normal" fill="#000" opacity="0.999">Metastasis</text>
<text x="8.60" y="488.88" font-size="6.8" text-anchor="middle" font-weight="normal" fill="#000" opacity="0.999" transform="rotate(-90 8.60 486.50)">Fold change total flux</text>
<line x1="26.30" y1="445.00" x2="26.30" y2="548.20" stroke="#000" stroke-width="0.7"/>
<line x1="26.00" y1="547.90" x2="95.20" y2="547.90" stroke="#000" stroke-width="0.7"/>
<line x1="24.80" y1="473.60" x2="26.30" y2="473.60" stroke="#000" stroke-width="0.6"/>
<text x="23.80" y="475.91" font-size="6.6" text-anchor="end" font-weight="normal" fill="#000" opacity="0.999">90</text>
<line x1="24.80" y1="497.00" x2="26.30" y2="497.00" stroke="#000" stroke-width="0.6"/>
<text x="23.80" y="499.31" font-size="6.6" text-anchor="end" font-weight="normal" fill="#000" opacity="0.999">60</text>
<line x1="24.80" y1="520.20" x2="26.30" y2="520.20" stroke="#000" stroke-width="0.6"/>
<text x="23.80" y="522.51" font-size="6.6" text-anchor="end" font-weight="normal" fill="#000" opacity="0.999">30</text>
<line x1="24.80" y1="543.60" x2="26.30" y2="543.60" stroke="#000" stroke-width="0.6"/>
<text x="23.80" y="545.91" font-size="6.6" text-anchor="end" font-weight="normal" fill="#000" opacity="0.999">0</text>
<rect x="28.00" y="528.70" width="4.30" height="15.40" fill="#fff" stroke="#111" stroke-width="0.55"/>
<rect x="33.70" y="523.60" width="4.30" height="20.50" fill="#c6dbef" stroke="#111" stroke-width="0.55"/>
<rect x="39.40" y="503.00" width="4.30" height="41.10" fill="#6baed6" stroke="#111" stroke-width="0.55"/>
<rect x="44.90" y="503.60" width="4.50" height="40.50" fill="#2171b5" stroke="#111" stroke-width="0.55"/>
<line x1="30.20" y1="525.50" x2="30.20" y2="532.00" stroke="#000" stroke-width="0.55"/>
<line x1="29.00" y1="525.50" x2="31.40" y2="525.50" stroke="#000" stroke-width="0.55"/>
<line x1="29.00" y1="532.00" x2="31.40" y2="532.00" stroke="#000" stroke-width="0.55"/>
<line x1="35.90" y1="520.50" x2="35.90" y2="526.50" stroke="#000" stroke-width="0.55"/>
<line x1="34.70" y1="520.50" x2="37.10" y2="520.50" stroke="#000" stroke-width="0.55"/>
<line x1="34.70" y1="526.50" x2="37.10" y2="526.50" stroke="#000" stroke-width="0.55"/>
<line x1="41.50" y1="492.50" x2="41.50" y2="513.50" stroke="#000" stroke-width="0.55"/>
<line x1="40.30" y1="492.50" x2="42.70" y2="492.50" stroke="#000" stroke-width="0.55"/>
<line x1="40.30" y1="513.50" x2="42.70" y2="513.50" stroke="#000" stroke-width="0.55"/>
<line x1="47.20" y1="481.50" x2="47.20" y2="525.00" stroke="#000" stroke-width="0.55"/>
<line x1="46.00" y1="481.50" x2="48.40" y2="481.50" stroke="#000" stroke-width="0.55"/>
<line x1="46.00" y1="525.00" x2="48.40" y2="525.00" stroke="#000" stroke-width="0.55"/>
<circle cx="30.00" cy="518.60" r="1.05" fill="#000"/>
<circle cx="30.60" cy="529.50" r="1.05" fill="#000"/>
<circle cx="29.80" cy="534.00" r="1.05" fill="#000"/>
<circle cx="30.30" cy="539.50" r="1.05" fill="#000"/>
<circle cx="36.00" cy="518.50" r="1.05" fill="#000"/>
<circle cx="36.50" cy="522.00" r="1.05" fill="#000"/>
<circle cx="35.60" cy="527.00" r="1.05" fill="#000"/>
<circle cx="36.20" cy="531.00" r="1.05" fill="#000"/>
<circle cx="41.70" cy="458.60" r="1.05" fill="#000"/>
<circle cx="41.50" cy="471.80" r="1.05" fill="#000"/>
<circle cx="41.60" cy="480.30" r="1.05" fill="#000"/>
<circle cx="41.80" cy="516.80" r="1.05" fill="#000"/>
<circle cx="41.40" cy="528.40" r="1.05" fill="#000"/>
<circle cx="47.40" cy="481.50" r="1.05" fill="#000"/>
<circle cx="47.00" cy="504.00" r="1.05" fill="#000"/>
<circle cx="46.80" cy="524.50" r="1.05" fill="#000"/>
<rect x="54.90" y="541.30" width="4.50" height="2.80" fill="#a1d99b" stroke="#111" stroke-width="0.5"/>
<rect x="60.60" y="542.00" width="4.50" height="2.10" fill="#e5f5e0" stroke="#111" stroke-width="0.5"/>
<circle cx="56.50" cy="541.00" r="0.95" fill="#000"/>
<circle cx="57.60" cy="541.60" r="0.95" fill="#000"/>
<circle cx="57.00" cy="539.00" r="0.95" fill="#000"/>
<circle cx="62.00" cy="542.00" r="0.95" fill="#000"/>
<circle cx="63.20" cy="542.00" r="0.95" fill="#000"/>
<circle cx="64.00" cy="542.00" r="0.95" fill="#000"/>
<rect x="53.70" y="527.30" width="12.60" height="17.70" fill="none" stroke="#222" stroke-width="0.65" stroke-dasharray="2 1.5"/>
<text x="37.10" y="448.52" font-size="15" text-anchor="middle" fill="#111">*</text>
<line x1="28.60" y1="448.70" x2="47.70" y2="448.70" stroke="#000" stroke-width="0.6"/>
<line x1="28.60" y1="451.00" x2="42.00" y2="451.00" stroke="#000" stroke-width="0.6"/>
<line x1="28.60" y1="453.30" x2="35.70" y2="453.30" stroke="#000" stroke-width="0.6"/>
<rect x="56.30" y="445.90" width="10.00" height="50.50" fill="none" stroke="#222" stroke-width="0.65" stroke-dasharray="2 1.5"/>
<rect x="67.80" y="447.10" width="4.40" height="4.40" fill="#f4f6fc" stroke="#222" stroke-width="0.55"/>
<text x="74.30" y="451.50" font-size="6.3" text-anchor="start" font-weight="normal" fill="#000" opacity="0.999">4 hrs</text>
<rect x="67.80" y="452.80" width="4.40" height="4.40" fill="#c6dbef" stroke="#222" stroke-width="0.55"/>
<text x="74.30" y="457.20" font-size="6.3" text-anchor="start" font-weight="normal" fill="#000" opacity="0.999">24 hrs</text>
<rect x="67.80" y="458.50" width="4.40" height="4.40" fill="#6baed6" stroke="#222" stroke-width="0.55"/>
<text x="74.30" y="462.90" font-size="6.3" text-anchor="start" font-weight="normal" fill="#000" opacity="0.999">48 hrs</text>
<rect x="67.80" y="464.20" width="4.40" height="4.40" fill="#2171b5" stroke="#222" stroke-width="0.55"/>
<text x="74.30" y="468.60" font-size="6.3" text-anchor="start" font-weight="normal" fill="#000" opacity="0.999">72 hrs</text>
<rect x="59.10" y="464.30" width="4.30" height="4.30" fill="#a1d99b" stroke="#222" stroke-width="0.55"/>
<rect x="59.10" y="471.40" width="4.30" height="4.30" fill="#e5f5e0" stroke="#222" stroke-width="0.55"/>
<text x="61.20" y="486.82" font-size="5.2" text-anchor="middle" font-weight="normal" fill="#000" opacity="0.999" transform="rotate(-90 61.20 485.00)">control</text>
<text x="70.20" y="487.82" font-size="5.2" text-anchor="middle" font-weight="normal" fill="#000" opacity="0.999" transform="rotate(-90 70.20 486.00)">SANGs</text>
<text x="125.00" y="435.18" font-size="10.5" text-anchor="start" font-weight="bold" fill="#000" opacity="0.999">h.</text>
<text x="200.70" y="439.20" font-size="8" text-anchor="middle" font-weight="normal" fill="#000" opacity="0.999">Colocalization</text>
<text x="126.60" y="498.38" font-size="6.8" text-anchor="middle" font-weight="normal" fill="#000" opacity="0.999" transform="rotate(-90 126.60 496.00)">SANGs Fluorescence</text>
<text x="203.00" y="564.38" font-size="6.8" text-anchor="middle" font-weight="normal" fill="#000" opacity="0.999">Tumor Bioluminescence</text>
<clipPath id="cp25"><rect x="150.20" y="450.70" width="97.80" height="98.90"/></clipPath><g clip-path="url(#cp25)">
<path d="M153.8 531.0 L192.9 491.2 L209.8 474.1 L214.5 476.4 L214.1 487.6 L208.1 501.8 L201.4 512.4 L194.0 522.5 L187.6 529.5 L180.2 538.0 L176.4 542.9 L171.7 544.6 L153.8 544.3 Z" fill="#6fb0db" filter="url(#irr2)"/>
<path d="M153.8 531.0 L153.5 495.4 L158.0 493.3 L163.3 494.0 L168.6 496.3 L173.4 500.5 L179.2 499.3 L183.4 496.7 L189.1 493.3 L194.0 490.2 Z" fill="#2b76bb" filter="url(#irr2)"/>
<circle cx="186.4" cy="491.6" r="0.55" fill="#3a82c4"/>
<circle cx="219.4" cy="462.1" r="0.55" fill="#3a82c4"/>
<circle cx="190.3" cy="487.1" r="0.55" fill="#3a82c4"/>
<circle cx="167.7" cy="511.6" r="0.55" fill="#3a82c4"/>
<circle cx="198.8" cy="479.0" r="0.55" fill="#3a82c4"/>
<circle cx="161.4" cy="521.1" r="0.55" fill="#3a82c4"/>
<circle cx="161.1" cy="510.2" r="0.55" fill="#3a82c4"/>
<circle cx="203.2" cy="480.2" r="0.55" fill="#3a82c4"/>
<circle cx="223.4" cy="451.0" r="0.55" fill="#3a82c4"/>
<circle cx="200.5" cy="479.7" r="0.55" fill="#3a82c4"/>
<circle cx="165.8" cy="518.1" r="0.55" fill="#3a82c4"/>
<circle cx="191.7" cy="491.8" r="0.55" fill="#3a82c4"/>
<circle cx="168.1" cy="514.9" r="0.55" fill="#3a82c4"/>
<circle cx="156.9" cy="523.4" r="0.55" fill="#3a82c4"/>
<circle cx="185.6" cy="484.3" r="0.55" fill="#3a82c4"/>
<circle cx="191.1" cy="485.0" r="0.55" fill="#3a82c4"/>
<circle cx="189.7" cy="485.8" r="0.55" fill="#3a82c4"/>
<circle cx="186.8" cy="495.7" r="0.55" fill="#3a82c4"/>
<circle cx="224.5" cy="449.2" r="0.55" fill="#3a82c4"/>
<circle cx="213.5" cy="465.4" r="0.55" fill="#3a82c4"/>
<circle cx="176.8" cy="506.2" r="0.55" fill="#3a82c4"/>
<circle cx="175.0" cy="508.7" r="0.55" fill="#3a82c4"/>
<circle cx="208.3" cy="473.8" r="0.55" fill="#3a82c4"/>
<circle cx="213.9" cy="468.2" r="0.55" fill="#3a82c4"/>
<circle cx="221.7" cy="454.9" r="0.55" fill="#3a82c4"/>
<circle cx="154.9" cy="528.6" r="0.55" fill="#3a82c4"/>
<circle cx="218.4" cy="463.1" r="0.55" fill="#3a82c4"/>
<circle cx="223.3" cy="458.7" r="0.55" fill="#3a82c4"/>
<circle cx="159.9" cy="516.8" r="0.55" fill="#3a82c4"/>
<circle cx="209.2" cy="473.6" r="0.55" fill="#3a82c4"/>
<circle cx="160.9" cy="521.3" r="0.55" fill="#3a82c4"/>
<circle cx="222.1" cy="455.9" r="0.55" fill="#3a82c4"/>
<circle cx="163.1" cy="520.0" r="0.55" fill="#3a82c4"/>
<circle cx="161.9" cy="522.1" r="0.55" fill="#3a82c4"/>
<circle cx="210.5" cy="472.7" r="0.55" fill="#3a82c4"/>
<circle cx="193.9" cy="486.3" r="0.55" fill="#3a82c4"/>
<circle cx="168.1" cy="505.6" r="0.55" fill="#3a82c4"/>
<circle cx="164.0" cy="512.4" r="0.55" fill="#3a82c4"/>
<circle cx="163.0" cy="518.0" r="0.55" fill="#3a82c4"/>
<circle cx="169.7" cy="513.1" r="0.55" fill="#3a82c4"/>
<circle cx="222.6" cy="454.7" r="0.55" fill="#3a82c4"/>
<circle cx="176.1" cy="492.4" r="0.55" fill="#3a82c4"/>
<circle cx="169.5" cy="511.7" r="0.55" fill="#3a82c4"/>
<circle cx="214.5" cy="465.2" r="0.55" fill="#3a82c4"/>
<circle cx="161.8" cy="502.5" r="0.55" fill="#3a82c4"/>
<circle cx="169.7" cy="513.1" r="0.55" fill="#3a82c4"/>
<circle cx="208.8" cy="473.8" r="0.55" fill="#3a82c4"/>
<circle cx="175.5" cy="508.2" r="0.55" fill="#3a82c4"/>
<circle cx="161.1" cy="516.7" r="0.55" fill="#3a82c4"/>
<circle cx="171.8" cy="505.5" r="0.55" fill="#3a82c4"/>
<circle cx="180.8" cy="499.4" r="0.55" fill="#3a82c4"/>
<circle cx="221.8" cy="459.5" r="0.55" fill="#3a82c4"/>
<circle cx="194.9" cy="473.9" r="0.55" fill="#3a82c4"/>
<circle cx="167.6" cy="516.0" r="0.55" fill="#3a82c4"/>
<circle cx="218.3" cy="458.9" r="0.55" fill="#3a82c4"/>
<circle cx="172.2" cy="511.1" r="0.55" fill="#3a82c4"/>
<circle cx="206.5" cy="468.6" r="0.55" fill="#3a82c4"/>
<circle cx="168.5" cy="497.4" r="0.55" fill="#3a82c4"/>
<circle cx="216.4" cy="463.7" r="0.55" fill="#3a82c4"/>
<circle cx="184.2" cy="499.3" r="0.55" fill="#3a82c4"/>
<circle cx="157.5" cy="508.0" r="0.55" fill="#3a82c4"/>
<circle cx="171.5" cy="503.1" r="0.55" fill="#3a82c4"/>
<circle cx="172.8" cy="497.9" r="0.55" fill="#3a82c4"/>
<circle cx="196.5" cy="486.4" r="0.55" fill="#3a82c4"/>
<circle cx="167.1" cy="507.1" r="0.55" fill="#3a82c4"/>
<circle cx="159.6" cy="523.6" r="0.55" fill="#3a82c4"/>
<circle cx="193.9" cy="475.5" r="0.55" fill="#3a82c4"/>
<circle cx="197.7" cy="485.2" r="0.55" fill="#3a82c4"/>
<circle cx="218.9" cy="464.1" r="0.55" fill="#3a82c4"/>
<circle cx="156.0" cy="527.0" r="0.55" fill="#3a82c4"/>
<circle cx="185.9" cy="497.7" r="0.55" fill="#3a82c4"/>
<circle cx="167.1" cy="514.5" r="0.55" fill="#3a82c4"/>
<circle cx="194.8" cy="488.5" r="0.55" fill="#3a82c4"/>
<circle cx="180.1" cy="488.0" r="0.55" fill="#3a82c4"/>
<circle cx="223.3" cy="456.1" r="0.55" fill="#3a82c4"/>
<circle cx="203.1" cy="477.4" r="0.55" fill="#3a82c4"/>
<circle cx="164.6" cy="519.3" r="0.55" fill="#3a82c4"/>
<circle cx="156.1" cy="511.6" r="0.55" fill="#3a82c4"/>
<circle cx="203.8" cy="470.9" r="0.55" fill="#3a82c4"/>
<circle cx="156.3" cy="520.3" r="0.55" fill="#3a82c4"/>
<circle cx="188.5" cy="485.1" r="0.55" fill="#3a82c4"/>
<circle cx="177.1" cy="486.6" r="0.55" fill="#3a82c4"/>
<circle cx="160.1" cy="518.6" r="0.55" fill="#3a82c4"/>
<circle cx="206.3" cy="469.6" r="0.55" fill="#3a82c4"/>
<circle cx="206.3" cy="472.7" r="0.55" fill="#3a82c4"/>
<circle cx="210.2" cy="465.3" r="0.55" fill="#3a82c4"/>
<circle cx="179.4" cy="495.6" r="0.55" fill="#3a82c4"/>
<circle cx="217.7" cy="458.5" r="0.55" fill="#3a82c4"/>
<circle cx="183.9" cy="487.8" r="0.55" fill="#3a82c4"/>
<circle cx="215.1" cy="465.4" r="0.55" fill="#3a82c4"/>
<circle cx="198.5" cy="483.9" r="0.55" fill="#3a82c4"/>
<circle cx="195.5" cy="484.8" r="0.55" fill="#3a82c4"/>
<circle cx="160.4" cy="516.1" r="0.55" fill="#3a82c4"/>
<circle cx="224.2" cy="451.8" r="0.55" fill="#3a82c4"/>
<circle cx="205.7" cy="476.6" r="0.55" fill="#3a82c4"/>
<circle cx="206.2" cy="474.4" r="0.55" fill="#3a82c4"/>
<circle cx="185.6" cy="484.4" r="0.55" fill="#3a82c4"/>
<circle cx="160.7" cy="512.6" r="0.55" fill="#3a82c4"/>
<circle cx="156.9" cy="520.6" r="0.55" fill="#3a82c4"/>
<circle cx="188.4" cy="494.4" r="0.55" fill="#3a82c4"/>
<circle cx="203.6" cy="477.8" r="0.55" fill="#3a82c4"/>
<circle cx="197.7" cy="477.8" r="0.55" fill="#3a82c4"/>
<circle cx="172.7" cy="511.1" r="0.55" fill="#3a82c4"/>
<circle cx="175.8" cy="499.4" r="0.55" fill="#3a82c4"/>
<circle cx="169.0" cy="514.5" r="0.55" fill="#3a82c4"/>
<circle cx="218.1" cy="461.4" r="0.55" fill="#3a82c4"/>
<circle cx="185.7" cy="482.4" r="0.55" fill="#3a82c4"/>
<circle cx="177.7" cy="497.9" r="0.55" fill="#3a82c4"/>
<circle cx="168.7" cy="512.1" r="0.55" fill="#3a82c4"/>
<circle cx="211.1" cy="464.4" r="0.55" fill="#3a82c4"/>
<circle cx="216.3" cy="465.8" r="0.55" fill="#3a82c4"/>
<circle cx="195.5" cy="487.2" r="0.55" fill="#3a82c4"/>
<circle cx="164.3" cy="515.3" r="0.55" fill="#3a82c4"/>
<circle cx="213.3" cy="463.4" r="0.55" fill="#3a82c4"/>
<circle cx="204.5" cy="470.4" r="0.55" fill="#3a82c4"/>
<circle cx="174.1" cy="509.3" r="0.55" fill="#3a82c4"/>
<circle cx="186.3" cy="496.2" r="0.55" fill="#3a82c4"/>
<circle cx="169.8" cy="511.2" r="0.55" fill="#3a82c4"/>
<circle cx="198.5" cy="483.0" r="0.55" fill="#3a82c4"/>
<circle cx="176.8" cy="493.3" r="0.55" fill="#3a82c4"/>
<circle cx="223.4" cy="458.1" r="0.55" fill="#3a82c4"/>
<circle cx="160.0" cy="524.0" r="0.55" fill="#3a82c4"/>
<circle cx="215.8" cy="467.5" r="0.55" fill="#3a82c4"/>
<circle cx="204.3" cy="476.4" r="0.55" fill="#3a82c4"/>
<circle cx="176.4" cy="495.4" r="0.55" fill="#3a82c4"/>
<circle cx="156.1" cy="527.6" r="0.55" fill="#3a82c4"/>
<circle cx="186.6" cy="497.1" r="0.55" fill="#3a82c4"/>
<circle cx="212.8" cy="470.2" r="0.55" fill="#3a82c4"/>
<circle cx="164.7" cy="519.3" r="0.55" fill="#3a82c4"/>
<circle cx="198.8" cy="483.1" r="0.55" fill="#3a82c4"/>
<circle cx="198.8" cy="480.9" r="0.55" fill="#3a82c4"/>
<circle cx="211.2" cy="463.5" r="0.55" fill="#3a82c4"/>
<circle cx="202.6" cy="480.6" r="0.55" fill="#3a82c4"/>
<circle cx="188.0" cy="495.2" r="0.55" fill="#3a82c4"/>
<circle cx="155.6" cy="524.6" r="0.55" fill="#3a82c4"/>
<circle cx="204.7" cy="478.5" r="0.55" fill="#3a82c4"/>
<circle cx="173.8" cy="508.0" r="0.55" fill="#3a82c4"/>
<circle cx="203.5" cy="477.7" r="0.55" fill="#3a82c4"/>
<circle cx="197.7" cy="480.6" r="0.55" fill="#3a82c4"/>
<circle cx="182.3" cy="489.4" r="0.55" fill="#3a82c4"/>
<circle cx="218.1" cy="465.1" r="0.55" fill="#3a82c4"/>
<circle cx="219.9" cy="458.6" r="0.55" fill="#3a82c4"/>
<circle cx="163.9" cy="516.5" r="0.55" fill="#3a82c4"/>
<circle cx="198.5" cy="477.3" r="0.55" fill="#3a82c4"/>
<circle cx="181.1" cy="496.8" r="0.55" fill="#3a82c4"/>
<circle cx="216.2" cy="461.3" r="0.55" fill="#3a82c4"/>
<circle cx="220.8" cy="460.7" r="0.55" fill="#3a82c4"/>
<circle cx="200.3" cy="482.9" r="0.55" fill="#3a82c4"/>
<circle cx="205.2" cy="472.1" r="0.55" fill="#3a82c4"/>
<circle cx="199.6" cy="479.3" r="0.55" fill="#3a82c4"/>
<circle cx="169.7" cy="498.2" r="0.55" fill="#3a82c4"/>
<circle cx="223.3" cy="450.8" r="0.55" fill="#3a82c4"/>
<circle cx="192.3" cy="479.3" r="0.55" fill="#3a82c4"/>
<circle cx="177.2" cy="490.2" r="0.55" fill="#3a82c4"/>
<circle cx="214.6" cy="467.8" r="0.55" fill="#3a82c4"/>
<circle cx="160.6" cy="520.1" r="0.55" fill="#3a82c4"/>
<circle cx="193.2" cy="479.1" r="0.55" fill="#3a82c4"/>
<circle cx="188.9" cy="494.8" r="0.55" fill="#3a82c4"/>
<circle cx="211.3" cy="472.0" r="0.55" fill="#3a82c4"/>
<circle cx="210.7" cy="472.5" r="0.55" fill="#3a82c4"/>
<circle cx="178.2" cy="493.7" r="0.55" fill="#3a82c4"/>
<circle cx="164.6" cy="519.0" r="0.55" fill="#3a82c4"/>
<circle cx="190.9" cy="482.8" r="0.55" fill="#3a82c4"/>
<circle cx="213.5" cy="465.6" r="0.55" fill="#3a82c4"/>
<circle cx="220.9" cy="460.3" r="0.55" fill="#3a82c4"/>
<circle cx="221.1" cy="462.1" r="0.55" fill="#3a82c4"/>
<circle cx="170.3" cy="508.7" r="0.55" fill="#3a82c4"/>
<circle cx="175.1" cy="498.7" r="0.55" fill="#3a82c4"/>
<circle cx="199.4" cy="481.8" r="0.55" fill="#3a82c4"/>
<circle cx="213.7" cy="466.9" r="0.55" fill="#3a82c4"/>
<circle cx="214.6" cy="476.7" r="0.55" fill="#7fb9e0"/>
<circle cx="241.0" cy="459.4" r="0.55" fill="#7fb9e0"/>
<circle cx="208.6" cy="491.3" r="0.55" fill="#7fb9e0"/>
<circle cx="246.5" cy="447.0" r="0.55" fill="#7fb9e0"/>
<circle cx="228.2" cy="459.7" r="0.55" fill="#7fb9e0"/>
<circle cx="226.3" cy="467.1" r="0.55" fill="#7fb9e0"/>
<circle cx="229.7" cy="454.9" r="0.55" fill="#7fb9e0"/>
<circle cx="246.6" cy="446.8" r="0.55" fill="#7fb9e0"/>
<circle cx="219.4" cy="479.5" r="0.55" fill="#7fb9e0"/>
<circle cx="227.7" cy="465.5" r="0.55" fill="#7fb9e0"/>
<circle cx="233.9" cy="451.5" r="0.55" fill="#7fb9e0"/>
<circle cx="226.5" cy="465.3" r="0.55" fill="#7fb9e0"/>
<circle cx="246.0" cy="454.7" r="0.55" fill="#7fb9e0"/>
<circle cx="212.2" cy="480.8" r="0.55" fill="#7fb9e0"/>
<circle cx="203.5" cy="488.9" r="0.55" fill="#7fb9e0"/>
<circle cx="239.7" cy="460.8" r="0.55" fill="#7fb9e0"/>
<circle cx="223.3" cy="466.7" r="0.55" fill="#7fb9e0"/>
<circle cx="207.6" cy="488.1" r="0.55" fill="#7fb9e0"/>
<circle cx="244.6" cy="441.7" r="0.55" fill="#7fb9e0"/>
<circle cx="238.0" cy="446.5" r="0.55" fill="#7fb9e0"/>
<circle cx="207.7" cy="480.8" r="0.55" fill="#7fb9e0"/>
<circle cx="233.7" cy="456.3" r="0.55" fill="#7fb9e0"/>
<circle cx="217.0" cy="478.7" r="0.55" fill="#7fb9e0"/>
<circle cx="202.0" cy="495.9" r="0.55" fill="#7fb9e0"/>
<circle cx="203.2" cy="490.6" r="0.55" fill="#7fb9e0"/>
<circle cx="211.1" cy="476.9" r="0.55" fill="#7fb9e0"/>
<circle cx="226.0" cy="466.1" r="0.55" fill="#7fb9e0"/>
<circle cx="218.1" cy="473.8" r="0.55" fill="#7fb9e0"/>
<circle cx="226.0" cy="461.1" r="0.55" fill="#7fb9e0"/>
<circle cx="208.4" cy="487.6" r="0.55" fill="#7fb9e0"/>
<circle cx="231.3" cy="462.4" r="0.55" fill="#7fb9e0"/>
<circle cx="241.3" cy="453.9" r="0.55" fill="#7fb9e0"/>
<circle cx="241.5" cy="446.7" r="0.55" fill="#7fb9e0"/>
<circle cx="236.2" cy="462.6" r="0.55" fill="#7fb9e0"/>
<circle cx="243.6" cy="446.1" r="0.55" fill="#7fb9e0"/>
<circle cx="214.7" cy="486.4" r="0.55" fill="#7fb9e0"/>
<circle cx="209.2" cy="493.4" r="0.55" fill="#7fb9e0"/>
<circle cx="242.9" cy="443.5" r="0.55" fill="#7fb9e0"/>
<circle cx="210.4" cy="487.2" r="0.55" fill="#7fb9e0"/>
<circle cx="211.6" cy="474.6" r="0.55" fill="#7fb9e0"/>
<circle cx="240.4" cy="451.3" r="0.55" fill="#7fb9e0"/>
<circle cx="238.5" cy="447.9" r="0.55" fill="#7fb9e0"/>
<circle cx="219.5" cy="477.3" r="0.55" fill="#7fb9e0"/>
<circle cx="195.1" cy="493.2" r="0.55" fill="#7fb9e0"/>
<circle cx="233.4" cy="467.3" r="0.55" fill="#7fb9e0"/>
<circle cx="246.5" cy="439.5" r="0.55" fill="#7fb9e0"/>
<circle cx="224.8" cy="473.2" r="0.55" fill="#7fb9e0"/>
<circle cx="224.7" cy="472.1" r="0.55" fill="#7fb9e0"/>
<circle cx="207.4" cy="478.3" r="0.55" fill="#7fb9e0"/>
<circle cx="202.1" cy="483.1" r="0.55" fill="#7fb9e0"/>
<circle cx="227.1" cy="466.5" r="0.55" fill="#7fb9e0"/>
<circle cx="227.9" cy="458.9" r="0.55" fill="#7fb9e0"/>
<circle cx="207.1" cy="481.0" r="0.55" fill="#7fb9e0"/>
<circle cx="240.8" cy="461.3" r="0.55" fill="#7fb9e0"/>
<circle cx="244.7" cy="441.0" r="0.55" fill="#7fb9e0"/>
<circle cx="198.9" cy="503.0" r="0.55" fill="#7fb9e0"/>
<circle cx="222.6" cy="475.6" r="0.55" fill="#7fb9e0"/>
<circle cx="215.4" cy="477.4" r="0.55" fill="#7fb9e0"/>
<circle cx="225.3" cy="466.8" r="0.55" fill="#7fb9e0"/>
<circle cx="229.5" cy="454.9" r="0.55" fill="#7fb9e0"/>
<circle cx="234.3" cy="465.1" r="0.55" fill="#7fb9e0"/>
<circle cx="206.9" cy="485.8" r="0.55" fill="#7fb9e0"/>
<circle cx="236.1" cy="455.3" r="0.55" fill="#7fb9e0"/>
<circle cx="207.8" cy="479.7" r="0.55" fill="#7fb9e0"/>
<circle cx="225.1" cy="459.4" r="0.55" fill="#7fb9e0"/>
<circle cx="243.2" cy="455.4" r="0.55" fill="#7fb9e0"/>
<circle cx="234.5" cy="465.3" r="0.55" fill="#7fb9e0"/>
<circle cx="230.9" cy="460.6" r="0.55" fill="#7fb9e0"/>
<circle cx="229.5" cy="463.9" r="0.55" fill="#7fb9e0"/>
<circle cx="247.2" cy="451.4" r="0.55" fill="#7fb9e0"/>
<circle cx="211.5" cy="489.4" r="0.55" fill="#7fb9e0"/>
<circle cx="236.4" cy="461.9" r="0.55" fill="#7fb9e0"/>
<circle cx="239.6" cy="451.8" r="0.55" fill="#7fb9e0"/>
<circle cx="243.3" cy="456.7" r="0.55" fill="#7fb9e0"/>
<circle cx="234.0" cy="464.0" r="0.55" fill="#7fb9e0"/>
<circle cx="237.3" cy="454.1" r="0.55" fill="#7fb9e0"/>
<circle cx="235.3" cy="450.0" r="0.55" fill="#7fb9e0"/>
<circle cx="216.2" cy="476.7" r="0.55" fill="#7fb9e0"/>
<circle cx="194.4" cy="496.7" r="0.55" fill="#7fb9e0"/>
<circle cx="231.4" cy="464.2" r="0.55" fill="#7fb9e0"/>
<circle cx="210.0" cy="491.6" r="0.55" fill="#7fb9e0"/>
<circle cx="232.7" cy="457.6" r="0.55" fill="#7fb9e0"/>
<circle cx="232.4" cy="462.1" r="0.55" fill="#7fb9e0"/>
<circle cx="226.2" cy="465.1" r="0.55" fill="#7fb9e0"/>
<circle cx="247.9" cy="447.7" r="0.55" fill="#7fb9e0"/>
<circle cx="234.3" cy="463.6" r="0.55" fill="#7fb9e0"/>
<circle cx="247.1" cy="437.3" r="0.55" fill="#7fb9e0"/>
<circle cx="230.2" cy="467.4" r="0.55" fill="#7fb9e0"/>
<circle cx="211.4" cy="480.3" r="0.55" fill="#7fb9e0"/>
<circle cx="198.0" cy="490.2" r="0.55" fill="#7fb9e0"/>
<circle cx="218.1" cy="468.1" r="0.55" fill="#7fb9e0"/>
<circle cx="211.1" cy="489.8" r="0.55" fill="#7fb9e0"/>
<circle cx="227.0" cy="466.4" r="0.55" fill="#7fb9e0"/>
<circle cx="246.5" cy="447.8" r="0.55" fill="#7fb9e0"/>
<circle cx="247.7" cy="447.8" r="0.55" fill="#7fb9e0"/>
<circle cx="239.4" cy="446.1" r="0.55" fill="#7fb9e0"/>
<circle cx="229.4" cy="468.6" r="0.55" fill="#7fb9e0"/>
<circle cx="197.5" cy="504.0" r="0.55" fill="#7fb9e0"/>
<circle cx="205.6" cy="487.5" r="0.55" fill="#7fb9e0"/>
<circle cx="206.2" cy="487.3" r="0.55" fill="#7fb9e0"/>
<circle cx="230.0" cy="455.2" r="0.55" fill="#7fb9e0"/>
<circle cx="245.5" cy="446.1" r="0.55" fill="#7fb9e0"/>
<circle cx="225.9" cy="469.2" r="0.55" fill="#7fb9e0"/>
<circle cx="217.5" cy="472.0" r="0.55" fill="#7fb9e0"/>
<circle cx="232.1" cy="462.2" r="0.55" fill="#7fb9e0"/>
<circle cx="213.0" cy="484.4" r="0.55" fill="#7fb9e0"/>
<circle cx="213.7" cy="470.9" r="0.55" fill="#7fb9e0"/>
<circle cx="210.8" cy="474.4" r="0.55" fill="#7fb9e0"/>
<circle cx="205.4" cy="492.8" r="0.55" fill="#7fb9e0"/>
<circle cx="218.8" cy="481.8" r="0.55" fill="#7fb9e0"/>
<circle cx="236.5" cy="448.4" r="0.55" fill="#7fb9e0"/>
<circle cx="247.4" cy="453.7" r="0.55" fill="#7fb9e0"/>
<circle cx="199.7" cy="501.3" r="0.55" fill="#7fb9e0"/>
<circle cx="220.9" cy="472.1" r="0.55" fill="#7fb9e0"/>
<circle cx="246.8" cy="441.6" r="0.55" fill="#7fb9e0"/>
<circle cx="225.7" cy="475.6" r="0.55" fill="#7fb9e0"/>
<circle cx="235.3" cy="457.3" r="0.55" fill="#7fb9e0"/>
<circle cx="247.0" cy="451.8" r="0.55" fill="#7fb9e0"/>
<circle cx="229.7" cy="456.6" r="0.55" fill="#7fb9e0"/>
<circle cx="230.7" cy="461.8" r="0.55" fill="#7fb9e0"/>
<circle cx="208.3" cy="477.1" r="0.55" fill="#7fb9e0"/>
<circle cx="225.9" cy="460.6" r="0.55" fill="#7fb9e0"/>
<circle cx="221.6" cy="474.8" r="0.55" fill="#7fb9e0"/>
<circle cx="222.2" cy="466.8" r="0.55" fill="#7fb9e0"/>
<circle cx="228.6" cy="463.2" r="0.55" fill="#7fb9e0"/>
<circle cx="237.9" cy="455.8" r="0.55" fill="#7fb9e0"/>
<circle cx="247.8" cy="453.4" r="0.55" fill="#7fb9e0"/>
<circle cx="235.9" cy="452.5" r="0.55" fill="#7fb9e0"/>
<circle cx="202.6" cy="498.2" r="0.55" fill="#7fb9e0"/>
<circle cx="238.2" cy="457.2" r="0.55" fill="#7fb9e0"/>
<circle cx="217.2" cy="472.1" r="0.55" fill="#7fb9e0"/>
<circle cx="233.6" cy="460.8" r="0.55" fill="#7fb9e0"/>
<circle cx="229.1" cy="466.6" r="0.55" fill="#7fb9e0"/>
<circle cx="236.8" cy="450.8" r="0.55" fill="#7fb9e0"/>
<circle cx="211.0" cy="491.2" r="0.55" fill="#7fb9e0"/>
<circle cx="244.2" cy="455.8" r="0.55" fill="#7fb9e0"/>
<circle cx="197.1" cy="488.6" r="0.55" fill="#7fb9e0"/>
<circle cx="212.3" cy="479.9" r="0.55" fill="#7fb9e0"/>
<circle cx="230.6" cy="455.4" r="0.55" fill="#7fb9e0"/>
<circle cx="226.6" cy="458.9" r="0.55" fill="#7fb9e0"/>
<circle cx="200.7" cy="496.2" r="0.55" fill="#7fb9e0"/>
<circle cx="227.0" cy="468.6" r="0.55" fill="#7fb9e0"/>
<circle cx="217.9" cy="475.1" r="0.55" fill="#7fb9e0"/>
<circle cx="208.7" cy="482.0" r="0.55" fill="#7fb9e0"/>
<circle cx="236.4" cy="463.0" r="0.55" fill="#7fb9e0"/>
<circle cx="199.8" cy="486.9" r="0.55" fill="#7fb9e0"/>
<circle cx="239.4" cy="456.0" r="0.55" fill="#7fb9e0"/>
<circle cx="237.5" cy="450.5" r="0.55" fill="#7fb9e0"/>
<circle cx="220.6" cy="468.4" r="0.55" fill="#7fb9e0"/>
<circle cx="239.4" cy="451.4" r="0.55" fill="#7fb9e0"/>
<circle cx="232.1" cy="470.1" r="0.55" fill="#7fb9e0"/>
<circle cx="215.3" cy="479.0" r="0.55" fill="#7fb9e0"/>
<circle cx="236.4" cy="464.4" r="0.55" fill="#7fb9e0"/>
<circle cx="220.8" cy="470.2" r="0.55" fill="#7fb9e0"/>
<circle cx="201.4" cy="499.0" r="0.55" fill="#7fb9e0"/>
<circle cx="200.1" cy="486.0" r="0.55" fill="#7fb9e0"/>
<circle cx="227.7" cy="465.3" r="0.55" fill="#7fb9e0"/>
<circle cx="233.6" cy="456.0" r="0.55" fill="#7fb9e0"/>
<circle cx="237.8" cy="447.6" r="0.55" fill="#7fb9e0"/>
<circle cx="208.9" cy="487.6" r="0.55" fill="#7fb9e0"/>
<circle cx="200.3" cy="489.7" r="0.55" fill="#7fb9e0"/>
<circle cx="235.5" cy="461.3" r="0.55" fill="#7fb9e0"/>
<circle cx="212.9" cy="474.0" r="0.55" fill="#7fb9e0"/>
<circle cx="217.1" cy="480.4" r="0.55" fill="#7fb9e0"/>
<circle cx="217.6" cy="468.9" r="0.55" fill="#7fb9e0"/>
<circle cx="234.7" cy="459.8" r="0.55" fill="#7fb9e0"/>
<circle cx="244.3" cy="456.8" r="0.55" fill="#7fb9e0"/>
<circle cx="244.1" cy="447.9" r="0.55" fill="#7fb9e0"/>
<circle cx="239.1" cy="450.5" r="0.55" fill="#7fb9e0"/>
<circle cx="214.9" cy="476.7" r="0.55" fill="#7fb9e0"/>
<circle cx="245.0" cy="455.2" r="0.55" fill="#7fb9e0"/>
<circle cx="211.0" cy="480.0" r="0.55" fill="#7fb9e0"/>
<circle cx="217.5" cy="473.4" r="0.55" fill="#7fb9e0"/>
<circle cx="219.1" cy="472.2" r="0.55" fill="#7fb9e0"/>
<circle cx="207.8" cy="486.9" r="0.55" fill="#7fb9e0"/>
<circle cx="238.8" cy="455.1" r="0.55" fill="#7fb9e0"/>
<circle cx="240.6" cy="453.7" r="0.55" fill="#7fb9e0"/>
<circle cx="206.7" cy="491.6" r="0.55" fill="#7fb9e0"/>
<circle cx="242.6" cy="446.5" r="0.55" fill="#7fb9e0"/>
<circle cx="195.5" cy="498.5" r="0.55" fill="#7fb9e0"/>
<circle cx="226.7" cy="467.8" r="0.55" fill="#7fb9e0"/>
<circle cx="246.5" cy="449.4" r="0.55" fill="#7fb9e0"/>
<circle cx="239.1" cy="446.1" r="0.55" fill="#7fb9e0"/>
<circle cx="226.9" cy="471.7" r="0.55" fill="#7fb9e0"/>
<circle cx="200.5" cy="485.5" r="0.55" fill="#7fb9e0"/>
<circle cx="236.0" cy="464.4" r="0.55" fill="#7fb9e0"/>
<circle cx="200.5" cy="495.5" r="0.55" fill="#7fb9e0"/>
<circle cx="204.6" cy="493.5" r="0.55" fill="#7fb9e0"/>
<circle cx="231.8" cy="456.8" r="0.55" fill="#7fb9e0"/>
<circle cx="209.3" cy="489.0" r="0.55" fill="#7fb9e0"/>
<circle cx="225.6" cy="472.5" r="0.55" fill="#7fb9e0"/>
<circle cx="219.1" cy="471.4" r="0.55" fill="#7fb9e0"/>
<circle cx="246.5" cy="449.7" r="0.55" fill="#7fb9e0"/>
<circle cx="224.2" cy="469.8" r="0.55" fill="#7fb9e0"/>
<circle cx="235.3" cy="461.7" r="0.55" fill="#7fb9e0"/>
<circle cx="244.2" cy="447.3" r="0.55" fill="#7fb9e0"/>
<circle cx="240.1" cy="456.0" r="0.55" fill="#7fb9e0"/>
<circle cx="241.4" cy="457.3" r="0.55" fill="#7fb9e0"/>
<circle cx="240.5" cy="459.7" r="0.55" fill="#7fb9e0"/>
<circle cx="246.1" cy="449.5" r="0.55" fill="#7fb9e0"/>
<circle cx="171.7" cy="541.2" r="0.7" fill="#f4b860"/>
<circle cx="179.2" cy="533.1" r="0.7" fill="#f4b860"/>
<circle cx="185.5" cy="526.3" r="0.7" fill="#f4b860"/>
<circle cx="192.9" cy="527.8" r="0.7" fill="#f4b860"/>
<circle cx="199.3" cy="512.4" r="0.7" fill="#f4b860"/>
<circle cx="181.3" cy="531.4" r="0.7" fill="#f4b860"/>
</g>
<line x1="148.40" y1="535.60" x2="232.70" y2="450.70" stroke="#333" stroke-width="0.55"/>
<line x1="150.70" y1="547.90" x2="246.40" y2="450.70" stroke="#222" stroke-width="0.6" stroke-dasharray="1.1 1"/>
<line x1="162.10" y1="549.30" x2="247.00" y2="463.60" stroke="#333" stroke-width="0.55"/>
<line x1="149.90" y1="450.70" x2="149.90" y2="550.20" stroke="#000" stroke-width="0.7"/>
<line x1="149.60" y1="549.90" x2="248.00" y2="549.90" stroke="#000" stroke-width="0.7"/>
<line x1="148.40" y1="543.60" x2="149.90" y2="543.60" stroke="#000" stroke-width="0.6"/>
<text x="147.40" y="545.91" font-size="6.6" text-anchor="end" font-weight="normal" fill="#000" opacity="0.999">0.00</text>
<line x1="157.90" y1="549.90" x2="157.90" y2="551.40" stroke="#000" stroke-width="0.6"/>
<text x="157.90" y="556.91" font-size="6.6" text-anchor="middle" font-weight="normal" fill="#000" opacity="0.999">0.00</text>
<line x1="148.40" y1="521.60" x2="149.90" y2="521.60" stroke="#000" stroke-width="0.6"/>
<text x="147.40" y="523.91" font-size="6.6" text-anchor="end" font-weight="normal" fill="#000" opacity="0.999">0.25</text>
<line x1="178.95" y1="549.90" x2="178.95" y2="551.40" stroke="#000" stroke-width="0.6"/>
<text x="178.95" y="556.91" font-size="6.6" text-anchor="middle" font-weight="normal" fill="#000" opacity="0.999">0.25</text>
<line x1="148.40" y1="499.60" x2="149.90" y2="499.60" stroke="#000" stroke-width="0.6"/>
<text x="147.40" y="501.91" font-size="6.6" text-anchor="end" font-weight="normal" fill="#000" opacity="0.999">0.50</text>
<line x1="200.00" y1="549.90" x2="200.00" y2="551.40" stroke="#000" stroke-width="0.6"/>
<text x="200.00" y="556.91" font-size="6.6" text-anchor="middle" font-weight="normal" fill="#000" opacity="0.999">0.50</text>
<line x1="148.40" y1="477.60" x2="149.90" y2="477.60" stroke="#000" stroke-width="0.6"/>
<text x="147.40" y="479.91" font-size="6.6" text-anchor="end" font-weight="normal" fill="#000" opacity="0.999">0.75</text>
<line x1="221.05" y1="549.90" x2="221.05" y2="551.40" stroke="#000" stroke-width="0.6"/>
<text x="221.05" y="556.91" font-size="6.6" text-anchor="middle" font-weight="normal" fill="#000" opacity="0.999">0.75</text>
<line x1="148.40" y1="455.60" x2="149.90" y2="455.60" stroke="#000" stroke-width="0.6"/>
<text x="147.40" y="457.91" font-size="6.6" text-anchor="end" font-weight="normal" fill="#000" opacity="0.999">1.00</text>
<line x1="242.10" y1="549.90" x2="242.10" y2="551.40" stroke="#000" stroke-width="0.6"/>
<text x="242.10" y="556.91" font-size="6.6" text-anchor="middle" font-weight="normal" fill="#000" opacity="0.999">1.00</text>
<text x="152.20" y="472.19" font-size="5.7" text-anchor="start" font-weight="normal" fill="#3f80c2" opacity="0.999"><tspan font-weight="bold">OFF</tspan>-target</text>
<text x="152.20" y="479.00" font-size="5.7" text-anchor="start" font-weight="normal" fill="#3f80c2" opacity="0.999">SANGs</text>
<text x="152.20" y="485.80" font-size="5.7" text-anchor="start" font-weight="normal" fill="#3f80c2" opacity="0.999">3.517%</text>
<text x="231.40" y="485.60" font-size="5.7" text-anchor="start" font-weight="normal" fill="#9fc9e6" opacity="0.999"><tspan font-weight="bold">ON</tspan>-target</text>
<text x="231.40" y="492.40" font-size="5.7" text-anchor="start" font-weight="normal" fill="#9fc9e6" opacity="0.999">SANGs</text>
<text x="231.40" y="499.20" font-size="5.7" text-anchor="start" font-weight="normal" fill="#9fc9e6" opacity="0.999">96.4809%</text>
<text x="187.40" y="534.70" font-size="5.7" text-anchor="start" font-weight="normal" fill="#f2b866" opacity="0.999"><tspan font-weight="bold">UN</tspan>-targeted tumors</text>
<text x="187.40" y="541.39" font-size="5.7" text-anchor="start" font-weight="normal" fill="#f2b866" opacity="0.999">0.0017%</text>
<text x="266.50" y="321.88" font-size="10.5" text-anchor="start" font-weight="bold" fill="#000" opacity="0.999">i.</text>
<text x="285.50" y="332.45" font-size="7" text-anchor="start" font-weight="normal" fill="#000" opacity="0.999"><tspan font-weight="bold">SANGs</tspan> + siRNA</text>
<text x="285.50" y="341.45" font-size="7" text-anchor="start" font-weight="normal" fill="#000" opacity="0.999">Alexa Fluor 647</text>
<text x="331.00" y="359.15" font-size="7" text-anchor="start" font-weight="normal" fill="#000" opacity="0.999">or</text>
<text x="285.50" y="374.45" font-size="7" text-anchor="start" font-weight="normal" fill="#000" opacity="0.999"><tspan font-weight="bold">LNP</tspan> + siRNA</text>
<text x="285.50" y="383.05" font-size="7" text-anchor="start" font-weight="normal" fill="#000" opacity="0.999">Alexa Fluor 647</text>
<line x1="373.00" y1="335.30" x2="377.00" y2="335.30" stroke="#35564a" stroke-width="1.0"/>
<circle cx="377.00" cy="335.30" r="1.0" fill="#2f5d4a"/>
<line x1="372.41" y1="339.01" x2="376.22" y2="340.24" stroke="#35564a" stroke-width="1.0"/>
<circle cx="376.22" cy="340.24" r="1.0" fill="#5a3a3a"/>
<line x1="370.71" y1="342.35" x2="373.94" y2="344.70" stroke="#35564a" stroke-width="1.0"/>
<circle cx="373.94" cy="344.70" r="1.0" fill="#2f5d4a"/>
<line x1="368.05" y1="345.01" x2="370.40" y2="348.24" stroke="#35564a" stroke-width="1.0"/>
<circle cx="370.40" cy="348.24" r="1.0" fill="#5a3a3a"/>
<line x1="364.71" y1="346.71" x2="365.94" y2="350.52" stroke="#35564a" stroke-width="1.0"/>
<circle cx="365.94" cy="350.52" r="1.0" fill="#2f5d4a"/>
<line x1="361.00" y1="347.30" x2="361.00" y2="351.30" stroke="#35564a" stroke-width="1.0"/>
<circle cx="361.00" cy="351.30" r="1.0" fill="#5a3a3a"/>
<line x1="357.29" y1="346.71" x2="356.06" y2="350.52" stroke="#35564a" stroke-width="1.0"/>
<circle cx="356.06" cy="350.52" r="1.0" fill="#2f5d4a"/>
<line x1="353.95" y1="345.01" x2="351.60" y2="348.24" stroke="#35564a" stroke-width="1.0"/>
<circle cx="351.60" cy="348.24" r="1.0" fill="#5a3a3a"/>
<line x1="351.29" y1="342.35" x2="348.06" y2="344.70" stroke="#35564a" stroke-width="1.0"/>
<circle cx="348.06" cy="344.70" r="1.0" fill="#2f5d4a"/>
<line x1="349.59" y1="339.01" x2="345.78" y2="340.24" stroke="#35564a" stroke-width="1.0"/>
<circle cx="345.78" cy="340.24" r="1.0" fill="#5a3a3a"/>
<line x1="349.00" y1="335.30" x2="345.00" y2="335.30" stroke="#35564a" stroke-width="1.0"/>
<circle cx="345.00" cy="335.30" r="1.0" fill="#2f5d4a"/>
<line x1="349.59" y1="331.59" x2="345.78" y2="330.36" stroke="#35564a" stroke-width="1.0"/>
<circle cx="345.78" cy="330.36" r="1.0" fill="#5a3a3a"/>
<line x1="351.29" y1="328.25" x2="348.06" y2="325.90" stroke="#35564a" stroke-width="1.0"/>
<circle cx="348.06" cy="325.90" r="1.0" fill="#2f5d4a"/>
<line x1="353.95" y1="325.59" x2="351.60" y2="322.36" stroke="#35564a" stroke-width="1.0"/>
<circle cx="351.60" cy="322.36" r="1.0" fill="#5a3a3a"/>
<line x1="357.29" y1="323.89" x2="356.06" y2="320.08" stroke="#35564a" stroke-width="1.0"/>
<circle cx="356.06" cy="320.08" r="1.0" fill="#2f5d4a"/>
<line x1="361.00" y1="323.30" x2="361.00" y2="319.30" stroke="#35564a" stroke-width="1.0"/>
<circle cx="361.00" cy="319.30" r="1.0" fill="#5a3a3a"/>
<line x1="364.71" y1="323.89" x2="365.94" y2="320.08" stroke="#35564a" stroke-width="1.0"/>
<circle cx="365.94" cy="320.08" r="1.0" fill="#2f5d4a"/>
<line x1="368.05" y1="325.59" x2="370.40" y2="322.36" stroke="#35564a" stroke-width="1.0"/>
<circle cx="370.40" cy="322.36" r="1.0" fill="#5a3a3a"/>
<line x1="370.71" y1="328.25" x2="373.94" y2="325.90" stroke="#35564a" stroke-width="1.0"/>
<circle cx="373.94" cy="325.90" r="1.0" fill="#2f5d4a"/>
<line x1="372.41" y1="331.59" x2="376.22" y2="330.36" stroke="#35564a" stroke-width="1.0"/>
<circle cx="376.22" cy="330.36" r="1.0" fill="#5a3a3a"/>
<radialGradient id="sang"><stop offset="0" stop-color="#ffffff"/><stop offset="0.6" stop-color="#e4f1f9"/><stop offset="1" stop-color="#a8d0ea"/></radialGradient>
<circle cx="361" cy="335.3" r="12" fill="url(#sang)" stroke="#2d6d9e" stroke-width="1.9"/>
<path d="M354.5 335.90000000000003 q1.6 -3.6 3.2 0 t3.2 0 t3.2 0 t3.2 0" fill="none" stroke="#c0206a" stroke-width="1"/>
<path d="M354.5 335.90000000000003 q1.6 3.6 3.2 0 t3.2 0 t3.2 0 t3.2 0" fill="none" stroke="#2a2ab0" stroke-width="1"/>
<circle cx="361" cy="377.6" r="11" fill="#fff" stroke="#f2a51f" stroke-width="2.2" stroke-dasharray="0.9 0.45"/>
<circle cx="361" cy="377.6" r="9.4" fill="#fffdf8" stroke="#f8cf7a" stroke-width="0.8"/>
<radialGradient id="lnpg"><stop offset="0" stop-color="#e8104a"/><stop offset="0.55" stop-color="#f0507a"/><stop offset="0.85" stop-color="#f8a8b8"/><stop offset="1" stop-color="#fff" stop-opacity="0"/></radialGradient>
<circle cx="361" cy="377.6" r="6.6" fill="url(#lnpg)"/>
<line x1="396.20" y1="354.60" x2="407.50" y2="354.60" stroke="#111" stroke-width="1.5"/>
<path d="M403.9 350.2 L411.5 354.6 L403.9 359.0 Z" fill="#111"/>
<line x1="465.80" y1="354.60" x2="477.00" y2="354.60" stroke="#111" stroke-width="1.5"/>
<path d="M473.4 350.2 L481.0 354.6 L473.4 359.0 Z" fill="#111"/>
<line x1="554.00" y1="354.60" x2="564.50" y2="354.60" stroke="#111" stroke-width="1.5"/>
<path d="M560.9 350.2 L568.5 354.6 L560.9 359.0 Z" fill="#111"/>
<path d="M453.1 346.9 C458.6 347.6 462.4 351.1 460.7 354.8 C457.6 358.3 446.3 357.5 434.9 355.0" fill="none" stroke="#c9958c" stroke-width="1"/>
<path d="M411.2 341.0 C413.1 338.1 416.9 335.9 421.2 335.1 C425.4 334.7 429.2 335.5 433.0 334.4 C439.6 332.8 448.2 334.7 452.3 340.6 C455.0 345.0 454.2 350.1 451.0 352.6 C446.3 353.7 438.7 353.3 433.0 352.6 C429.2 352.2 425.4 353.0 422.0 352.2 C419.7 351.1 418.7 348.8 417.4 346.9 C415.0 345.4 412.1 343.5 411.2 341.0 Z" fill="#4b4442"/>
<ellipse cx="423.6" cy="336.4" rx="2.4" ry="2.8" fill="#5c514f"/><ellipse cx="423.9" cy="336.8" rx="1.4" ry="1.8" fill="#a07a74"/>
<circle cx="416.4" cy="339.4" r="0.6" fill="#111"/>
<path d="M421.6 351.6 L417.4 353.5 L423.5 353.5 Z M440.6 352.6 L433.9 354.8 L443.4 354.8 Z" fill="#d4a69e"/>
<circle cx="411.4" cy="340.8" r="0.7" fill="#d8aaa2"/>
<text x="435.00" y="374.45" font-size="7" text-anchor="middle" font-weight="normal" fill="#000" opacity="0.999">i.v. injected</text>
<text x="435.00" y="383.05" font-size="7" text-anchor="middle" font-weight="normal" fill="#000" opacity="0.999">1.3 mg•kg<tspan dy="-2.52" font-size="4.20">-1</tspan></text>
<path d="M485 340 C486 335 492 333 499 333.5 C505 332 510 333 511.5 336 C512 339.5 508 342 503 343 C498 344.5 492 345 489 349 C487.5 351 485.5 350 485.2 347 Z" fill="#b06a5c"/>
<path d="M499 333.5 C498.5 337 499 341 500.5 343.5" fill="none" stroke="#8c4c42" stroke-width="0.6"/>
<path d="M531 331 C526 330.5 522.8 335 523.2 340.5 C523.6 346.5 527 351 531.5 350.5 C535.5 350 536 346.5 534.2 344 C533 342 533 339.5 534.5 337.5 C536.5 334.5 535 331.3 531 331 Z" fill="#e0a896"/>
<path d="M534 339 h4 M534 340.6 h4" stroke="#c03030" stroke-width="0.7" fill="none"/><path d="M534 341.8 h3.6" stroke="#3050c0" stroke-width="0.7"/>
<path d="M535.5 342.5 C536.5 345 535.8 348 535 351" stroke="#e8c040" stroke-width="1.2" fill="none"/>
<text x="491.00" y="375.05" font-size="7" text-anchor="start" font-weight="normal" fill="#000" opacity="0.999">3 hrs after injection</text>
<text x="491.00" y="383.25" font-size="7" text-anchor="start" font-weight="normal" fill="#000" opacity="0.999">liver and kidney</text>
<text x="491.00" y="391.45" font-size="7" text-anchor="start" font-weight="normal" fill="#000" opacity="0.999">harvested</text>
<path d="M580.1 321.2 L585.1 318.4 L618.7 320.7 L633.8 323.8 L633.8 359.8 L612.0 366.6 L600.2 363.2 L580.1 357.0 Z" fill="#eceef0" stroke="#d0d4d8" stroke-width="0.3"/>
<path d="M580.1 321.2 L585.1 318.4 L618.7 320.7 L633.8 323.8 L625.4 326.8 L601.9 324.1 Z" fill="#e3e5e8"/>
<path d="M580.4 328.8 L601.4 332.5 L601.4 362.9 L580.4 356.7 Z" fill="#b7bdc4"/>
<path d="M582.1 337.2 L599.4 340.2 L599.4 361.0 L582.1 356.0 Z" fill="#c9ced4"/>
<path d="M601.9 324.4 L625.4 327.1 L625.4 362.4 L601.9 362.4 Z" fill="#f4f5f6"/>
<path d="M625.4 327.1 L633.8 324.1 L633.8 359.8 L625.4 362.4 Z" fill="#c6cbd0"/>
<path d="M626.4 331.8 L633.0 329.8 L633.0 358.7 L626.4 360.7 Z" fill="#aab0b7"/>
<path d="M601.4 362.4 L625.4 362.4 L633.8 359.8 L612.0 366.6 L600.2 363.2 Z" fill="#f7f8f9" stroke="#d0d4d8" stroke-width="0.3"/>
<path d="M607.8 336.5 L620.4 336.5 L620.4 340.9 L607.8 340.9 Z" fill="#55615c"/>
<path d="M607.8 336.5 L620.4 336.5 L620.4 337.7 L607.8 337.7 Z" fill="#27312e"/>
<path d="M607.8 340.9 L620.4 340.9 L620.4 344.9 L607.8 344.9 Z" fill="#c3c9cf"/>
<ellipse cx="613.3" cy="346.4" rx="11.6" ry="1.9" fill="#d6e5ef" stroke="#9fb5c4" stroke-width="0.4"/>
<path d="M612.6 348.3 L612.6 354.0 L610.8 360.3 L616.2 360.3 L614.1 354.0 L614.1 348.3 Z" fill="#f0f3f6" stroke="#b0b8c0" stroke-width="0.4"/>
<path d="M581.4 345.6 L582.8 345.8 L582.8 355.6 L581.4 355.3 Z" fill="#3a8ee0"/>
<path d="M585.8 347.3 L587.1 347.5 L587.1 357.2 L585.8 357.0 Z" fill="#3a8ee0"/>
<path d="M589.5 353.3 L590.8 353.5 L590.8 358.2 L589.5 358.0 Z" fill="#3a8ee0"/>
<path d="M593.3 354.8 L594.7 355.1 L594.7 359.6 L593.3 359.3 Z" fill="#3a8ee0"/>
<line x1="643.40" y1="323.60" x2="643.40" y2="361.70" stroke="#333" stroke-width="0.5"/>
<line x1="643.20" y1="361.50" x2="682.00" y2="361.50" stroke="#333" stroke-width="0.5"/>
<line x1="642.20" y1="324.00" x2="643.40" y2="324.00" stroke="#333" stroke-width="0.4"/>
<line x1="643.40" y1="361.50" x2="643.40" y2="362.70" stroke="#333" stroke-width="0.4"/>
<line x1="642.20" y1="331.50" x2="643.40" y2="331.50" stroke="#333" stroke-width="0.4"/>
<line x1="651.00" y1="361.50" x2="651.00" y2="362.70" stroke="#333" stroke-width="0.4"/>
<line x1="642.20" y1="339.00" x2="643.40" y2="339.00" stroke="#333" stroke-width="0.4"/>
<line x1="658.60" y1="361.50" x2="658.60" y2="362.70" stroke="#333" stroke-width="0.4"/>
<line x1="642.20" y1="346.50" x2="643.40" y2="346.50" stroke="#333" stroke-width="0.4"/>
<line x1="666.20" y1="361.50" x2="666.20" y2="362.70" stroke="#333" stroke-width="0.4"/>
<line x1="642.20" y1="354.00" x2="643.40" y2="354.00" stroke="#333" stroke-width="0.4"/>
<line x1="673.80" y1="361.50" x2="673.80" y2="362.70" stroke="#333" stroke-width="0.4"/>
<line x1="642.20" y1="361.50" x2="643.40" y2="361.50" stroke="#333" stroke-width="0.4"/>
<line x1="681.40" y1="361.50" x2="681.40" y2="362.70" stroke="#333" stroke-width="0.4"/>
<radialGradient id="fcg"><stop offset="0" stop-color="#e81010"/><stop offset="0.2" stop-color="#f0e000"/><stop offset="0.42" stop-color="#30d0b0"/><stop offset="0.66" stop-color="#2060e0"/><stop offset="0.9" stop-color="#2828a8"/><stop offset="1" stop-color="#303090" stop-opacity="0.5"/></radialGradient>
<radialGradient id="fcb"><stop offset="0" stop-color="#40d0c0"/><stop offset="0.5" stop-color="#30c0d0"/><stop offset="0.72" stop-color="#2060e0"/><stop offset="0.92" stop-color="#2828a8"/><stop offset="1" stop-color="#303090" stop-opacity="0.5"/></radialGradient>
<ellipse cx="652.30" cy="352.30" rx="6.80" ry="6.80" fill="url(#fcg)" opacity="1" transform="rotate(0 652.30 352.30)" filter="url(#irr2)"/>
<ellipse cx="664.00" cy="344.20" rx="4.90" ry="6.30" fill="url(#fcb)" opacity="1" transform="rotate(20 664.00 344.20)" filter="url(#irr2)"/>
<ellipse cx="665.40" cy="356.10" rx="5.80" ry="4.00" fill="url(#fcg)" opacity="1" transform="rotate(-25 665.40 356.10)" filter="url(#irr2)"/>
<text x="579.20" y="375.05" font-size="7" text-anchor="start" font-weight="normal" fill="#000" opacity="0.999">cell-type specific Alexa Fluor 647</text>
<text x="579.20" y="383.25" font-size="7" text-anchor="start" font-weight="normal" fill="#000" opacity="0.999">flow cytometry quantification</text>
<text x="266.30" y="402.68" font-size="10.5" text-anchor="start" font-weight="bold" fill="#000" opacity="0.999">j.</text>
<text x="287.80" y="456.14" font-size="8.4" text-anchor="middle" font-weight="normal" fill="#000" opacity="0.999" transform="rotate(-90 287.80 453.20)">AF647+ (%)</text>
<path d="M467.6 507.2 L511 405.9 L511 514 L467.6 517.9 Z" fill="#e7e7e7"/>
<line x1="467.60" y1="507.20" x2="511.00" y2="405.90" stroke="#333" stroke-width="0.6" stroke-dasharray="2.2 1.6"/>
<line x1="467.60" y1="517.90" x2="511.00" y2="514.00" stroke="#333" stroke-width="0.6" stroke-dasharray="2.2 1.6"/>
<line x1="308.40" y1="408.80" x2="308.40" y2="512.70" stroke="#000" stroke-width="0.7"/>
<line x1="308.10" y1="512.40" x2="465.80" y2="512.40" stroke="#000" stroke-width="0.7"/>
<line x1="304.60" y1="512.40" x2="308.40" y2="512.40" stroke="#000" stroke-width="0.6"/>
<text x="302.20" y="514.75" font-size="6.7" text-anchor="end" font-weight="normal" fill="#000" opacity="0.999">0</text>
<line x1="304.60" y1="491.80" x2="308.40" y2="491.80" stroke="#000" stroke-width="0.6"/>
<text x="302.20" y="494.14" font-size="6.7" text-anchor="end" font-weight="normal" fill="#000" opacity="0.999">20</text>
<line x1="304.60" y1="471.20" x2="308.40" y2="471.20" stroke="#000" stroke-width="0.6"/>
<text x="302.20" y="473.55" font-size="6.7" text-anchor="end" font-weight="normal" fill="#000" opacity="0.999">40</text>
<line x1="304.60" y1="450.60" x2="308.40" y2="450.60" stroke="#000" stroke-width="0.6"/>
<text x="302.20" y="452.94" font-size="6.7" text-anchor="end" font-weight="normal" fill="#000" opacity="0.999">60</text>
<line x1="304.60" y1="430.00" x2="308.40" y2="430.00" stroke="#000" stroke-width="0.6"/>
<text x="302.20" y="432.35" font-size="6.7" text-anchor="end" font-weight="normal" fill="#000" opacity="0.999">80</text>
<line x1="304.60" y1="409.40" x2="308.40" y2="409.40" stroke="#000" stroke-width="0.6"/>
<text x="302.20" y="411.75" font-size="6.7" text-anchor="end" font-weight="normal" fill="#000" opacity="0.999">100</text>
<rect x="312.80" y="511.60" width="6.80" height="0.80" fill="#9a9a9a" stroke="#111" stroke-width="0.4"/>
<circle cx="314.50" cy="511.20" r="1.7" fill="#000"/>
<circle cx="316.20" cy="510.70" r="1.7" fill="#000"/>
<circle cx="317.90" cy="511.20" r="1.7" fill="#000"/>
<rect x="322.40" y="503.20" width="6.80" height="9.20" fill="#e4e9c6" stroke="#111" stroke-width="0.55"/>
<rect x="339.20" y="511.60" width="6.80" height="0.80" fill="#9a9a9a" stroke="#111" stroke-width="0.4"/>
<circle cx="340.90" cy="511.20" r="1.7" fill="#000"/>
<circle cx="342.60" cy="510.70" r="1.7" fill="#000"/>
<circle cx="344.30" cy="511.20" r="1.7" fill="#000"/>
<rect x="348.80" y="472.60" width="6.80" height="39.80" fill="#e4e9c6" stroke="#111" stroke-width="0.55"/>
<rect x="365.60" y="511.60" width="6.80" height="0.80" fill="#9a9a9a" stroke="#111" stroke-width="0.4"/>
<circle cx="367.30" cy="511.20" r="1.7" fill="#000"/>
<circle cx="369.00" cy="510.70" r="1.7" fill="#000"/>
<circle cx="370.70" cy="511.20" r="1.7" fill="#000"/>
<rect x="375.20" y="479.30" width="6.80" height="33.10" fill="#e4e9c6" stroke="#111" stroke-width="0.55"/>
<rect x="391.90" y="511.60" width="6.80" height="0.80" fill="#9a9a9a" stroke="#111" stroke-width="0.4"/>
<circle cx="393.60" cy="511.20" r="1.7" fill="#000"/>
<circle cx="395.30" cy="510.70" r="1.7" fill="#000"/>
<circle cx="397.00" cy="511.20" r="1.7" fill="#000"/>
<rect x="401.50" y="433.30" width="6.80" height="79.10" fill="#e4e9c6" stroke="#111" stroke-width="0.55"/>
<rect x="418.10" y="511.60" width="6.80" height="0.80" fill="#9a9a9a" stroke="#111" stroke-width="0.4"/>
<circle cx="419.80" cy="511.20" r="1.7" fill="#000"/>
<circle cx="421.50" cy="510.70" r="1.7" fill="#000"/>
<circle cx="423.20" cy="511.20" r="1.7" fill="#000"/>
<rect x="427.70" y="473.20" width="6.80" height="39.20" fill="#e4e9c6" stroke="#111" stroke-width="0.55"/>
<rect x="444.60" y="511.60" width="6.80" height="0.80" fill="#9a9a9a" stroke="#111" stroke-width="0.4"/>
<circle cx="446.30" cy="511.20" r="1.7" fill="#000"/>
<circle cx="448.00" cy="510.70" r="1.7" fill="#000"/>
<circle cx="449.70" cy="511.20" r="1.7" fill="#000"/>
<rect x="454.20" y="484.50" width="6.80" height="27.90" fill="#e4e9c6" stroke="#111" stroke-width="0.55"/>
<line x1="325.60" y1="500.80" x2="325.60" y2="505.60" stroke="#000" stroke-width="0.55"/>
<line x1="324.40" y1="500.80" x2="326.80" y2="500.80" stroke="#000" stroke-width="0.55"/>
<line x1="324.40" y1="505.60" x2="326.80" y2="505.60" stroke="#000" stroke-width="0.55"/>
<line x1="351.90" y1="466.50" x2="351.90" y2="478.50" stroke="#000" stroke-width="0.55"/>
<line x1="350.70" y1="466.50" x2="353.10" y2="466.50" stroke="#000" stroke-width="0.55"/>
<line x1="350.70" y1="478.50" x2="353.10" y2="478.50" stroke="#000" stroke-width="0.55"/>
<line x1="378.10" y1="477.80" x2="378.10" y2="481.00" stroke="#000" stroke-width="0.55"/>
<line x1="376.90" y1="477.80" x2="379.30" y2="477.80" stroke="#000" stroke-width="0.55"/>
<line x1="376.90" y1="481.00" x2="379.30" y2="481.00" stroke="#000" stroke-width="0.55"/>
<line x1="404.80" y1="430.00" x2="404.80" y2="436.60" stroke="#000" stroke-width="0.55"/>
<line x1="403.60" y1="430.00" x2="406.00" y2="430.00" stroke="#000" stroke-width="0.55"/>
<line x1="403.60" y1="436.60" x2="406.00" y2="436.60" stroke="#000" stroke-width="0.55"/>
<line x1="431.00" y1="468.50" x2="431.00" y2="477.60" stroke="#000" stroke-width="0.55"/>
<line x1="429.80" y1="468.50" x2="432.20" y2="468.50" stroke="#000" stroke-width="0.55"/>
<line x1="429.80" y1="477.60" x2="432.20" y2="477.60" stroke="#000" stroke-width="0.55"/>
<line x1="457.60" y1="464.50" x2="457.60" y2="504.50" stroke="#000" stroke-width="0.55"/>
<line x1="456.00" y1="464.50" x2="459.20" y2="464.50" stroke="#000" stroke-width="0.55"/>
<line x1="456.00" y1="504.50" x2="459.20" y2="504.50" stroke="#000" stroke-width="0.55"/>
<circle cx="325.40" cy="500.80" r="1.5" fill="#000"/>
<circle cx="326.60" cy="503.00" r="1.5" fill="#000"/>
<circle cx="324.80" cy="504.50" r="1.5" fill="#000"/>
<circle cx="352.00" cy="465.80" r="1.5" fill="#000"/>
<circle cx="351.60" cy="472.80" r="1.5" fill="#000"/>
<circle cx="352.60" cy="478.60" r="1.5" fill="#000"/>
<circle cx="377.60" cy="480.00" r="1.5" fill="#000"/>
<circle cx="378.80" cy="478.80" r="1.5" fill="#000"/>
<circle cx="380.00" cy="477.80" r="1.5" fill="#000"/>
<circle cx="404.00" cy="434.50" r="1.5" fill="#000"/>
<circle cx="405.50" cy="426.60" r="1.5" fill="#000"/>
<circle cx="406.20" cy="432.80" r="1.5" fill="#000"/>
<circle cx="430.40" cy="476.60" r="1.5" fill="#000"/>
<circle cx="431.60" cy="467.50" r="1.5" fill="#000"/>
<circle cx="432.60" cy="473.20" r="1.5" fill="#000"/>
<circle cx="457.00" cy="495.20" r="1.5" fill="#000"/>
<circle cx="459.00" cy="495.20" r="1.5" fill="#000"/>
<circle cx="458.00" cy="460.80" r="1.5" fill="#000"/>
<line x1="340.10" y1="460.30" x2="353.90" y2="460.30" stroke="#000" stroke-width="0.6"/>
<text x="346.90" y="463.52" font-size="15" text-anchor="middle" fill="#111">*</text>
<line x1="366.80" y1="472.60" x2="380.00" y2="472.60" stroke="#000" stroke-width="0.6"/>
<text x="373.20" y="475.82" font-size="15" text-anchor="middle" fill="#111">*</text>
<line x1="393.10" y1="422.60" x2="406.60" y2="422.60" stroke="#000" stroke-width="0.6"/>
<text x="400.50" y="425.82" font-size="15" text-anchor="middle" fill="#111">*</text>
<line x1="419.20" y1="463.40" x2="433.00" y2="463.40" stroke="#000" stroke-width="0.6"/>
<text x="426.60" y="466.62" font-size="15" text-anchor="middle" fill="#111">*</text>
<line x1="445.90" y1="457.20" x2="459.70" y2="457.20" stroke="#000" stroke-width="0.6"/>
<text x="452.60" y="460.42" font-size="15" text-anchor="middle" fill="#111">*</text>
<rect x="296.60" y="506.90" width="171.00" height="11.30" fill="none" stroke="#111" stroke-width="0.7" stroke-dasharray="1.5 1.1"/>
<text x="324.30" y="525.15" font-size="7.3" text-anchor="end" font-weight="normal" fill="#000" opacity="0.999" transform="rotate(-45 324.30 522.60)">CD31<tspan dy="-3.29" font-size="5.84">+</tspan><tspan dy="3.29"> /CD45</tspan><tspan dy="-3.29" font-size="5.84">-</tspan></text>
<text x="350.70" y="525.15" font-size="7.3" text-anchor="end" font-weight="normal" fill="#000" opacity="0.999" transform="rotate(-45 350.70 522.60)">CD31<tspan dy="-3.29" font-size="5.84">-</tspan><tspan dy="3.29"> /CD45</tspan><tspan dy="-3.29" font-size="5.84">+</tspan></text>
<text x="377.10" y="525.15" font-size="7.3" text-anchor="end" font-weight="normal" fill="#000" opacity="0.999" transform="rotate(-45 377.10 522.60)">CD31<tspan dy="-3.29" font-size="5.84">-</tspan><tspan dy="3.29"> /CD45</tspan><tspan dy="-3.29" font-size="5.84">-</tspan></text>
<text x="403.40" y="525.15" font-size="7.3" text-anchor="end" font-weight="normal" fill="#000" opacity="0.999" transform="rotate(-45 403.40 522.60)">CD31<tspan dy="-3.29" font-size="5.84">+</tspan><tspan dy="3.29"> /CD45</tspan><tspan dy="-3.29" font-size="5.84">-</tspan></text>
<text x="429.60" y="525.15" font-size="7.3" text-anchor="end" font-weight="normal" fill="#000" opacity="0.999" transform="rotate(-45 429.60 522.60)">CD31<tspan dy="-3.29" font-size="5.84">-</tspan><tspan dy="3.29"> /CD45</tspan><tspan dy="-3.29" font-size="5.84">+</tspan></text>
<text x="456.10" y="525.15" font-size="7.3" text-anchor="end" font-weight="normal" fill="#000" opacity="0.999" transform="rotate(-45 456.10 522.60)">CD31<tspan dy="-3.29" font-size="5.84">-</tspan><tspan dy="3.29"> /CD45</tspan><tspan dy="-3.29" font-size="5.84">-</tspan></text>
<line x1="291.70" y1="558.40" x2="350.80" y2="558.40" stroke="#000" stroke-width="0.6"/>
<text x="321.20" y="565.58" font-size="6.8" text-anchor="middle" font-weight="normal" fill="#000" opacity="0.999">Kidney</text>
<line x1="373.80" y1="558.40" x2="433.00" y2="558.40" stroke="#000" stroke-width="0.6"/>
<text x="403.50" y="565.58" font-size="6.8" text-anchor="middle" font-weight="normal" fill="#000" opacity="0.999">Liver</text>
<line x1="522.40" y1="408.60" x2="522.40" y2="512.70" stroke="#000" stroke-width="0.7"/>
<line x1="519.00" y1="512.40" x2="677.30" y2="512.40" stroke="#000" stroke-width="0.7"/>
<line x1="519.00" y1="512.40" x2="522.40" y2="512.40" stroke="#000" stroke-width="0.6"/>
<text x="517.40" y="515.20" font-size="8" text-anchor="end" font-weight="normal" fill="#000" opacity="0.999">0</text>
<line x1="519.00" y1="477.86" x2="522.40" y2="477.86" stroke="#000" stroke-width="0.6"/>
<text x="517.40" y="480.66" font-size="8" text-anchor="end" font-weight="normal" fill="#000" opacity="0.999">2</text>
<line x1="519.00" y1="443.32" x2="522.40" y2="443.32" stroke="#000" stroke-width="0.6"/>
<text x="517.40" y="446.12" font-size="8" text-anchor="end" font-weight="normal" fill="#000" opacity="0.999">4</text>
<line x1="519.00" y1="408.78" x2="522.40" y2="408.78" stroke="#000" stroke-width="0.6"/>
<text x="517.40" y="411.58" font-size="8" text-anchor="end" font-weight="normal" fill="#000" opacity="0.999">6</text>
<rect x="526.40" y="509.00" width="6.80" height="3.40" fill="#9a9a9a" stroke="#111" stroke-width="0.55"/>
<rect x="535.40" y="502.30" width="7.00" height="10.10" fill="#2171b5" stroke="#111" stroke-width="0.55"/>
<rect x="552.60" y="484.80" width="6.80" height="27.60" fill="#9a9a9a" stroke="#111" stroke-width="0.55"/>
<rect x="562.30" y="477.80" width="6.80" height="34.60" fill="#2171b5" stroke="#111" stroke-width="0.55"/>
<rect x="579.00" y="502.30" width="6.60" height="10.10" fill="#9a9a9a" stroke="#111" stroke-width="0.55"/>
<rect x="588.50" y="437.90" width="6.90" height="74.50" fill="#2171b5" stroke="#111" stroke-width="0.55"/>
<rect x="605.30" y="497.00" width="6.70" height="15.40" fill="#9a9a9a" stroke="#111" stroke-width="0.55"/>
<rect x="615.10" y="488.50" width="6.90" height="23.90" fill="#2171b5" stroke="#111" stroke-width="0.55"/>
<rect x="631.80" y="500.80" width="6.70" height="11.60" fill="#9a9a9a" stroke="#111" stroke-width="0.55"/>
<rect x="641.40" y="500.80" width="6.80" height="11.60" fill="#2171b5" stroke="#111" stroke-width="0.55"/>
<rect x="658.20" y="507.50" width="6.80" height="4.90" fill="#9a9a9a" stroke="#111" stroke-width="0.55"/>
<rect x="667.80" y="503.00" width="7.00" height="9.40" fill="#2171b5" stroke="#111" stroke-width="0.55"/>
<line x1="529.80" y1="507.00" x2="529.80" y2="510.80" stroke="#000" stroke-width="0.55"/>
<line x1="528.60" y1="507.00" x2="531.00" y2="507.00" stroke="#000" stroke-width="0.55"/>
<line x1="528.60" y1="510.80" x2="531.00" y2="510.80" stroke="#000" stroke-width="0.55"/>
<line x1="538.90" y1="500.00" x2="538.90" y2="504.50" stroke="#000" stroke-width="0.55"/>
<line x1="537.70" y1="500.00" x2="540.10" y2="500.00" stroke="#000" stroke-width="0.55"/>
<line x1="537.70" y1="504.50" x2="540.10" y2="504.50" stroke="#000" stroke-width="0.55"/>
<line x1="556.00" y1="479.50" x2="556.00" y2="490.00" stroke="#000" stroke-width="0.55"/>
<line x1="554.80" y1="479.50" x2="557.20" y2="479.50" stroke="#000" stroke-width="0.55"/>
<line x1="554.80" y1="490.00" x2="557.20" y2="490.00" stroke="#000" stroke-width="0.55"/>
<line x1="565.70" y1="465.00" x2="565.70" y2="490.50" stroke="#000" stroke-width="0.55"/>
<line x1="564.10" y1="465.00" x2="567.30" y2="465.00" stroke="#000" stroke-width="0.55"/>
<line x1="564.10" y1="490.50" x2="567.30" y2="490.50" stroke="#000" stroke-width="0.55"/>
<line x1="582.30" y1="498.50" x2="582.30" y2="506.00" stroke="#000" stroke-width="0.55"/>
<line x1="581.10" y1="498.50" x2="583.50" y2="498.50" stroke="#000" stroke-width="0.55"/>
<line x1="581.10" y1="506.00" x2="583.50" y2="506.00" stroke="#000" stroke-width="0.55"/>
<line x1="592.00" y1="419.00" x2="592.00" y2="461.00" stroke="#000" stroke-width="0.55"/>
<line x1="590.20" y1="419.00" x2="593.80" y2="419.00" stroke="#000" stroke-width="0.55"/>
<line x1="590.20" y1="461.00" x2="593.80" y2="461.00" stroke="#000" stroke-width="0.55"/>
<line x1="608.60" y1="486.50" x2="608.60" y2="506.50" stroke="#000" stroke-width="0.55"/>
<line x1="607.00" y1="486.50" x2="610.20" y2="486.50" stroke="#000" stroke-width="0.55"/>
<line x1="607.00" y1="506.50" x2="610.20" y2="506.50" stroke="#000" stroke-width="0.55"/>
<line x1="618.50" y1="483.50" x2="618.50" y2="493.50" stroke="#000" stroke-width="0.55"/>
<line x1="617.10" y1="483.50" x2="619.90" y2="483.50" stroke="#000" stroke-width="0.55"/>
<line x1="617.10" y1="493.50" x2="619.90" y2="493.50" stroke="#000" stroke-width="0.55"/>
<line x1="635.20" y1="497.00" x2="635.20" y2="504.60" stroke="#000" stroke-width="0.55"/>
<line x1="634.00" y1="497.00" x2="636.40" y2="497.00" stroke="#000" stroke-width="0.55"/>
<line x1="634.00" y1="504.60" x2="636.40" y2="504.60" stroke="#000" stroke-width="0.55"/>
<line x1="644.80" y1="497.00" x2="644.80" y2="504.60" stroke="#000" stroke-width="0.55"/>
<line x1="643.60" y1="497.00" x2="646.00" y2="497.00" stroke="#000" stroke-width="0.55"/>
<line x1="643.60" y1="504.60" x2="646.00" y2="504.60" stroke="#000" stroke-width="0.55"/>
<line x1="661.60" y1="506.00" x2="661.60" y2="509.00" stroke="#000" stroke-width="0.55"/>
<line x1="660.40" y1="506.00" x2="662.80" y2="506.00" stroke="#000" stroke-width="0.55"/>
<line x1="660.40" y1="509.00" x2="662.80" y2="509.00" stroke="#000" stroke-width="0.55"/>
<line x1="671.30" y1="489.80" x2="671.30" y2="512.00" stroke="#000" stroke-width="0.55"/>
<line x1="669.70" y1="489.80" x2="672.90" y2="489.80" stroke="#000" stroke-width="0.55"/>
<line x1="669.70" y1="512.00" x2="672.90" y2="512.00" stroke="#000" stroke-width="0.55"/>
<circle cx="528.60" cy="510.40" r="1.7" fill="#000"/>
<circle cx="530.80" cy="510.00" r="1.7" fill="#000"/>
<circle cx="529.60" cy="506.40" r="1.7" fill="#000"/>
<circle cx="538.00" cy="502.60" r="1.7" fill="#000"/>
<circle cx="539.60" cy="502.00" r="1.7" fill="#000"/>
<circle cx="538.80" cy="498.60" r="1.7" fill="#000"/>
<circle cx="555.00" cy="477.60" r="1.7" fill="#000"/>
<circle cx="557.00" cy="480.40" r="1.7" fill="#000"/>
<circle cx="556.00" cy="492.60" r="1.7" fill="#000"/>
<circle cx="566.20" cy="459.60" r="1.7" fill="#000"/>
<circle cx="565.40" cy="471.80" r="1.7" fill="#000"/>
<circle cx="566.00" cy="487.20" r="1.7" fill="#000"/>
<circle cx="565.60" cy="499.80" r="1.7" fill="#000"/>
<circle cx="581.40" cy="503.20" r="1.7" fill="#000"/>
<circle cx="583.40" cy="503.60" r="1.7" fill="#000"/>
<circle cx="582.40" cy="496.80" r="1.7" fill="#000"/>
<circle cx="591.40" cy="414.20" r="1.7" fill="#000"/>
<circle cx="590.60" cy="431.80" r="1.7" fill="#000"/>
<circle cx="593.60" cy="434.00" r="1.7" fill="#000"/>
<circle cx="592.20" cy="470.40" r="1.7" fill="#000"/>
<circle cx="607.60" cy="497.00" r="1.7" fill="#000"/>
<circle cx="609.60" cy="505.40" r="1.7" fill="#000"/>
<circle cx="609.00" cy="485.40" r="1.7" fill="#000"/>
<circle cx="617.60" cy="484.00" r="1.7" fill="#000"/>
<circle cx="619.80" cy="482.00" r="1.7" fill="#000"/>
<circle cx="619.00" cy="495.20" r="1.7" fill="#000"/>
<circle cx="634.00" cy="496.20" r="1.7" fill="#000"/>
<circle cx="636.40" cy="496.20" r="1.7" fill="#000"/>
<circle cx="635.20" cy="506.20" r="1.7" fill="#000"/>
<circle cx="643.80" cy="501.40" r="1.7" fill="#000"/>
<circle cx="645.80" cy="501.40" r="1.7" fill="#000"/>
<circle cx="644.80" cy="495.80" r="1.7" fill="#000"/>
<circle cx="660.40" cy="508.40" r="1.7" fill="#000"/>
<circle cx="662.60" cy="508.00" r="1.7" fill="#000"/>
<circle cx="661.60" cy="507.00" r="1.7" fill="#000"/>
<circle cx="670.20" cy="510.80" r="1.7" fill="#000"/>
<circle cx="672.60" cy="510.40" r="1.7" fill="#000"/>
<circle cx="671.40" cy="482.40" r="1.7" fill="#000"/>
<line x1="580.20" y1="409.40" x2="594.00" y2="409.40" stroke="#000" stroke-width="0.6"/>
<text x="586.90" y="412.72" font-size="15" text-anchor="middle" fill="#111">*</text>
<text x="534.10" y="525.15" font-size="7.3" text-anchor="end" font-weight="normal" fill="#000" opacity="0.999" transform="rotate(-45 534.10 522.60)">CD31<tspan dy="-3.29" font-size="5.84">+</tspan><tspan dy="3.29"> /CD45</tspan><tspan dy="-3.29" font-size="5.84">-</tspan></text>
<text x="560.60" y="525.15" font-size="7.3" text-anchor="end" font-weight="normal" fill="#000" opacity="0.999" transform="rotate(-45 560.60 522.60)">CD31<tspan dy="-3.29" font-size="5.84">-</tspan><tspan dy="3.29"> /CD45</tspan><tspan dy="-3.29" font-size="5.84">+</tspan></text>
<text x="587.10" y="525.15" font-size="7.3" text-anchor="end" font-weight="normal" fill="#000" opacity="0.999" transform="rotate(-45 587.10 522.60)">CD31<tspan dy="-3.29" font-size="5.84">-</tspan><tspan dy="3.29"> /CD45</tspan><tspan dy="-3.29" font-size="5.84">-</tspan></text>
<text x="613.60" y="525.15" font-size="7.3" text-anchor="end" font-weight="normal" fill="#000" opacity="0.999" transform="rotate(-45 613.60 522.60)">CD31<tspan dy="-3.29" font-size="5.84">+</tspan><tspan dy="3.29"> /CD45</tspan><tspan dy="-3.29" font-size="5.84">-</tspan></text>
<text x="640.10" y="525.15" font-size="7.3" text-anchor="end" font-weight="normal" fill="#000" opacity="0.999" transform="rotate(-45 640.10 522.60)">CD31<tspan dy="-3.29" font-size="5.84">-</tspan><tspan dy="3.29"> /CD45</tspan><tspan dy="-3.29" font-size="5.84">+</tspan></text>
<text x="666.60" y="525.15" font-size="7.3" text-anchor="end" font-weight="normal" fill="#000" opacity="0.999" transform="rotate(-45 666.60 522.60)">CD31<tspan dy="-3.29" font-size="5.84">-</tspan><tspan dy="3.29"> /CD45</tspan><tspan dy="-3.29" font-size="5.84">-</tspan></text>
<line x1="534.60" y1="512.40" x2="534.60" y2="514.60" stroke="#000" stroke-width="0.6"/>
<line x1="560.90" y1="512.40" x2="560.90" y2="514.60" stroke="#000" stroke-width="0.6"/>
<line x1="587.20" y1="512.40" x2="587.20" y2="514.60" stroke="#000" stroke-width="0.6"/>
<line x1="613.60" y1="512.40" x2="613.60" y2="514.60" stroke="#000" stroke-width="0.6"/>
<line x1="640.00" y1="512.40" x2="640.00" y2="514.60" stroke="#000" stroke-width="0.6"/>
<line x1="666.50" y1="512.40" x2="666.50" y2="514.60" stroke="#000" stroke-width="0.6"/>
<line x1="501.70" y1="558.40" x2="560.80" y2="558.40" stroke="#000" stroke-width="0.6"/>
<text x="531.20" y="565.58" font-size="6.8" text-anchor="middle" font-weight="normal" fill="#000" opacity="0.999">Kidney</text>
<line x1="583.80" y1="558.40" x2="643.00" y2="558.40" stroke="#000" stroke-width="0.6"/>
<text x="613.50" y="565.58" font-size="6.8" text-anchor="middle" font-weight="normal" fill="#000" opacity="0.999">Liver</text>
<rect x="639.70" y="406.40" width="4.80" height="4.80" fill="#7f7f7f" stroke="#111" stroke-width="0.55"/>
<text x="646.60" y="411.07" font-size="6.5" text-anchor="start" font-weight="normal" fill="#000" opacity="0.999">PBS</text>
<rect x="639.70" y="413.00" width="4.80" height="4.80" fill="#e4e9c6" stroke="#111" stroke-width="0.55"/>
<text x="646.60" y="417.67" font-size="6.5" text-anchor="start" font-weight="normal" fill="#000" opacity="0.999">LNPs-LP01</text>
<rect x="639.70" y="419.60" width="4.80" height="4.80" fill="#2171b5" stroke="#111" stroke-width="0.55"/>
<text x="646.60" y="424.27" font-size="6.5" text-anchor="start" font-weight="normal" fill="#000" opacity="0.999">SANGs</text>
</g>
</svg>
</body></html>
